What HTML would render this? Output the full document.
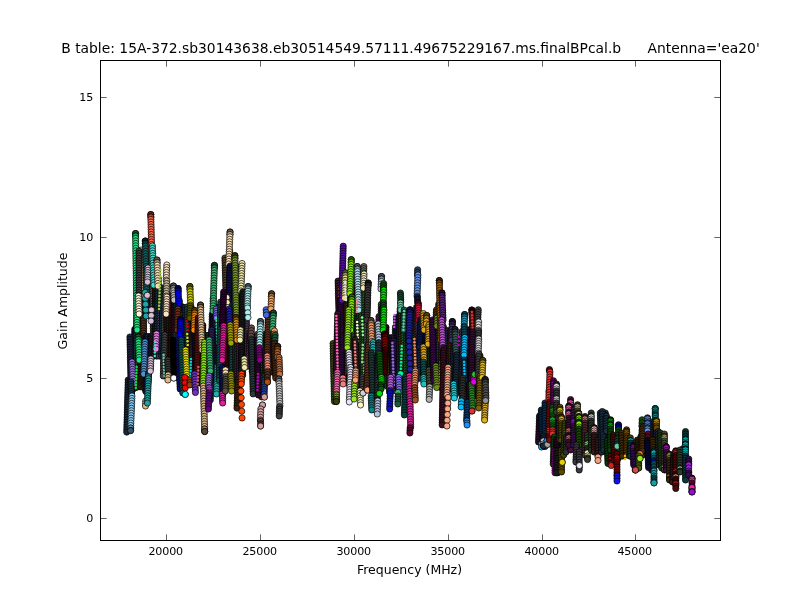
<!DOCTYPE html>
<html><head><meta charset="utf-8"><title>B table</title>
<style>
html,body{margin:0;padding:0;background:#fff;}
body{width:800px;height:600px;overflow:hidden;}
svg{display:block;}
text{font-family:"DejaVu Sans","Liberation Sans",sans-serif;fill:#000;}
.t{font-size:11.11px;letter-spacing:-0.16px;}
.l{font-size:12.5px;}
.h{font-size:13.87px;}
.c path{fill:none;stroke:none}
marker circle{stroke:#000;stroke-width:.7}
marker circle.v{stroke:none}
</style></head><body>
<svg width="800" height="600" viewBox="0 0 800 600">
<rect x="0" y="0" width="800" height="600" fill="#fff"/>
<defs>
<marker id="m0" markerWidth="8" markerHeight="8" refX="4" refY="4" markerUnits="userSpaceOnUse"><circle cx="4" cy="4" r="3.1" fill="#202a50"/></marker>
<marker id="m1" markerWidth="8" markerHeight="8" refX="4" refY="4" markerUnits="userSpaceOnUse"><circle cx="4" cy="4" r="3.1" fill="#4a3a5a"/></marker>
<marker id="m2" markerWidth="8" markerHeight="8" refX="4" refY="4" markerUnits="userSpaceOnUse"><circle cx="4" cy="4" r="3.1" fill="#101040"/></marker>
<marker id="m3" markerWidth="8" markerHeight="8" refX="4" refY="4" markerUnits="userSpaceOnUse"><circle cx="4" cy="4" r="3.1" fill="#1a4a3a"/></marker>
<marker id="m4" markerWidth="8" markerHeight="8" refX="4" refY="4" markerUnits="userSpaceOnUse"><circle cx="4" cy="4" r="3.1" fill="#2a5a2a"/></marker>
<marker id="m5" markerWidth="8" markerHeight="8" refX="4" refY="4" markerUnits="userSpaceOnUse"><circle cx="4" cy="4" r="3.1" fill="#2a1a10"/></marker>
<marker id="m6" markerWidth="8" markerHeight="8" refX="4" refY="4" markerUnits="userSpaceOnUse"><circle cx="4" cy="4" r="3.1" fill="#503020"/></marker>
<marker id="m7" markerWidth="8" markerHeight="8" refX="4" refY="4" markerUnits="userSpaceOnUse"><circle cx="4" cy="4" r="3.1" fill="#0a3a4a"/></marker>
<marker id="m8" markerWidth="8" markerHeight="8" refX="4" refY="4" markerUnits="userSpaceOnUse"><circle cx="4" cy="4" r="3.1" fill="#555555"/></marker>
<marker id="m9" markerWidth="8" markerHeight="8" refX="4" refY="4" markerUnits="userSpaceOnUse"><circle cx="4" cy="4" r="3.1" fill="#401010"/></marker>
<marker id="m10" markerWidth="8" markerHeight="8" refX="4" refY="4" markerUnits="userSpaceOnUse"><circle cx="4" cy="4" r="3.1" fill="#0a3a1a"/></marker>
<marker id="m11" markerWidth="8" markerHeight="8" refX="4" refY="4" markerUnits="userSpaceOnUse"><circle cx="4" cy="4" r="3.1" fill="#300a30"/></marker>
<marker id="m12" markerWidth="8" markerHeight="8" refX="4" refY="4" markerUnits="userSpaceOnUse"><circle cx="4" cy="4" r="3.1" fill="#602060"/></marker>
<marker id="m13" markerWidth="8" markerHeight="8" refX="4" refY="4" markerUnits="userSpaceOnUse"><circle cx="4" cy="4" r="3.1" fill="#205050"/></marker>
<marker id="m14" markerWidth="8" markerHeight="8" refX="4" refY="4" markerUnits="userSpaceOnUse"><circle cx="4" cy="4" r="3.1" fill="#303030"/></marker>
<marker id="m15" markerWidth="8" markerHeight="8" refX="4" refY="4" markerUnits="userSpaceOnUse"><circle cx="4" cy="4" r="3.1" fill="#3a3a10"/></marker>
<marker id="m16" markerWidth="8" markerHeight="8" refX="4" refY="4" markerUnits="userSpaceOnUse"><circle cx="4" cy="4" r="3.1" fill="#402a10"/></marker>
<marker id="m17" markerWidth="8" markerHeight="8" refX="4" refY="4" markerUnits="userSpaceOnUse"><circle cx="4" cy="4" r="3.1" fill="#10302a"/></marker>
<marker id="m18" markerWidth="8" markerHeight="8" refX="4" refY="4" markerUnits="userSpaceOnUse"><circle cx="4" cy="4" r="3.1" fill="#1a2a3a"/></marker>
<marker id="m19" markerWidth="8" markerHeight="8" refX="4" refY="4" markerUnits="userSpaceOnUse"><circle cx="4" cy="4" r="3.1" fill="#202040"/></marker>
<marker id="m20" markerWidth="8" markerHeight="8" refX="4" refY="4" markerUnits="userSpaceOnUse"><circle cx="4" cy="4" r="3.1" fill="#9370db"/></marker>
<marker id="m21" markerWidth="8" markerHeight="8" refX="4" refY="4" markerUnits="userSpaceOnUse"><circle cx="4" cy="4" r="3.1" fill="#1a3a4a"/></marker>
<marker id="m22" markerWidth="8" markerHeight="8" refX="4" refY="4" markerUnits="userSpaceOnUse"><circle cx="4" cy="4" r="3.1" fill="#87cefa"/></marker>
<marker id="m23" markerWidth="8" markerHeight="8" refX="4" refY="4" markerUnits="userSpaceOnUse"><circle cx="4" cy="4" r="3.1" fill="#5e90af"/></marker>
<marker id="m24" markerWidth="8" markerHeight="8" refX="4" refY="4" markerUnits="userSpaceOnUse"><circle cx="4" cy="4" r="3.1" fill="#365264"/></marker>
<marker id="m25" markerWidth="4" markerHeight="4" refX="2" refY="2" markerUnits="userSpaceOnUse"><circle class="v" cx="2" cy="2" r="1.25" fill="#4682b4"/></marker>
<marker id="m26" markerWidth="8" markerHeight="8" refX="4" refY="4" markerUnits="userSpaceOnUse"><circle cx="4" cy="4" r="3.1" fill="#deb887"/></marker>
<marker id="m27" markerWidth="8" markerHeight="8" refX="4" refY="4" markerUnits="userSpaceOnUse"><circle cx="4" cy="4" r="3.1" fill="#0c5c34"/></marker>
<marker id="m28" markerWidth="8" markerHeight="8" refX="4" refY="4" markerUnits="userSpaceOnUse"><circle cx="4" cy="4" r="3.1" fill="#15a15b"/></marker>
<marker id="m29" markerWidth="8" markerHeight="8" refX="4" refY="4" markerUnits="userSpaceOnUse"><circle cx="4" cy="4" r="3.1" fill="#1ee682"/></marker>
<marker id="m30" markerWidth="8" markerHeight="8" refX="4" refY="4" markerUnits="userSpaceOnUse"><circle cx="4" cy="4" r="3.1" fill="#3c3c3c"/></marker>
<marker id="m31" markerWidth="8" markerHeight="8" refX="4" refY="4" markerUnits="userSpaceOnUse"><circle cx="4" cy="4" r="3.1" fill="#fff8dc"/></marker>
<marker id="m32" markerWidth="8" markerHeight="8" refX="4" refY="4" markerUnits="userSpaceOnUse"><circle cx="4" cy="4" r="3.1" fill="#062626"/></marker>
<marker id="m33" markerWidth="8" markerHeight="8" refX="4" refY="4" markerUnits="userSpaceOnUse"><circle cx="4" cy="4" r="3.1" fill="#0a4242"/></marker>
<marker id="m34" markerWidth="8" markerHeight="8" refX="4" refY="4" markerUnits="userSpaceOnUse"><circle cx="4" cy="4" r="3.1" fill="#0f5f5f"/></marker>
<marker id="m35" markerWidth="8" markerHeight="8" refX="4" refY="4" markerUnits="userSpaceOnUse"><circle cx="4" cy="4" r="3.1" fill="#66271c"/></marker>
<marker id="m36" markerWidth="8" markerHeight="8" refX="4" refY="4" markerUnits="userSpaceOnUse"><circle cx="4" cy="4" r="3.1" fill="#b24531"/></marker>
<marker id="m37" markerWidth="8" markerHeight="8" refX="4" refY="4" markerUnits="userSpaceOnUse"><circle cx="4" cy="4" r="3.1" fill="#ff6347"/></marker>
<marker id="m38" markerWidth="8" markerHeight="8" refX="4" refY="4" markerUnits="userSpaceOnUse"><circle cx="4" cy="4" r="3.1" fill="#d8bfd8"/></marker>
<marker id="m39" markerWidth="8" markerHeight="8" refX="4" refY="4" markerUnits="userSpaceOnUse"><circle cx="4" cy="4" r="3.1" fill="#40e0d0"/></marker>
<marker id="m40" markerWidth="8" markerHeight="8" refX="4" refY="4" markerUnits="userSpaceOnUse"><circle cx="4" cy="4" r="3.1" fill="#625847"/></marker>
<marker id="m41" markerWidth="8" markerHeight="8" refX="4" refY="4" markerUnits="userSpaceOnUse"><circle cx="4" cy="4" r="3.1" fill="#ab9b7d"/></marker>
<marker id="m42" markerWidth="8" markerHeight="8" refX="4" refY="4" markerUnits="userSpaceOnUse"><circle cx="4" cy="4" r="3.1" fill="#f5deb3"/></marker>
<marker id="m43" markerWidth="4" markerHeight="4" refX="2" refY="2" markerUnits="userSpaceOnUse"><circle class="v" cx="2" cy="2" r="1.25" fill="#9acd32"/></marker>
<marker id="m44" markerWidth="8" markerHeight="8" refX="4" refY="4" markerUnits="userSpaceOnUse"><circle cx="4" cy="4" r="3.1" fill="#ffe4c4"/></marker>
<marker id="m45" markerWidth="8" markerHeight="8" refX="4" refY="4" markerUnits="userSpaceOnUse"><circle cx="4" cy="4" r="3.1" fill="#c8b89a"/></marker>
<marker id="m46" markerWidth="8" markerHeight="8" refX="4" refY="4" markerUnits="userSpaceOnUse"><circle cx="4" cy="4" r="3.1" fill="#20a5a5"/></marker>
<marker id="m47" markerWidth="4" markerHeight="4" refX="2" refY="2" markerUnits="userSpaceOnUse"><circle class="v" cx="2" cy="2" r="1.25" fill="#00e040"/></marker>
<marker id="m48" markerWidth="8" markerHeight="8" refX="4" refY="4" markerUnits="userSpaceOnUse"><circle cx="4" cy="4" r="3.1" fill="#5090d0"/></marker>
<marker id="m49" markerWidth="8" markerHeight="8" refX="4" refY="4" markerUnits="userSpaceOnUse"><circle cx="4" cy="4" r="3.1" fill="#ee82ee"/></marker>
<marker id="m50" markerWidth="4" markerHeight="4" refX="2" refY="2" markerUnits="userSpaceOnUse"><circle class="v" cx="2" cy="2" r="1.25" fill="#40e0d0"/></marker>
<marker id="m51" markerWidth="8" markerHeight="8" refX="4" refY="4" markerUnits="userSpaceOnUse"><circle cx="4" cy="4" r="3.1" fill="#404040"/></marker>
<marker id="m52" markerWidth="4" markerHeight="4" refX="2" refY="2" markerUnits="userSpaceOnUse"><circle class="v" cx="2" cy="2" r="1.25" fill="#66cdaa"/></marker>
<marker id="m53" markerWidth="8" markerHeight="8" refX="4" refY="4" markerUnits="userSpaceOnUse"><circle cx="4" cy="4" r="3.1" fill="#0c4040"/></marker>
<marker id="m54" markerWidth="8" markerHeight="8" refX="4" refY="4" markerUnits="userSpaceOnUse"><circle cx="4" cy="4" r="3.1" fill="#167070"/></marker>
<marker id="m55" markerWidth="8" markerHeight="8" refX="4" refY="4" markerUnits="userSpaceOnUse"><circle cx="4" cy="4" r="3.1" fill="#20a0a0"/></marker>
<marker id="m56" markerWidth="8" markerHeight="8" refX="4" refY="4" markerUnits="userSpaceOnUse"><circle cx="4" cy="4" r="3.1" fill="#3a3a3a"/></marker>
<marker id="m57" markerWidth="8" markerHeight="8" refX="4" refY="4" markerUnits="userSpaceOnUse"><circle cx="4" cy="4" r="3.1" fill="#4c4c4c"/></marker>
<marker id="m58" markerWidth="8" markerHeight="8" refX="4" refY="4" markerUnits="userSpaceOnUse"><circle cx="4" cy="4" r="3.1" fill="#868686"/></marker>
<marker id="m59" markerWidth="8" markerHeight="8" refX="4" refY="4" markerUnits="userSpaceOnUse"><circle cx="4" cy="4" r="3.1" fill="#c0c0c0"/></marker>
<marker id="m60" markerWidth="8" markerHeight="8" refX="4" refY="4" markerUnits="userSpaceOnUse"><circle cx="4" cy="4" r="3.1" fill="#000000"/></marker>
<marker id="m61" markerWidth="8" markerHeight="8" refX="4" refY="4" markerUnits="userSpaceOnUse"><circle cx="4" cy="4" r="3.1" fill="#ffffff"/></marker>
<marker id="m62" markerWidth="8" markerHeight="8" refX="4" refY="4" markerUnits="userSpaceOnUse"><circle cx="4" cy="4" r="3.1" fill="#000066"/></marker>
<marker id="m63" markerWidth="8" markerHeight="8" refX="4" refY="4" markerUnits="userSpaceOnUse"><circle cx="4" cy="4" r="3.1" fill="#0000b2"/></marker>
<marker id="m64" markerWidth="8" markerHeight="8" refX="4" refY="4" markerUnits="userSpaceOnUse"><circle cx="4" cy="4" r="3.1" fill="#0000ff"/></marker>
<marker id="m65" markerWidth="8" markerHeight="8" refX="4" refY="4" markerUnits="userSpaceOnUse"><circle cx="4" cy="4" r="3.1" fill="#6b3010"/></marker>
<marker id="m66" markerWidth="8" markerHeight="8" refX="4" refY="4" markerUnits="userSpaceOnUse"><circle cx="4" cy="4" r="3.1" fill="#101080"/></marker>
<marker id="m67" markerWidth="8" markerHeight="8" refX="4" refY="4" markerUnits="userSpaceOnUse"><circle cx="4" cy="4" r="3.1" fill="#0f4f4f"/></marker>
<marker id="m68" markerWidth="4" markerHeight="4" refX="2" refY="2" markerUnits="userSpaceOnUse"><circle class="v" cx="2" cy="2" r="1.25" fill="#e00000"/></marker>
<marker id="m69" markerWidth="4" markerHeight="4" refX="2" refY="2" markerUnits="userSpaceOnUse"><circle class="v" cx="2" cy="2" r="1.25" fill="#e0e000"/></marker>
<marker id="m70" markerWidth="8" markerHeight="8" refX="4" refY="4" markerUnits="userSpaceOnUse"><circle cx="4" cy="4" r="3.1" fill="#515100"/></marker>
<marker id="m71" markerWidth="8" markerHeight="8" refX="4" refY="4" markerUnits="userSpaceOnUse"><circle cx="4" cy="4" r="3.1" fill="#8e8e00"/></marker>
<marker id="m72" markerWidth="8" markerHeight="8" refX="4" refY="4" markerUnits="userSpaceOnUse"><circle cx="4" cy="4" r="3.1" fill="#cccc00"/></marker>
<marker id="m73" markerWidth="8" markerHeight="8" refX="4" refY="4" markerUnits="userSpaceOnUse"><circle cx="4" cy="4" r="3.1" fill="#555500"/></marker>
<marker id="m74" markerWidth="8" markerHeight="8" refX="4" refY="4" markerUnits="userSpaceOnUse"><circle cx="4" cy="4" r="3.1" fill="#663800"/></marker>
<marker id="m75" markerWidth="8" markerHeight="8" refX="4" refY="4" markerUnits="userSpaceOnUse"><circle cx="4" cy="4" r="3.1" fill="#b26200"/></marker>
<marker id="m76" markerWidth="8" markerHeight="8" refX="4" refY="4" markerUnits="userSpaceOnUse"><circle cx="4" cy="4" r="3.1" fill="#ff8c00"/></marker>
<marker id="m77" markerWidth="8" markerHeight="8" refX="4" refY="4" markerUnits="userSpaceOnUse"><circle cx="4" cy="4" r="3.1" fill="#5a1010"/></marker>
<marker id="m78" markerWidth="8" markerHeight="8" refX="4" refY="4" markerUnits="userSpaceOnUse"><circle cx="4" cy="4" r="3.1" fill="#5c4c39"/></marker>
<marker id="m79" markerWidth="8" markerHeight="8" refX="4" refY="4" markerUnits="userSpaceOnUse"><circle cx="4" cy="4" r="3.1" fill="#a28664"/></marker>
<marker id="m80" markerWidth="8" markerHeight="8" refX="4" refY="4" markerUnits="userSpaceOnUse"><circle cx="4" cy="4" r="3.1" fill="#e8c090"/></marker>
<marker id="m81" markerWidth="8" markerHeight="8" refX="4" refY="4" markerUnits="userSpaceOnUse"><circle cx="4" cy="4" r="3.1" fill="#e8e000"/></marker>
<marker id="m82" markerWidth="8" markerHeight="8" refX="4" refY="4" markerUnits="userSpaceOnUse"><circle cx="4" cy="4" r="3.1" fill="#ff0000"/></marker>
<marker id="m83" markerWidth="8" markerHeight="8" refX="4" refY="4" markerUnits="userSpaceOnUse"><circle cx="4" cy="4" r="3.1" fill="#00ffff"/></marker>
<marker id="m84" markerWidth="4" markerHeight="4" refX="2" refY="2" markerUnits="userSpaceOnUse"><circle class="v" cx="2" cy="2" r="1.25" fill="#00ced1"/></marker>
<marker id="m85" markerWidth="8" markerHeight="8" refX="4" refY="4" markerUnits="userSpaceOnUse"><circle cx="4" cy="4" r="3.1" fill="#8b4513"/></marker>
<marker id="m86" markerWidth="8" markerHeight="8" refX="4" refY="4" markerUnits="userSpaceOnUse"><circle cx="4" cy="4" r="3.1" fill="#7030c0"/></marker>
<marker id="m87" markerWidth="4" markerHeight="4" refX="2" refY="2" markerUnits="userSpaceOnUse"><circle class="v" cx="2" cy="2" r="1.25" fill="#cd5c5c"/></marker>
<marker id="m88" markerWidth="8" markerHeight="8" refX="4" refY="4" markerUnits="userSpaceOnUse"><circle cx="4" cy="4" r="3.1" fill="#88e810"/></marker>
<marker id="m89" markerWidth="8" markerHeight="8" refX="4" refY="4" markerUnits="userSpaceOnUse"><circle cx="4" cy="4" r="3.1" fill="#9b805e"/></marker>
<marker id="m90" markerWidth="8" markerHeight="8" refX="4" refY="4" markerUnits="userSpaceOnUse"><circle cx="4" cy="4" r="3.1" fill="#584936"/></marker>
<marker id="m91" markerWidth="8" markerHeight="8" refX="4" refY="4" markerUnits="userSpaceOnUse"><circle cx="4" cy="4" r="3.1" fill="#18472d"/></marker>
<marker id="m92" markerWidth="8" markerHeight="8" refX="4" refY="4" markerUnits="userSpaceOnUse"><circle cx="4" cy="4" r="3.1" fill="#2a7d4f"/></marker>
<marker id="m93" markerWidth="8" markerHeight="8" refX="4" refY="4" markerUnits="userSpaceOnUse"><circle cx="4" cy="4" r="3.1" fill="#3cb371"/></marker>
<marker id="m94" markerWidth="8" markerHeight="8" refX="4" refY="4" markerUnits="userSpaceOnUse"><circle cx="4" cy="4" r="3.1" fill="#7b68ee"/></marker>
<marker id="m95" markerWidth="4" markerHeight="4" refX="2" refY="2" markerUnits="userSpaceOnUse"><circle class="v" cx="2" cy="2" r="1.25" fill="#40e0a0"/></marker>
<marker id="m96" markerWidth="8" markerHeight="8" refX="4" refY="4" markerUnits="userSpaceOnUse"><circle cx="4" cy="4" r="3.1" fill="#2a2060"/></marker>
<marker id="m97" markerWidth="8" markerHeight="8" refX="4" refY="4" markerUnits="userSpaceOnUse"><circle cx="4" cy="4" r="3.1" fill="#ba55d3"/></marker>
<marker id="m98" markerWidth="8" markerHeight="8" refX="4" refY="4" markerUnits="userSpaceOnUse"><circle cx="4" cy="4" r="3.1" fill="#600080"/></marker>
<marker id="m99" markerWidth="8" markerHeight="8" refX="4" refY="4" markerUnits="userSpaceOnUse"><circle cx="4" cy="4" r="3.1" fill="#20b2aa"/></marker>
<marker id="m100" markerWidth="8" markerHeight="8" refX="4" refY="4" markerUnits="userSpaceOnUse"><circle cx="4" cy="4" r="3.1" fill="#0f5050"/></marker>
<marker id="m101" markerWidth="8" markerHeight="8" refX="4" refY="4" markerUnits="userSpaceOnUse"><circle cx="4" cy="4" r="3.1" fill="#4a4030"/></marker>
<marker id="m102" markerWidth="8" markerHeight="8" refX="4" refY="4" markerUnits="userSpaceOnUse"><circle cx="4" cy="4" r="3.1" fill="#665b48"/></marker>
<marker id="m103" markerWidth="8" markerHeight="8" refX="4" refY="4" markerUnits="userSpaceOnUse"><circle cx="4" cy="4" r="3.1" fill="#b29f7e"/></marker>
<marker id="m104" markerWidth="8" markerHeight="8" refX="4" refY="4" markerUnits="userSpaceOnUse"><circle cx="4" cy="4" r="3.1" fill="#ffe4b5"/></marker>
<marker id="m105" markerWidth="8" markerHeight="8" refX="4" refY="4" markerUnits="userSpaceOnUse"><circle cx="4" cy="4" r="3.1" fill="#10104a"/></marker>
<marker id="m106" markerWidth="8" markerHeight="8" refX="4" refY="4" markerUnits="userSpaceOnUse"><circle cx="4" cy="4" r="3.1" fill="#2020a0"/></marker>
<marker id="m107" markerWidth="8" markerHeight="8" refX="4" refY="4" markerUnits="userSpaceOnUse"><circle cx="4" cy="4" r="3.1" fill="#300030"/></marker>
<marker id="m108" markerWidth="8" markerHeight="8" refX="4" refY="4" markerUnits="userSpaceOnUse"><circle cx="4" cy="4" r="3.1" fill="#e0209a"/></marker>
<marker id="m109" markerWidth="8" markerHeight="8" refX="4" refY="4" markerUnits="userSpaceOnUse"><circle cx="4" cy="4" r="3.1" fill="#101060"/></marker>
<marker id="m110" markerWidth="8" markerHeight="8" refX="4" refY="4" markerUnits="userSpaceOnUse"><circle cx="4" cy="4" r="3.1" fill="#e020a0"/></marker>
<marker id="m111" markerWidth="8" markerHeight="8" refX="4" refY="4" markerUnits="userSpaceOnUse"><circle cx="4" cy="4" r="3.1" fill="#5a5040"/></marker>
<marker id="m112" markerWidth="8" markerHeight="8" refX="4" refY="4" markerUnits="userSpaceOnUse"><circle cx="4" cy="4" r="3.1" fill="#a0a000"/></marker>
<marker id="m113" markerWidth="8" markerHeight="8" refX="4" refY="4" markerUnits="userSpaceOnUse"><circle cx="4" cy="4" r="3.1" fill="#909010"/></marker>
<marker id="m114" markerWidth="8" markerHeight="8" refX="4" refY="4" markerUnits="userSpaceOnUse"><circle cx="4" cy="4" r="3.1" fill="#303d10"/></marker>
<marker id="m115" markerWidth="8" markerHeight="8" refX="4" refY="4" markerUnits="userSpaceOnUse"><circle cx="4" cy="4" r="3.1" fill="#556b1d"/></marker>
<marker id="m116" markerWidth="8" markerHeight="8" refX="4" refY="4" markerUnits="userSpaceOnUse"><circle cx="4" cy="4" r="3.1" fill="#7a9a2a"/></marker>
<marker id="m117" markerWidth="8" markerHeight="8" refX="4" refY="4" markerUnits="userSpaceOnUse"><circle cx="4" cy="4" r="3.1" fill="#593906"/></marker>
<marker id="m118" markerWidth="8" markerHeight="8" refX="4" refY="4" markerUnits="userSpaceOnUse"><circle cx="4" cy="4" r="3.1" fill="#9c640b"/></marker>
<marker id="m119" markerWidth="8" markerHeight="8" refX="4" refY="4" markerUnits="userSpaceOnUse"><circle cx="4" cy="4" r="3.1" fill="#e09010"/></marker>
<marker id="m120" markerWidth="8" markerHeight="8" refX="4" refY="4" markerUnits="userSpaceOnUse"><circle cx="4" cy="4" r="3.1" fill="#3a2010"/></marker>
<marker id="m121" markerWidth="8" markerHeight="8" refX="4" refY="4" markerUnits="userSpaceOnUse"><circle cx="4" cy="4" r="3.1" fill="#eee8aa"/></marker>
<marker id="m122" markerWidth="8" markerHeight="8" refX="4" refY="4" markerUnits="userSpaceOnUse"><circle cx="4" cy="4" r="3.1" fill="#1a1a1a"/></marker>
<marker id="m123" markerWidth="8" markerHeight="8" refX="4" refY="4" markerUnits="userSpaceOnUse"><circle cx="4" cy="4" r="3.1" fill="#ff4500"/></marker>
<marker id="m124" markerWidth="8" markerHeight="8" refX="4" refY="4" markerUnits="userSpaceOnUse"><circle cx="4" cy="4" r="3.1" fill="#465f5f"/></marker>
<marker id="m125" markerWidth="8" markerHeight="8" refX="4" refY="4" markerUnits="userSpaceOnUse"><circle cx="4" cy="4" r="3.1" fill="#7aa6a6"/></marker>
<marker id="m126" markerWidth="8" markerHeight="8" refX="4" refY="4" markerUnits="userSpaceOnUse"><circle cx="4" cy="4" r="3.1" fill="#afeeee"/></marker>
<marker id="m127" markerWidth="8" markerHeight="8" refX="4" refY="4" markerUnits="userSpaceOnUse"><circle cx="4" cy="4" r="3.1" fill="#6b4a4a"/></marker>
<marker id="m128" markerWidth="8" markerHeight="8" refX="4" refY="4" markerUnits="userSpaceOnUse"><circle cx="4" cy="4" r="3.1" fill="#2a3a3a"/></marker>
<marker id="m129" markerWidth="8" markerHeight="8" refX="4" refY="4" markerUnits="userSpaceOnUse"><circle cx="4" cy="4" r="3.1" fill="#2a0a2a"/></marker>
<marker id="m130" markerWidth="4" markerHeight="4" refX="2" refY="2" markerUnits="userSpaceOnUse"><circle class="v" cx="2" cy="2" r="1.25" fill="#c000c0"/></marker>
<marker id="m131" markerWidth="8" markerHeight="8" refX="4" refY="4" markerUnits="userSpaceOnUse"><circle cx="4" cy="4" r="3.1" fill="#800080"/></marker>
<marker id="m132" markerWidth="8" markerHeight="8" refX="4" refY="4" markerUnits="userSpaceOnUse"><circle cx="4" cy="4" r="3.1" fill="#5a3020"/></marker>
<marker id="m133" markerWidth="8" markerHeight="8" refX="4" refY="4" markerUnits="userSpaceOnUse"><circle cx="4" cy="4" r="3.1" fill="#4169e1"/></marker>
<marker id="m134" markerWidth="8" markerHeight="8" refX="4" refY="4" markerUnits="userSpaceOnUse"><circle cx="4" cy="4" r="3.1" fill="#2040a0"/></marker>
<marker id="m135" markerWidth="8" markerHeight="8" refX="4" refY="4" markerUnits="userSpaceOnUse"><circle cx="4" cy="4" r="3.1" fill="#d0a0a0"/></marker>
<marker id="m136" markerWidth="8" markerHeight="8" refX="4" refY="4" markerUnits="userSpaceOnUse"><circle cx="4" cy="4" r="3.1" fill="#5a3a3a"/></marker>
<marker id="m137" markerWidth="8" markerHeight="8" refX="4" refY="4" markerUnits="userSpaceOnUse"><circle cx="4" cy="4" r="3.1" fill="#f09080"/></marker>
<marker id="m138" markerWidth="8" markerHeight="8" refX="4" refY="4" markerUnits="userSpaceOnUse"><circle cx="4" cy="4" r="3.1" fill="#b05010"/></marker>
<marker id="m139" markerWidth="8" markerHeight="8" refX="4" refY="4" markerUnits="userSpaceOnUse"><circle cx="4" cy="4" r="3.1" fill="#614126"/></marker>
<marker id="m140" markerWidth="8" markerHeight="8" refX="4" refY="4" markerUnits="userSpaceOnUse"><circle cx="4" cy="4" r="3.1" fill="#aa7243"/></marker>
<marker id="m141" markerWidth="8" markerHeight="8" refX="4" refY="4" markerUnits="userSpaceOnUse"><circle cx="4" cy="4" r="3.1" fill="#f4a460"/></marker>
<marker id="m142" markerWidth="8" markerHeight="8" refX="4" refY="4" markerUnits="userSpaceOnUse"><circle cx="4" cy="4" r="3.1" fill="#1a5a3a"/></marker>
<marker id="m143" markerWidth="8" markerHeight="8" refX="4" refY="4" markerUnits="userSpaceOnUse"><circle cx="4" cy="4" r="3.1" fill="#4a2810"/></marker>
<marker id="m144" markerWidth="8" markerHeight="8" refX="4" refY="4" markerUnits="userSpaceOnUse"><circle cx="4" cy="4" r="3.1" fill="#462613"/></marker>
<marker id="m145" markerWidth="8" markerHeight="8" refX="4" refY="4" markerUnits="userSpaceOnUse"><circle cx="4" cy="4" r="3.1" fill="#7b4321"/></marker>
<marker id="m146" markerWidth="8" markerHeight="8" refX="4" refY="4" markerUnits="userSpaceOnUse"><circle cx="4" cy="4" r="3.1" fill="#b06030"/></marker>
<marker id="m147" markerWidth="8" markerHeight="8" refX="4" refY="4" markerUnits="userSpaceOnUse"><circle cx="4" cy="4" r="3.1" fill="#c07040"/></marker>
<marker id="m148" markerWidth="8" markerHeight="8" refX="4" refY="4" markerUnits="userSpaceOnUse"><circle cx="4" cy="4" r="3.1" fill="#505050"/></marker>
<marker id="m149" markerWidth="8" markerHeight="8" refX="4" refY="4" markerUnits="userSpaceOnUse"><circle cx="4" cy="4" r="3.1" fill="#8c8c8c"/></marker>
<marker id="m150" markerWidth="8" markerHeight="8" refX="4" refY="4" markerUnits="userSpaceOnUse"><circle cx="4" cy="4" r="3.1" fill="#c8c8c8"/></marker>
<marker id="m151" markerWidth="8" markerHeight="8" refX="4" refY="4" markerUnits="userSpaceOnUse"><circle cx="4" cy="4" r="3.1" fill="#3a4a1a"/></marker>
<marker id="m152" markerWidth="8" markerHeight="8" refX="4" refY="4" markerUnits="userSpaceOnUse"><circle cx="4" cy="4" r="3.1" fill="#3a1a2a"/></marker>
<marker id="m153" markerWidth="8" markerHeight="8" refX="4" refY="4" markerUnits="userSpaceOnUse"><circle cx="4" cy="4" r="3.1" fill="#300a40"/></marker>
<marker id="m154" markerWidth="8" markerHeight="8" refX="4" refY="4" markerUnits="userSpaceOnUse"><circle cx="4" cy="4" r="3.1" fill="#5a10b0"/></marker>
<marker id="m155" markerWidth="8" markerHeight="8" refX="4" refY="4" markerUnits="userSpaceOnUse"><circle cx="4" cy="4" r="3.1" fill="#5c5839"/></marker>
<marker id="m156" markerWidth="8" markerHeight="8" refX="4" refY="4" markerUnits="userSpaceOnUse"><circle cx="4" cy="4" r="3.1" fill="#a29a64"/></marker>
<marker id="m157" markerWidth="8" markerHeight="8" refX="4" refY="4" markerUnits="userSpaceOnUse"><circle cx="4" cy="4" r="3.1" fill="#e8dc90"/></marker>
<marker id="m158" markerWidth="4" markerHeight="4" refX="2" refY="2" markerUnits="userSpaceOnUse"><circle class="v" cx="2" cy="2" r="1.25" fill="#e6e6fa"/></marker>
<marker id="m159" markerWidth="8" markerHeight="8" refX="4" refY="4" markerUnits="userSpaceOnUse"><circle cx="4" cy="4" r="3.1" fill="#3a1030"/></marker>
<marker id="m160" markerWidth="4" markerHeight="4" refX="2" refY="2" markerUnits="userSpaceOnUse"><circle class="v" cx="2" cy="2" r="1.25" fill="#ff69b4"/></marker>
<marker id="m161" markerWidth="8" markerHeight="8" refX="4" refY="4" markerUnits="userSpaceOnUse"><circle cx="4" cy="4" r="3.1" fill="#ff69b4"/></marker>
<marker id="m162" markerWidth="8" markerHeight="8" refX="4" refY="4" markerUnits="userSpaceOnUse"><circle cx="4" cy="4" r="3.1" fill="#80a020"/></marker>
<marker id="m163" markerWidth="8" markerHeight="8" refX="4" refY="4" markerUnits="userSpaceOnUse"><circle cx="4" cy="4" r="3.1" fill="#597016"/></marker>
<marker id="m164" markerWidth="8" markerHeight="8" refX="4" refY="4" markerUnits="userSpaceOnUse"><circle cx="4" cy="4" r="3.1" fill="#33400c"/></marker>
<marker id="m165" markerWidth="8" markerHeight="8" refX="4" refY="4" markerUnits="userSpaceOnUse"><circle cx="4" cy="4" r="3.1" fill="#f08080"/></marker>
<marker id="m166" markerWidth="8" markerHeight="8" refX="4" refY="4" markerUnits="userSpaceOnUse"><circle cx="4" cy="4" r="3.1" fill="#336000"/></marker>
<marker id="m167" markerWidth="8" markerHeight="8" refX="4" refY="4" markerUnits="userSpaceOnUse"><circle cx="4" cy="4" r="3.1" fill="#59a800"/></marker>
<marker id="m168" markerWidth="8" markerHeight="8" refX="4" refY="4" markerUnits="userSpaceOnUse"><circle cx="4" cy="4" r="3.1" fill="#80f000"/></marker>
<marker id="m169" markerWidth="8" markerHeight="8" refX="4" refY="4" markerUnits="userSpaceOnUse"><circle cx="4" cy="4" r="3.1" fill="#90e020"/></marker>
<marker id="m170" markerWidth="8" markerHeight="8" refX="4" refY="4" markerUnits="userSpaceOnUse"><circle cx="4" cy="4" r="3.1" fill="#e6e6fa"/></marker>
<marker id="m171" markerWidth="8" markerHeight="8" refX="4" refY="4" markerUnits="userSpaceOnUse"><circle cx="4" cy="4" r="3.1" fill="#465960"/></marker>
<marker id="m172" markerWidth="8" markerHeight="8" refX="4" refY="4" markerUnits="userSpaceOnUse"><circle cx="4" cy="4" r="3.1" fill="#7b9ca8"/></marker>
<marker id="m173" markerWidth="8" markerHeight="8" refX="4" refY="4" markerUnits="userSpaceOnUse"><circle cx="4" cy="4" r="3.1" fill="#b0e0f0"/></marker>
<marker id="m174" markerWidth="4" markerHeight="4" refX="2" refY="2" markerUnits="userSpaceOnUse"><circle class="v" cx="2" cy="2" r="1.25" fill="#f08080"/></marker>
<marker id="m175" markerWidth="4" markerHeight="4" refX="2" refY="2" markerUnits="userSpaceOnUse"><circle class="v" cx="2" cy="2" r="1.25" fill="#fafac0"/></marker>
<marker id="m176" markerWidth="8" markerHeight="8" refX="4" refY="4" markerUnits="userSpaceOnUse"><circle cx="4" cy="4" r="3.1" fill="#3a2020"/></marker>
<marker id="m177" markerWidth="8" markerHeight="8" refX="4" refY="4" markerUnits="userSpaceOnUse"><circle cx="4" cy="4" r="3.1" fill="#9ae820"/></marker>
<marker id="m178" markerWidth="8" markerHeight="8" refX="4" refY="4" markerUnits="userSpaceOnUse"><circle cx="4" cy="4" r="3.1" fill="#ffa07a"/></marker>
<marker id="m179" markerWidth="8" markerHeight="8" refX="4" refY="4" markerUnits="userSpaceOnUse"><circle cx="4" cy="4" r="3.1" fill="#6b6b5a"/></marker>
<marker id="m180" markerWidth="8" markerHeight="8" refX="4" refY="4" markerUnits="userSpaceOnUse"><circle cx="4" cy="4" r="3.1" fill="#f0ebc0"/></marker>
<marker id="m181" markerWidth="8" markerHeight="8" refX="4" refY="4" markerUnits="userSpaceOnUse"><circle cx="4" cy="4" r="3.1" fill="#161616"/></marker>
<marker id="m182" markerWidth="8" markerHeight="8" refX="4" refY="4" markerUnits="userSpaceOnUse"><circle cx="4" cy="4" r="3.1" fill="#272727"/></marker>
<marker id="m183" markerWidth="8" markerHeight="8" refX="4" refY="4" markerUnits="userSpaceOnUse"><circle cx="4" cy="4" r="3.1" fill="#383838"/></marker>
<marker id="m184" markerWidth="4" markerHeight="4" refX="2" refY="2" markerUnits="userSpaceOnUse"><circle class="v" cx="2" cy="2" r="1.25" fill="#98fb98"/></marker>
<marker id="m185" markerWidth="4" markerHeight="4" refX="2" refY="2" markerUnits="userSpaceOnUse"><circle class="v" cx="2" cy="2" r="1.25" fill="#80e080"/></marker>
<marker id="m186" markerWidth="4" markerHeight="4" refX="2" refY="2" markerUnits="userSpaceOnUse"><circle class="v" cx="2" cy="2" r="1.25" fill="#ffb6c1"/></marker>
<marker id="m187" markerWidth="8" markerHeight="8" refX="4" refY="4" markerUnits="userSpaceOnUse"><circle cx="4" cy="4" r="3.1" fill="#fafac0"/></marker>
<marker id="m188" markerWidth="8" markerHeight="8" refX="4" refY="4" markerUnits="userSpaceOnUse"><circle cx="4" cy="4" r="3.1" fill="#d0d0d0"/></marker>
<marker id="m189" markerWidth="8" markerHeight="8" refX="4" refY="4" markerUnits="userSpaceOnUse"><circle cx="4" cy="4" r="3.1" fill="#60402c"/></marker>
<marker id="m190" markerWidth="8" markerHeight="8" refX="4" refY="4" markerUnits="userSpaceOnUse"><circle cx="4" cy="4" r="3.1" fill="#a8704e"/></marker>
<marker id="m191" markerWidth="8" markerHeight="8" refX="4" refY="4" markerUnits="userSpaceOnUse"><circle cx="4" cy="4" r="3.1" fill="#f0a070"/></marker>
<marker id="m192" markerWidth="8" markerHeight="8" refX="4" refY="4" markerUnits="userSpaceOnUse"><circle cx="4" cy="4" r="3.1" fill="#20b0b0"/></marker>
<marker id="m193" markerWidth="8" markerHeight="8" refX="4" refY="4" markerUnits="userSpaceOnUse"><circle cx="4" cy="4" r="3.1" fill="#203a3a"/></marker>
<marker id="m194" markerWidth="8" markerHeight="8" refX="4" refY="4" markerUnits="userSpaceOnUse"><circle cx="4" cy="4" r="3.1" fill="#108080"/></marker>
<marker id="m195" markerWidth="8" markerHeight="8" refX="4" refY="4" markerUnits="userSpaceOnUse"><circle cx="4" cy="4" r="3.1" fill="#464e58"/></marker>
<marker id="m196" markerWidth="8" markerHeight="8" refX="4" refY="4" markerUnits="userSpaceOnUse"><circle cx="4" cy="4" r="3.1" fill="#7b899b"/></marker>
<marker id="m197" markerWidth="8" markerHeight="8" refX="4" refY="4" markerUnits="userSpaceOnUse"><circle cx="4" cy="4" r="3.1" fill="#b0c4de"/></marker>
<marker id="m198" markerWidth="8" markerHeight="8" refX="4" refY="4" markerUnits="userSpaceOnUse"><circle cx="4" cy="4" r="3.1" fill="#2a3440"/></marker>
<marker id="m199" markerWidth="8" markerHeight="8" refX="4" refY="4" markerUnits="userSpaceOnUse"><circle cx="4" cy="4" r="3.1" fill="#0a5a0a"/></marker>
<marker id="m200" markerWidth="8" markerHeight="8" refX="4" refY="4" markerUnits="userSpaceOnUse"><circle cx="4" cy="4" r="3.1" fill="#00e000"/></marker>
<marker id="m201" markerWidth="8" markerHeight="8" refX="4" refY="4" markerUnits="userSpaceOnUse"><circle cx="4" cy="4" r="3.1" fill="#330000"/></marker>
<marker id="m202" markerWidth="8" markerHeight="8" refX="4" refY="4" markerUnits="userSpaceOnUse"><circle cx="4" cy="4" r="3.1" fill="#590000"/></marker>
<marker id="m203" markerWidth="8" markerHeight="8" refX="4" refY="4" markerUnits="userSpaceOnUse"><circle cx="4" cy="4" r="3.1" fill="#800000"/></marker>
<marker id="m204" markerWidth="8" markerHeight="8" refX="4" refY="4" markerUnits="userSpaceOnUse"><circle cx="4" cy="4" r="3.1" fill="#400000"/></marker>
<marker id="m205" markerWidth="4" markerHeight="4" refX="2" refY="2" markerUnits="userSpaceOnUse"><circle class="v" cx="2" cy="2" r="1.25" fill="#ba55d3"/></marker>
<marker id="m206" markerWidth="8" markerHeight="8" refX="4" refY="4" markerUnits="userSpaceOnUse"><circle cx="4" cy="4" r="3.1" fill="#2a1a4a"/></marker>
<marker id="m207" markerWidth="4" markerHeight="4" refX="2" refY="2" markerUnits="userSpaceOnUse"><circle class="v" cx="2" cy="2" r="1.25" fill="#9370db"/></marker>
<marker id="m208" markerWidth="8" markerHeight="8" refX="4" refY="4" markerUnits="userSpaceOnUse"><circle cx="4" cy="4" r="3.1" fill="#c060e0"/></marker>
<marker id="m209" markerWidth="8" markerHeight="8" refX="4" refY="4" markerUnits="userSpaceOnUse"><circle cx="4" cy="4" r="3.1" fill="#1010c0"/></marker>
<marker id="m210" markerWidth="8" markerHeight="8" refX="4" refY="4" markerUnits="userSpaceOnUse"><circle cx="4" cy="4" r="3.1" fill="#1a4a30"/></marker>
<marker id="m211" markerWidth="8" markerHeight="8" refX="4" refY="4" markerUnits="userSpaceOnUse"><circle cx="4" cy="4" r="3.1" fill="#66cdaa"/></marker>
<marker id="m212" markerWidth="8" markerHeight="8" refX="4" refY="4" markerUnits="userSpaceOnUse"><circle cx="4" cy="4" r="3.1" fill="#1a5a40"/></marker>
<marker id="m213" markerWidth="4" markerHeight="4" refX="2" refY="2" markerUnits="userSpaceOnUse"><circle class="v" cx="2" cy="2" r="1.25" fill="#00fa9a"/></marker>
<marker id="m214" markerWidth="8" markerHeight="8" refX="4" refY="4" markerUnits="userSpaceOnUse"><circle cx="4" cy="4" r="3.1" fill="#00fa9a"/></marker>
<marker id="m215" markerWidth="8" markerHeight="8" refX="4" refY="4" markerUnits="userSpaceOnUse"><circle cx="4" cy="4" r="3.1" fill="#8470ff"/></marker>
<marker id="m216" markerWidth="8" markerHeight="8" refX="4" refY="4" markerUnits="userSpaceOnUse"><circle cx="4" cy="4" r="3.1" fill="#0a4040"/></marker>
<marker id="m217" markerWidth="8" markerHeight="8" refX="4" refY="4" markerUnits="userSpaceOnUse"><circle cx="4" cy="4" r="3.1" fill="#0c0c3d"/></marker>
<marker id="m218" markerWidth="8" markerHeight="8" refX="4" refY="4" markerUnits="userSpaceOnUse"><circle cx="4" cy="4" r="3.1" fill="#16166b"/></marker>
<marker id="m219" markerWidth="8" markerHeight="8" refX="4" refY="4" markerUnits="userSpaceOnUse"><circle cx="4" cy="4" r="3.1" fill="#20209a"/></marker>
<marker id="m220" markerWidth="8" markerHeight="8" refX="4" refY="4" markerUnits="userSpaceOnUse"><circle cx="4" cy="4" r="3.1" fill="#600030"/></marker>
<marker id="m221" markerWidth="4" markerHeight="4" refX="2" refY="2" markerUnits="userSpaceOnUse"><circle class="v" cx="2" cy="2" r="1.25" fill="#f09060"/></marker>
<marker id="m222" markerWidth="8" markerHeight="8" refX="4" refY="4" markerUnits="userSpaceOnUse"><circle cx="4" cy="4" r="3.1" fill="#f09060"/></marker>
<marker id="m223" markerWidth="8" markerHeight="8" refX="4" refY="4" markerUnits="userSpaceOnUse"><circle cx="4" cy="4" r="3.1" fill="#a05020"/></marker>
<marker id="m224" markerWidth="8" markerHeight="8" refX="4" refY="4" markerUnits="userSpaceOnUse"><circle cx="4" cy="4" r="3.1" fill="#2a4060"/></marker>
<marker id="m225" markerWidth="8" markerHeight="8" refX="4" refY="4" markerUnits="userSpaceOnUse"><circle cx="4" cy="4" r="3.1" fill="#6495ed"/></marker>
<marker id="m226" markerWidth="8" markerHeight="8" refX="4" refY="4" markerUnits="userSpaceOnUse"><circle cx="4" cy="4" r="3.1" fill="#101840"/></marker>
<marker id="m227" markerWidth="8" markerHeight="8" refX="4" refY="4" markerUnits="userSpaceOnUse"><circle cx="4" cy="4" r="3.1" fill="#580818"/></marker>
<marker id="m228" markerWidth="8" markerHeight="8" refX="4" refY="4" markerUnits="userSpaceOnUse"><circle cx="4" cy="4" r="3.1" fill="#9a0e2a"/></marker>
<marker id="m229" markerWidth="8" markerHeight="8" refX="4" refY="4" markerUnits="userSpaceOnUse"><circle cx="4" cy="4" r="3.1" fill="#dc143c"/></marker>
<marker id="m230" markerWidth="8" markerHeight="8" refX="4" refY="4" markerUnits="userSpaceOnUse"><circle cx="4" cy="4" r="3.1" fill="#101848"/></marker>
<marker id="m231" markerWidth="8" markerHeight="8" refX="4" refY="4" markerUnits="userSpaceOnUse"><circle cx="4" cy="4" r="3.1" fill="#daa520"/></marker>
<marker id="m232" markerWidth="8" markerHeight="8" refX="4" refY="4" markerUnits="userSpaceOnUse"><circle cx="4" cy="4" r="3.1" fill="#20c0c0"/></marker>
<marker id="m233" markerWidth="8" markerHeight="8" refX="4" refY="4" markerUnits="userSpaceOnUse"><circle cx="4" cy="4" r="3.1" fill="#57420c"/></marker>
<marker id="m234" markerWidth="8" markerHeight="8" refX="4" refY="4" markerUnits="userSpaceOnUse"><circle cx="4" cy="4" r="3.1" fill="#987316"/></marker>
<marker id="m235" markerWidth="8" markerHeight="8" refX="4" refY="4" markerUnits="userSpaceOnUse"><circle cx="4" cy="4" r="3.1" fill="#4a4a30"/></marker>
<marker id="m236" markerWidth="8" markerHeight="8" refX="4" refY="4" markerUnits="userSpaceOnUse"><circle cx="4" cy="4" r="3.1" fill="#b0b0b0"/></marker>
<marker id="m237" markerWidth="8" markerHeight="8" refX="4" refY="4" markerUnits="userSpaceOnUse"><circle cx="4" cy="4" r="3.1" fill="#3a0a4a"/></marker>
<marker id="m238" markerWidth="8" markerHeight="8" refX="4" refY="4" markerUnits="userSpaceOnUse"><circle cx="4" cy="4" r="3.1" fill="#5a3000"/></marker>
<marker id="m239" markerWidth="8" markerHeight="8" refX="4" refY="4" markerUnits="userSpaceOnUse"><circle cx="4" cy="4" r="3.1" fill="#6b8e23"/></marker>
<marker id="m240" markerWidth="8" markerHeight="8" refX="4" refY="4" markerUnits="userSpaceOnUse"><circle cx="4" cy="4" r="3.1" fill="#402600"/></marker>
<marker id="m241" markerWidth="8" markerHeight="8" refX="4" refY="4" markerUnits="userSpaceOnUse"><circle cx="4" cy="4" r="3.1" fill="#704300"/></marker>
<marker id="m242" markerWidth="8" markerHeight="8" refX="4" refY="4" markerUnits="userSpaceOnUse"><circle cx="4" cy="4" r="3.1" fill="#a06000"/></marker>
<marker id="m243" markerWidth="4" markerHeight="4" refX="2" refY="2" markerUnits="userSpaceOnUse"><circle class="v" cx="2" cy="2" r="1.25" fill="#e08000"/></marker>
<marker id="m244" markerWidth="8" markerHeight="8" refX="4" refY="4" markerUnits="userSpaceOnUse"><circle cx="4" cy="4" r="3.1" fill="#240c33"/></marker>
<marker id="m245" markerWidth="8" markerHeight="8" refX="4" refY="4" markerUnits="userSpaceOnUse"><circle cx="4" cy="4" r="3.1" fill="#3e1659"/></marker>
<marker id="m246" markerWidth="8" markerHeight="8" refX="4" refY="4" markerUnits="userSpaceOnUse"><circle cx="4" cy="4" r="3.1" fill="#5a2080"/></marker>
<marker id="m247" markerWidth="8" markerHeight="8" refX="4" refY="4" markerUnits="userSpaceOnUse"><circle cx="4" cy="4" r="3.1" fill="#3a1020"/></marker>
<marker id="m248" markerWidth="8" markerHeight="8" refX="4" refY="4" markerUnits="userSpaceOnUse"><circle cx="4" cy="4" r="3.1" fill="#f8a888"/></marker>
<marker id="m249" markerWidth="8" markerHeight="8" refX="4" refY="4" markerUnits="userSpaceOnUse"><circle cx="4" cy="4" r="3.1" fill="#171326"/></marker>
<marker id="m250" markerWidth="8" markerHeight="8" refX="4" refY="4" markerUnits="userSpaceOnUse"><circle cx="4" cy="4" r="3.1" fill="#282143"/></marker>
<marker id="m251" markerWidth="8" markerHeight="8" refX="4" refY="4" markerUnits="userSpaceOnUse"><circle cx="4" cy="4" r="3.1" fill="#3a3060"/></marker>
<marker id="m252" markerWidth="8" markerHeight="8" refX="4" refY="4" markerUnits="userSpaceOnUse"><circle cx="4" cy="4" r="3.1" fill="#172424"/></marker>
<marker id="m253" markerWidth="8" markerHeight="8" refX="4" refY="4" markerUnits="userSpaceOnUse"><circle cx="4" cy="4" r="3.1" fill="#283e3e"/></marker>
<marker id="m254" markerWidth="8" markerHeight="8" refX="4" refY="4" markerUnits="userSpaceOnUse"><circle cx="4" cy="4" r="3.1" fill="#3a5a5a"/></marker>
<marker id="m255" markerWidth="8" markerHeight="8" refX="4" refY="4" markerUnits="userSpaceOnUse"><circle cx="4" cy="4" r="3.1" fill="#20d0e0"/></marker>
<marker id="m256" markerWidth="8" markerHeight="8" refX="4" refY="4" markerUnits="userSpaceOnUse"><circle cx="4" cy="4" r="3.1" fill="#064053"/></marker>
<marker id="m257" markerWidth="8" markerHeight="8" refX="4" refY="4" markerUnits="userSpaceOnUse"><circle cx="4" cy="4" r="3.1" fill="#0b7091"/></marker>
<marker id="m258" markerWidth="8" markerHeight="8" refX="4" refY="4" markerUnits="userSpaceOnUse"><circle cx="4" cy="4" r="3.1" fill="#10a0d0"/></marker>
<marker id="m259" markerWidth="8" markerHeight="8" refX="4" refY="4" markerUnits="userSpaceOnUse"><circle cx="4" cy="4" r="3.1" fill="#0a4a5a"/></marker>
<marker id="m260" markerWidth="8" markerHeight="8" refX="4" refY="4" markerUnits="userSpaceOnUse"><circle cx="4" cy="4" r="3.1" fill="#00bfff"/></marker>
<marker id="m261" markerWidth="8" markerHeight="8" refX="4" refY="4" markerUnits="userSpaceOnUse"><circle cx="4" cy="4" r="3.1" fill="#0a3a50"/></marker>
<marker id="m262" markerWidth="4" markerHeight="4" refX="2" refY="2" markerUnits="userSpaceOnUse"><circle class="v" cx="2" cy="2" r="1.25" fill="#00bfff"/></marker>
<marker id="m263" markerWidth="8" markerHeight="8" refX="4" refY="4" markerUnits="userSpaceOnUse"><circle cx="4" cy="4" r="3.1" fill="#0a3a6a"/></marker>
<marker id="m264" markerWidth="8" markerHeight="8" refX="4" refY="4" markerUnits="userSpaceOnUse"><circle cx="4" cy="4" r="3.1" fill="#1e90ff"/></marker>
<marker id="m265" markerWidth="8" markerHeight="8" refX="4" refY="4" markerUnits="userSpaceOnUse"><circle cx="4" cy="4" r="3.1" fill="#1d0606"/></marker>
<marker id="m266" markerWidth="8" markerHeight="8" refX="4" refY="4" markerUnits="userSpaceOnUse"><circle cx="4" cy="4" r="3.1" fill="#330b0b"/></marker>
<marker id="m267" markerWidth="8" markerHeight="8" refX="4" refY="4" markerUnits="userSpaceOnUse"><circle cx="4" cy="4" r="3.1" fill="#4a1010"/></marker>
<marker id="m268" markerWidth="4" markerHeight="4" refX="2" refY="2" markerUnits="userSpaceOnUse"><circle class="v" cx="2" cy="2" r="1.25" fill="#e03030"/></marker>
<marker id="m269" markerWidth="8" markerHeight="8" refX="4" refY="4" markerUnits="userSpaceOnUse"><circle cx="4" cy="4" r="3.1" fill="#301030"/></marker>
<marker id="m270" markerWidth="8" markerHeight="8" refX="4" refY="4" markerUnits="userSpaceOnUse"><circle cx="4" cy="4" r="3.1" fill="#2a8a2a"/></marker>
<marker id="m271" markerWidth="8" markerHeight="8" refX="4" refY="4" markerUnits="userSpaceOnUse"><circle cx="4" cy="4" r="3.1" fill="#e03030"/></marker>
<marker id="m272" markerWidth="8" markerHeight="8" refX="4" refY="4" markerUnits="userSpaceOnUse"><circle cx="4" cy="4" r="3.1" fill="#e000e0"/></marker>
<marker id="m273" markerWidth="8" markerHeight="8" refX="4" refY="4" markerUnits="userSpaceOnUse"><circle cx="4" cy="4" r="3.1" fill="#32cd32"/></marker>
<marker id="m274" markerWidth="8" markerHeight="8" refX="4" refY="4" markerUnits="userSpaceOnUse"><circle cx="4" cy="4" r="3.1" fill="#d8d8d8"/></marker>
<marker id="m275" markerWidth="8" markerHeight="8" refX="4" refY="4" markerUnits="userSpaceOnUse"><circle cx="4" cy="4" r="3.1" fill="#7a6010"/></marker>
<marker id="m276" markerWidth="8" markerHeight="8" refX="4" refY="4" markerUnits="userSpaceOnUse"><circle cx="4" cy="4" r="3.1" fill="#5c4c0c"/></marker>
<marker id="m277" markerWidth="8" markerHeight="8" refX="4" refY="4" markerUnits="userSpaceOnUse"><circle cx="4" cy="4" r="3.1" fill="#a28616"/></marker>
<marker id="m278" markerWidth="8" markerHeight="8" refX="4" refY="4" markerUnits="userSpaceOnUse"><circle cx="4" cy="4" r="3.1" fill="#e8c020"/></marker>
<marker id="m279" markerWidth="8" markerHeight="8" refX="4" refY="4" markerUnits="userSpaceOnUse"><circle cx="4" cy="4" r="3.1" fill="#e0b020"/></marker>
<marker id="m280" markerWidth="8" markerHeight="8" refX="4" refY="4" markerUnits="userSpaceOnUse"><circle cx="4" cy="4" r="3.1" fill="#202020"/></marker>
<marker id="m281" markerWidth="8" markerHeight="8" refX="4" refY="4" markerUnits="userSpaceOnUse"><circle cx="4" cy="4" r="3.1" fill="#909090"/></marker>
<marker id="m282" markerWidth="8" markerHeight="8" refX="4" refY="4" markerUnits="userSpaceOnUse"><circle cx="4" cy="4" r="3.1" fill="#0a2a4a"/></marker>
<marker id="m283" markerWidth="8" markerHeight="8" refX="4" refY="4" markerUnits="userSpaceOnUse"><circle cx="4" cy="4" r="3.1" fill="#0a3050"/></marker>
<marker id="m284" markerWidth="8" markerHeight="8" refX="4" refY="4" markerUnits="userSpaceOnUse"><circle cx="4" cy="4" r="3.1" fill="#a0a0a0"/></marker>
<marker id="m285" markerWidth="8" markerHeight="8" refX="4" refY="4" markerUnits="userSpaceOnUse"><circle cx="4" cy="4" r="3.1" fill="#701010"/></marker>
<marker id="m286" markerWidth="8" markerHeight="8" refX="4" refY="4" markerUnits="userSpaceOnUse"><circle cx="4" cy="4" r="3.1" fill="#600060"/></marker>
<marker id="m287" markerWidth="8" markerHeight="8" refX="4" refY="4" markerUnits="userSpaceOnUse"><circle cx="4" cy="4" r="3.1" fill="#a000a0"/></marker>
<marker id="m288" markerWidth="8" markerHeight="8" refX="4" refY="4" markerUnits="userSpaceOnUse"><circle cx="4" cy="4" r="3.1" fill="#106010"/></marker>
<marker id="m289" markerWidth="8" markerHeight="8" refX="4" refY="4" markerUnits="userSpaceOnUse"><circle cx="4" cy="4" r="3.1" fill="#20a020"/></marker>
<marker id="m290" markerWidth="8" markerHeight="8" refX="4" refY="4" markerUnits="userSpaceOnUse"><circle cx="4" cy="4" r="3.1" fill="#e8e8e8"/></marker>
<marker id="m291" markerWidth="8" markerHeight="8" refX="4" refY="4" markerUnits="userSpaceOnUse"><circle cx="4" cy="4" r="3.1" fill="#0a4a0a"/></marker>
<marker id="m292" markerWidth="8" markerHeight="8" refX="4" refY="4" markerUnits="userSpaceOnUse"><circle cx="4" cy="4" r="3.1" fill="#200a20"/></marker>
<marker id="m293" markerWidth="8" markerHeight="8" refX="4" refY="4" markerUnits="userSpaceOnUse"><circle cx="4" cy="4" r="3.1" fill="#c000c0"/></marker>
<marker id="m294" markerWidth="8" markerHeight="8" refX="4" refY="4" markerUnits="userSpaceOnUse"><circle cx="4" cy="4" r="3.1" fill="#5a4a00"/></marker>
<marker id="m295" markerWidth="8" markerHeight="8" refX="4" refY="4" markerUnits="userSpaceOnUse"><circle cx="4" cy="4" r="3.1" fill="#e0c000"/></marker>
<marker id="m296" markerWidth="8" markerHeight="8" refX="4" refY="4" markerUnits="userSpaceOnUse"><circle cx="4" cy="4" r="3.1" fill="#e0b000"/></marker>
<marker id="m297" markerWidth="8" markerHeight="8" refX="4" refY="4" markerUnits="userSpaceOnUse"><circle cx="4" cy="4" r="3.1" fill="#e8d000"/></marker>
<marker id="m298" markerWidth="8" markerHeight="8" refX="4" refY="4" markerUnits="userSpaceOnUse"><circle cx="4" cy="4" r="3.1" fill="#3a4a10"/></marker>
<marker id="m299" markerWidth="8" markerHeight="8" refX="4" refY="4" markerUnits="userSpaceOnUse"><circle cx="4" cy="4" r="3.1" fill="#4a103a"/></marker>
<marker id="m300" markerWidth="8" markerHeight="8" refX="4" refY="4" markerUnits="userSpaceOnUse"><circle cx="4" cy="4" r="3.1" fill="#e07070"/></marker>
<marker id="m301" markerWidth="8" markerHeight="8" refX="4" refY="4" markerUnits="userSpaceOnUse"><circle cx="4" cy="4" r="3.1" fill="#3a1050"/></marker>
<marker id="m302" markerWidth="8" markerHeight="8" refX="4" refY="4" markerUnits="userSpaceOnUse"><circle cx="4" cy="4" r="3.1" fill="#a020f0"/></marker>
<marker id="m303" markerWidth="8" markerHeight="8" refX="4" refY="4" markerUnits="userSpaceOnUse"><circle cx="4" cy="4" r="3.1" fill="#4a4a2a"/></marker>
<marker id="m304" markerWidth="8" markerHeight="8" refX="4" refY="4" markerUnits="userSpaceOnUse"><circle cx="4" cy="4" r="3.1" fill="#d0c880"/></marker>
<marker id="m305" markerWidth="8" markerHeight="8" refX="4" refY="4" markerUnits="userSpaceOnUse"><circle cx="4" cy="4" r="3.1" fill="#e0d890"/></marker>
<marker id="m306" markerWidth="8" markerHeight="8" refX="4" refY="4" markerUnits="userSpaceOnUse"><circle cx="4" cy="4" r="3.1" fill="#1a4a00"/></marker>
<marker id="m307" markerWidth="8" markerHeight="8" refX="4" refY="4" markerUnits="userSpaceOnUse"><circle cx="4" cy="4" r="3.1" fill="#3a3a40"/></marker>
<marker id="m308" markerWidth="8" markerHeight="8" refX="4" refY="4" markerUnits="userSpaceOnUse"><circle cx="4" cy="4" r="3.1" fill="#4a2a2a"/></marker>
<marker id="m309" markerWidth="8" markerHeight="8" refX="4" refY="4" markerUnits="userSpaceOnUse"><circle cx="4" cy="4" r="3.1" fill="#3a3a2a"/></marker>
<marker id="m310" markerWidth="8" markerHeight="8" refX="4" refY="4" markerUnits="userSpaceOnUse"><circle cx="4" cy="4" r="3.1" fill="#90ee90"/></marker>
<marker id="m311" markerWidth="8" markerHeight="8" refX="4" refY="4" markerUnits="userSpaceOnUse"><circle cx="4" cy="4" r="3.1" fill="#f0f0b0"/></marker>
<marker id="m312" markerWidth="8" markerHeight="8" refX="4" refY="4" markerUnits="userSpaceOnUse"><circle cx="4" cy="4" r="3.1" fill="#2a3a2a"/></marker>
<marker id="m313" markerWidth="8" markerHeight="8" refX="4" refY="4" markerUnits="userSpaceOnUse"><circle cx="4" cy="4" r="3.1" fill="#e0e0e0"/></marker>
<marker id="m314" markerWidth="8" markerHeight="8" refX="4" refY="4" markerUnits="userSpaceOnUse"><circle cx="4" cy="4" r="3.1" fill="#3a1a1a"/></marker>
<marker id="m315" markerWidth="8" markerHeight="8" refX="4" refY="4" markerUnits="userSpaceOnUse"><circle cx="4" cy="4" r="3.1" fill="#ffb6c1"/></marker>
<marker id="m316" markerWidth="8" markerHeight="8" refX="4" refY="4" markerUnits="userSpaceOnUse"><circle cx="4" cy="4" r="3.1" fill="#f0a080"/></marker>
<marker id="m317" markerWidth="8" markerHeight="8" refX="4" refY="4" markerUnits="userSpaceOnUse"><circle cx="4" cy="4" r="3.1" fill="#1a3040"/></marker>
<marker id="m318" markerWidth="8" markerHeight="8" refX="4" refY="4" markerUnits="userSpaceOnUse"><circle cx="4" cy="4" r="3.1" fill="#1a2a38"/></marker>
<marker id="m319" markerWidth="8" markerHeight="8" refX="4" refY="4" markerUnits="userSpaceOnUse"><circle cx="4" cy="4" r="3.1" fill="#4682b4"/></marker>
<marker id="m320" markerWidth="8" markerHeight="8" refX="4" refY="4" markerUnits="userSpaceOnUse"><circle cx="4" cy="4" r="3.1" fill="#0a3a0a"/></marker>
<marker id="m321" markerWidth="8" markerHeight="8" refX="4" refY="4" markerUnits="userSpaceOnUse"><circle cx="4" cy="4" r="3.1" fill="#00d000"/></marker>
<marker id="m322" markerWidth="8" markerHeight="8" refX="4" refY="4" markerUnits="userSpaceOnUse"><circle cx="4" cy="4" r="3.1" fill="#d02020"/></marker>
<marker id="m323" markerWidth="8" markerHeight="8" refX="4" refY="4" markerUnits="userSpaceOnUse"><circle cx="4" cy="4" r="3.1" fill="#4a0a0a"/></marker>
<marker id="m324" markerWidth="8" markerHeight="8" refX="4" refY="4" markerUnits="userSpaceOnUse"><circle cx="4" cy="4" r="3.1" fill="#0000e0"/></marker>
<marker id="m325" markerWidth="8" markerHeight="8" refX="4" refY="4" markerUnits="userSpaceOnUse"><circle cx="4" cy="4" r="3.1" fill="#700000"/></marker>
<marker id="m326" markerWidth="8" markerHeight="8" refX="4" refY="4" markerUnits="userSpaceOnUse"><circle cx="4" cy="4" r="3.1" fill="#d01010"/></marker>
<marker id="m327" markerWidth="8" markerHeight="8" refX="4" refY="4" markerUnits="userSpaceOnUse"><circle cx="4" cy="4" r="3.1" fill="#1010f0"/></marker>
<marker id="m328" markerWidth="8" markerHeight="8" refX="4" refY="4" markerUnits="userSpaceOnUse"><circle cx="4" cy="4" r="3.1" fill="#1a3a3a"/></marker>
<marker id="m329" markerWidth="8" markerHeight="8" refX="4" refY="4" markerUnits="userSpaceOnUse"><circle cx="4" cy="4" r="3.1" fill="#3a2a0a"/></marker>
<marker id="m330" markerWidth="8" markerHeight="8" refX="4" refY="4" markerUnits="userSpaceOnUse"><circle cx="4" cy="4" r="3.1" fill="#5a3a00"/></marker>
<marker id="m331" markerWidth="8" markerHeight="8" refX="4" refY="4" markerUnits="userSpaceOnUse"><circle cx="4" cy="4" r="3.1" fill="#a06a10"/></marker>
<marker id="m332" markerWidth="4" markerHeight="4" refX="2" refY="2" markerUnits="userSpaceOnUse"><circle class="v" cx="2" cy="2" r="1.25" fill="#e0c000"/></marker>
<marker id="m333" markerWidth="8" markerHeight="8" refX="4" refY="4" markerUnits="userSpaceOnUse"><circle cx="4" cy="4" r="3.1" fill="#00ced1"/></marker>
<marker id="m334" markerWidth="8" markerHeight="8" refX="4" refY="4" markerUnits="userSpaceOnUse"><circle cx="4" cy="4" r="3.1" fill="#0a3a3a"/></marker>
<marker id="m335" markerWidth="8" markerHeight="8" refX="4" refY="4" markerUnits="userSpaceOnUse"><circle cx="4" cy="4" r="3.1" fill="#3a0a5a"/></marker>
<marker id="m336" markerWidth="8" markerHeight="8" refX="4" refY="4" markerUnits="userSpaceOnUse"><circle cx="4" cy="4" r="3.1" fill="#9020c0"/></marker>
<marker id="m337" markerWidth="8" markerHeight="8" refX="4" refY="4" markerUnits="userSpaceOnUse"><circle cx="4" cy="4" r="3.1" fill="#2a1a00"/></marker>
<marker id="m338" markerWidth="8" markerHeight="8" refX="4" refY="4" markerUnits="userSpaceOnUse"><circle cx="4" cy="4" r="3.1" fill="#1a4a0a"/></marker>
<marker id="m339" markerWidth="8" markerHeight="8" refX="4" refY="4" markerUnits="userSpaceOnUse"><circle cx="4" cy="4" r="3.1" fill="#4a2a08"/></marker>
<marker id="m340" markerWidth="8" markerHeight="8" refX="4" refY="4" markerUnits="userSpaceOnUse"><circle cx="4" cy="4" r="3.1" fill="#e08020"/></marker>
<marker id="m341" markerWidth="8" markerHeight="8" refX="4" refY="4" markerUnits="userSpaceOnUse"><circle cx="4" cy="4" r="3.1" fill="#f08030"/></marker>
<marker id="m342" markerWidth="8" markerHeight="8" refX="4" refY="4" markerUnits="userSpaceOnUse"><circle cx="4" cy="4" r="3.1" fill="#4a5a10"/></marker>
<marker id="m343" markerWidth="8" markerHeight="8" refX="4" refY="4" markerUnits="userSpaceOnUse"><circle cx="4" cy="4" r="3.1" fill="#d05050"/></marker>
<marker id="m344" markerWidth="8" markerHeight="8" refX="4" refY="4" markerUnits="userSpaceOnUse"><circle cx="4" cy="4" r="3.1" fill="#1a1a30"/></marker>
<marker id="m345" markerWidth="8" markerHeight="8" refX="4" refY="4" markerUnits="userSpaceOnUse"><circle cx="4" cy="4" r="3.1" fill="#3a5a9a"/></marker>
<marker id="m346" markerWidth="8" markerHeight="8" refX="4" refY="4" markerUnits="userSpaceOnUse"><circle cx="4" cy="4" r="3.1" fill="#5a0a20"/></marker>
<marker id="m347" markerWidth="8" markerHeight="8" refX="4" refY="4" markerUnits="userSpaceOnUse"><circle cx="4" cy="4" r="3.1" fill="#080838"/></marker>
<marker id="m348" markerWidth="8" markerHeight="8" refX="4" refY="4" markerUnits="userSpaceOnUse"><circle cx="4" cy="4" r="3.1" fill="#0a5a5a"/></marker>
<marker id="m349" markerWidth="8" markerHeight="8" refX="4" refY="4" markerUnits="userSpaceOnUse"><circle cx="4" cy="4" r="3.1" fill="#109090"/></marker>
<marker id="m350" markerWidth="8" markerHeight="8" refX="4" refY="4" markerUnits="userSpaceOnUse"><circle cx="4" cy="4" r="3.1" fill="#6a4a00"/></marker>
<marker id="m351" markerWidth="8" markerHeight="8" refX="4" refY="4" markerUnits="userSpaceOnUse"><circle cx="4" cy="4" r="3.1" fill="#3a2a00"/></marker>
<marker id="m352" markerWidth="8" markerHeight="8" refX="4" refY="4" markerUnits="userSpaceOnUse"><circle cx="4" cy="4" r="3.1" fill="#0a5058"/></marker>
<marker id="m353" markerWidth="8" markerHeight="8" refX="4" refY="4" markerUnits="userSpaceOnUse"><circle cx="4" cy="4" r="3.1" fill="#10b0c0"/></marker>
<marker id="m354" markerWidth="8" markerHeight="8" refX="4" refY="4" markerUnits="userSpaceOnUse"><circle cx="4" cy="4" r="3.1" fill="#1010d0"/></marker>
<marker id="m355" markerWidth="8" markerHeight="8" refX="4" refY="4" markerUnits="userSpaceOnUse"><circle cx="4" cy="4" r="3.1" fill="#10a0b0"/></marker>
<marker id="m356" markerWidth="8" markerHeight="8" refX="4" refY="4" markerUnits="userSpaceOnUse"><circle cx="4" cy="4" r="3.1" fill="#10a0a8"/></marker>
<marker id="m357" markerWidth="8" markerHeight="8" refX="4" refY="4" markerUnits="userSpaceOnUse"><circle cx="4" cy="4" r="3.1" fill="#2a2a2a"/></marker>
<marker id="m358" markerWidth="8" markerHeight="8" refX="4" refY="4" markerUnits="userSpaceOnUse"><circle cx="4" cy="4" r="3.1" fill="#1a3a1a"/></marker>
<marker id="m359" markerWidth="8" markerHeight="8" refX="4" refY="4" markerUnits="userSpaceOnUse"><circle cx="4" cy="4" r="3.1" fill="#e0e0a0"/></marker>
<marker id="m360" markerWidth="8" markerHeight="8" refX="4" refY="4" markerUnits="userSpaceOnUse"><circle cx="4" cy="4" r="3.1" fill="#a010b0"/></marker>
<marker id="m361" markerWidth="8" markerHeight="8" refX="4" refY="4" markerUnits="userSpaceOnUse"><circle cx="4" cy="4" r="3.1" fill="#3a2a10"/></marker>
<marker id="m362" markerWidth="8" markerHeight="8" refX="4" refY="4" markerUnits="userSpaceOnUse"><circle cx="4" cy="4" r="3.1" fill="#7a8040"/></marker>
<marker id="m363" markerWidth="8" markerHeight="8" refX="4" refY="4" markerUnits="userSpaceOnUse"><circle cx="4" cy="4" r="3.1" fill="#e08000"/></marker>
<marker id="m364" markerWidth="8" markerHeight="8" refX="4" refY="4" markerUnits="userSpaceOnUse"><circle cx="4" cy="4" r="3.1" fill="#2a1a1a"/></marker>
<marker id="m365" markerWidth="8" markerHeight="8" refX="4" refY="4" markerUnits="userSpaceOnUse"><circle cx="4" cy="4" r="3.1" fill="#e02020"/></marker>
<marker id="m366" markerWidth="8" markerHeight="8" refX="4" refY="4" markerUnits="userSpaceOnUse"><circle cx="4" cy="4" r="3.1" fill="#a0d0a0"/></marker>
<marker id="m367" markerWidth="8" markerHeight="8" refX="4" refY="4" markerUnits="userSpaceOnUse"><circle cx="4" cy="4" r="3.1" fill="#a020e0"/></marker>
<marker id="m368" markerWidth="8" markerHeight="8" refX="4" refY="4" markerUnits="userSpaceOnUse"><circle cx="4" cy="4" r="3.1" fill="#700040"/></marker>
<marker id="m369" markerWidth="8" markerHeight="8" refX="4" refY="4" markerUnits="userSpaceOnUse"><circle cx="4" cy="4" r="3.1" fill="#f060b0"/></marker>
<marker id="m370" markerWidth="8" markerHeight="8" refX="4" refY="4" markerUnits="userSpaceOnUse"><circle cx="4" cy="4" r="3.1" fill="#9010d0"/></marker>
<marker id="m371" markerWidth="8" markerHeight="8" refX="4" refY="4" markerUnits="userSpaceOnUse"><circle cx="4" cy="4" r="3.1" fill="#f020a0"/></marker>
</defs>
<style>.m0{marker:url(#m0)}.m1{marker:url(#m1)}.m2{marker:url(#m2)}.m3{marker:url(#m3)}.m4{marker:url(#m4)}.m5{marker:url(#m5)}.m6{marker:url(#m6)}.m7{marker:url(#m7)}.m8{marker:url(#m8)}.m9{marker:url(#m9)}.m10{marker:url(#m10)}.m11{marker:url(#m11)}.m12{marker:url(#m12)}.m13{marker:url(#m13)}.m14{marker:url(#m14)}.m15{marker:url(#m15)}.m16{marker:url(#m16)}.m17{marker:url(#m17)}.m18{marker:url(#m18)}.m19{marker:url(#m19)}.m20{marker:url(#m20)}.m21{marker:url(#m21)}.m22{marker:url(#m22)}.m23{marker:url(#m23)}.m24{marker:url(#m24)}.m25{marker:url(#m25)}.m26{marker:url(#m26)}.m27{marker:url(#m27)}.m28{marker:url(#m28)}.m29{marker:url(#m29)}.m30{marker:url(#m30)}.m31{marker:url(#m31)}.m32{marker:url(#m32)}.m33{marker:url(#m33)}.m34{marker:url(#m34)}.m35{marker:url(#m35)}.m36{marker:url(#m36)}.m37{marker:url(#m37)}.m38{marker:url(#m38)}.m39{marker:url(#m39)}.m40{marker:url(#m40)}.m41{marker:url(#m41)}.m42{marker:url(#m42)}.m43{marker:url(#m43)}.m44{marker:url(#m44)}.m45{marker:url(#m45)}.m46{marker:url(#m46)}.m47{marker:url(#m47)}.m48{marker:url(#m48)}.m49{marker:url(#m49)}.m50{marker:url(#m50)}.m51{marker:url(#m51)}.m52{marker:url(#m52)}.m53{marker:url(#m53)}.m54{marker:url(#m54)}.m55{marker:url(#m55)}.m56{marker:url(#m56)}.m57{marker:url(#m57)}.m58{marker:url(#m58)}.m59{marker:url(#m59)}.m60{marker:url(#m60)}.m61{marker:url(#m61)}.m62{marker:url(#m62)}.m63{marker:url(#m63)}.m64{marker:url(#m64)}.m65{marker:url(#m65)}.m66{marker:url(#m66)}.m67{marker:url(#m67)}.m68{marker:url(#m68)}.m69{marker:url(#m69)}.m70{marker:url(#m70)}.m71{marker:url(#m71)}.m72{marker:url(#m72)}.m73{marker:url(#m73)}.m74{marker:url(#m74)}.m75{marker:url(#m75)}.m76{marker:url(#m76)}.m77{marker:url(#m77)}.m78{marker:url(#m78)}.m79{marker:url(#m79)}.m80{marker:url(#m80)}.m81{marker:url(#m81)}.m82{marker:url(#m82)}.m83{marker:url(#m83)}.m84{marker:url(#m84)}.m85{marker:url(#m85)}.m86{marker:url(#m86)}.m87{marker:url(#m87)}.m88{marker:url(#m88)}.m89{marker:url(#m89)}.m90{marker:url(#m90)}.m91{marker:url(#m91)}.m92{marker:url(#m92)}.m93{marker:url(#m93)}.m94{marker:url(#m94)}.m95{marker:url(#m95)}.m96{marker:url(#m96)}.m97{marker:url(#m97)}.m98{marker:url(#m98)}.m99{marker:url(#m99)}.m100{marker:url(#m100)}.m101{marker:url(#m101)}.m102{marker:url(#m102)}.m103{marker:url(#m103)}.m104{marker:url(#m104)}.m105{marker:url(#m105)}.m106{marker:url(#m106)}.m107{marker:url(#m107)}.m108{marker:url(#m108)}.m109{marker:url(#m109)}.m110{marker:url(#m110)}.m111{marker:url(#m111)}.m112{marker:url(#m112)}.m113{marker:url(#m113)}.m114{marker:url(#m114)}.m115{marker:url(#m115)}.m116{marker:url(#m116)}.m117{marker:url(#m117)}.m118{marker:url(#m118)}.m119{marker:url(#m119)}.m120{marker:url(#m120)}.m121{marker:url(#m121)}.m122{marker:url(#m122)}.m123{marker:url(#m123)}.m124{marker:url(#m124)}.m125{marker:url(#m125)}.m126{marker:url(#m126)}.m127{marker:url(#m127)}.m128{marker:url(#m128)}.m129{marker:url(#m129)}.m130{marker:url(#m130)}.m131{marker:url(#m131)}.m132{marker:url(#m132)}.m133{marker:url(#m133)}.m134{marker:url(#m134)}.m135{marker:url(#m135)}.m136{marker:url(#m136)}.m137{marker:url(#m137)}.m138{marker:url(#m138)}.m139{marker:url(#m139)}.m140{marker:url(#m140)}.m141{marker:url(#m141)}.m142{marker:url(#m142)}.m143{marker:url(#m143)}.m144{marker:url(#m144)}.m145{marker:url(#m145)}.m146{marker:url(#m146)}.m147{marker:url(#m147)}.m148{marker:url(#m148)}.m149{marker:url(#m149)}.m150{marker:url(#m150)}.m151{marker:url(#m151)}.m152{marker:url(#m152)}.m153{marker:url(#m153)}.m154{marker:url(#m154)}.m155{marker:url(#m155)}.m156{marker:url(#m156)}.m157{marker:url(#m157)}.m158{marker:url(#m158)}.m159{marker:url(#m159)}.m160{marker:url(#m160)}.m161{marker:url(#m161)}.m162{marker:url(#m162)}.m163{marker:url(#m163)}.m164{marker:url(#m164)}.m165{marker:url(#m165)}.m166{marker:url(#m166)}.m167{marker:url(#m167)}.m168{marker:url(#m168)}.m169{marker:url(#m169)}.m170{marker:url(#m170)}.m171{marker:url(#m171)}.m172{marker:url(#m172)}.m173{marker:url(#m173)}.m174{marker:url(#m174)}.m175{marker:url(#m175)}.m176{marker:url(#m176)}.m177{marker:url(#m177)}.m178{marker:url(#m178)}.m179{marker:url(#m179)}.m180{marker:url(#m180)}.m181{marker:url(#m181)}.m182{marker:url(#m182)}.m183{marker:url(#m183)}.m184{marker:url(#m184)}.m185{marker:url(#m185)}.m186{marker:url(#m186)}.m187{marker:url(#m187)}.m188{marker:url(#m188)}.m189{marker:url(#m189)}.m190{marker:url(#m190)}.m191{marker:url(#m191)}.m192{marker:url(#m192)}.m193{marker:url(#m193)}.m194{marker:url(#m194)}.m195{marker:url(#m195)}.m196{marker:url(#m196)}.m197{marker:url(#m197)}.m198{marker:url(#m198)}.m199{marker:url(#m199)}.m200{marker:url(#m200)}.m201{marker:url(#m201)}.m202{marker:url(#m202)}.m203{marker:url(#m203)}.m204{marker:url(#m204)}.m205{marker:url(#m205)}.m206{marker:url(#m206)}.m207{marker:url(#m207)}.m208{marker:url(#m208)}.m209{marker:url(#m209)}.m210{marker:url(#m210)}.m211{marker:url(#m211)}.m212{marker:url(#m212)}.m213{marker:url(#m213)}.m214{marker:url(#m214)}.m215{marker:url(#m215)}.m216{marker:url(#m216)}.m217{marker:url(#m217)}.m218{marker:url(#m218)}.m219{marker:url(#m219)}.m220{marker:url(#m220)}.m221{marker:url(#m221)}.m222{marker:url(#m222)}.m223{marker:url(#m223)}.m224{marker:url(#m224)}.m225{marker:url(#m225)}.m226{marker:url(#m226)}.m227{marker:url(#m227)}.m228{marker:url(#m228)}.m229{marker:url(#m229)}.m230{marker:url(#m230)}.m231{marker:url(#m231)}.m232{marker:url(#m232)}.m233{marker:url(#m233)}.m234{marker:url(#m234)}.m235{marker:url(#m235)}.m236{marker:url(#m236)}.m237{marker:url(#m237)}.m238{marker:url(#m238)}.m239{marker:url(#m239)}.m240{marker:url(#m240)}.m241{marker:url(#m241)}.m242{marker:url(#m242)}.m243{marker:url(#m243)}.m244{marker:url(#m244)}.m245{marker:url(#m245)}.m246{marker:url(#m246)}.m247{marker:url(#m247)}.m248{marker:url(#m248)}.m249{marker:url(#m249)}.m250{marker:url(#m250)}.m251{marker:url(#m251)}.m252{marker:url(#m252)}.m253{marker:url(#m253)}.m254{marker:url(#m254)}.m255{marker:url(#m255)}.m256{marker:url(#m256)}.m257{marker:url(#m257)}.m258{marker:url(#m258)}.m259{marker:url(#m259)}.m260{marker:url(#m260)}.m261{marker:url(#m261)}.m262{marker:url(#m262)}.m263{marker:url(#m263)}.m264{marker:url(#m264)}.m265{marker:url(#m265)}.m266{marker:url(#m266)}.m267{marker:url(#m267)}.m268{marker:url(#m268)}.m269{marker:url(#m269)}.m270{marker:url(#m270)}.m271{marker:url(#m271)}.m272{marker:url(#m272)}.m273{marker:url(#m273)}.m274{marker:url(#m274)}.m275{marker:url(#m275)}.m276{marker:url(#m276)}.m277{marker:url(#m277)}.m278{marker:url(#m278)}.m279{marker:url(#m279)}.m280{marker:url(#m280)}.m281{marker:url(#m281)}.m282{marker:url(#m282)}.m283{marker:url(#m283)}.m284{marker:url(#m284)}.m285{marker:url(#m285)}.m286{marker:url(#m286)}.m287{marker:url(#m287)}.m288{marker:url(#m288)}.m289{marker:url(#m289)}.m290{marker:url(#m290)}.m291{marker:url(#m291)}.m292{marker:url(#m292)}.m293{marker:url(#m293)}.m294{marker:url(#m294)}.m295{marker:url(#m295)}.m296{marker:url(#m296)}.m297{marker:url(#m297)}.m298{marker:url(#m298)}.m299{marker:url(#m299)}.m300{marker:url(#m300)}.m301{marker:url(#m301)}.m302{marker:url(#m302)}.m303{marker:url(#m303)}.m304{marker:url(#m304)}.m305{marker:url(#m305)}.m306{marker:url(#m306)}.m307{marker:url(#m307)}.m308{marker:url(#m308)}.m309{marker:url(#m309)}.m310{marker:url(#m310)}.m311{marker:url(#m311)}.m312{marker:url(#m312)}.m313{marker:url(#m313)}.m314{marker:url(#m314)}.m315{marker:url(#m315)}.m316{marker:url(#m316)}.m317{marker:url(#m317)}.m318{marker:url(#m318)}.m319{marker:url(#m319)}.m320{marker:url(#m320)}.m321{marker:url(#m321)}.m322{marker:url(#m322)}.m323{marker:url(#m323)}.m324{marker:url(#m324)}.m325{marker:url(#m325)}.m326{marker:url(#m326)}.m327{marker:url(#m327)}.m328{marker:url(#m328)}.m329{marker:url(#m329)}.m330{marker:url(#m330)}.m331{marker:url(#m331)}.m332{marker:url(#m332)}.m333{marker:url(#m333)}.m334{marker:url(#m334)}.m335{marker:url(#m335)}.m336{marker:url(#m336)}.m337{marker:url(#m337)}.m338{marker:url(#m338)}.m339{marker:url(#m339)}.m340{marker:url(#m340)}.m341{marker:url(#m341)}.m342{marker:url(#m342)}.m343{marker:url(#m343)}.m344{marker:url(#m344)}.m345{marker:url(#m345)}.m346{marker:url(#m346)}.m347{marker:url(#m347)}.m348{marker:url(#m348)}.m349{marker:url(#m349)}.m350{marker:url(#m350)}.m351{marker:url(#m351)}.m352{marker:url(#m352)}.m353{marker:url(#m353)}.m354{marker:url(#m354)}.m355{marker:url(#m355)}.m356{marker:url(#m356)}.m357{marker:url(#m357)}.m358{marker:url(#m358)}.m359{marker:url(#m359)}.m360{marker:url(#m360)}.m361{marker:url(#m361)}.m362{marker:url(#m362)}.m363{marker:url(#m363)}.m364{marker:url(#m364)}.m365{marker:url(#m365)}.m366{marker:url(#m366)}.m367{marker:url(#m367)}.m368{marker:url(#m368)}.m369{marker:url(#m369)}.m370{marker:url(#m370)}.m371{marker:url(#m371)}</style>
<g class="c">
<path class="m0" d="M129.96 389.34l-.1 2.45-.1 2.45-.1 2.45-.1 2.45-.1 2.45-.1 2.45-.1 2.45-.1 2.45-.1 2.45-.1 2.45-.1 2.45-.1 2.45"/>
<path class="m1" d="M132.24 367.94l-.1 2.58-.1 2.58-.1 2.58-.1 2.58-.1 2.58-.1 2.58-.1 2.58-.1 2.58-.1 2.58-.1 2.58"/>
<path class="m2" d="M134.77 329.33l-.06 2.48-.06 2.48-.06 2.48-.06 2.48-.06 2.48-.06 2.48-.06 2.48-.06 2.48-.06 2.48-.06 2.48-.06 2.48-.06 2.48-.06 2.48-.06 2.48-.06 2.48-.06 2.48-.06 2.48-.06 2.48-.06 2.48-.06 2.48-.06 2.48-.06 2.48-.06 2.48-.06 2.48"/>
<path class="m3" d="M137.12 293.44l-.04 2.48-.04 2.48-.04 2.48-.04 2.48-.04 2.48-.04 2.48-.04 2.48-.04 2.48-.04 2.48-.04 2.48-.04 2.48-.04 2.48-.04 2.48-.04 2.48-.04 2.48-.04 2.48-.04 2.48-.04 2.48-.04 2.48-.04 2.48-.04 2.48-.04 2.48-.04 2.48-.04 2.48-.04 2.48-.04 2.48-.04 2.48-.04 2.48-.04 2.48-.04 2.48-.04 2.48-.04 2.48-.04 2.48-.04 2.48-.04 2.48-.04 2.48-.04 2.48-.04 2.48"/>
<path class="m4" d="M139.47 256.8l-.03 2.5-.03 2.5-.03 2.5-.03 2.5-.03 2.5-.03 2.5-.03 2.5-.03 2.5-.03 2.5-.03 2.5-.03 2.5-.03 2.5-.03 2.5-.03 2.5-.03 2.5-.03 2.5-.03 2.5-.03 2.5-.03 2.5-.03 2.5-.03 2.5-.03 2.5-.03 2.5-.03 2.5-.03 2.5-.03 2.5-.03 2.5-.03 2.5-.03 2.5-.03 2.5-.03 2.5-.03 2.5-.03 2.5-.03 2.5-.03 2.5-.03 2.5-.03 2.5-.03 2.5-.03 2.5-.03 2.5-.03 2.5-.03 2.5-.03 2.5-.03 2.5-.03 2.5-.03 2.5-.03 2.5-.03 2.5-.03 2.5-.03 2.5-.03 2.5-.03 2.5"/>
<path class="m5" d="M141.82 256.82l-.03 2.5-.03 2.5-.03 2.5-.03 2.5-.03 2.5-.03 2.5-.03 2.5-.03 2.5-.03 2.5-.03 2.5-.03 2.5-.03 2.5-.03 2.5-.03 2.5-.03 2.5-.03 2.5-.03 2.5-.03 2.5-.03 2.5-.03 2.5-.03 2.5-.03 2.5-.03 2.5-.03 2.5-.03 2.5-.03 2.5-.03 2.5-.03 2.5-.03 2.5-.03 2.5-.03 2.5-.03 2.5-.03 2.5-.03 2.5-.03 2.5-.03 2.5-.03 2.5-.03 2.5-.03 2.5-.03 2.5-.03 2.5-.03 2.5-.03 2.5-.03 2.5-.03 2.5-.03 2.5-.03 2.5-.03 2.5-.03 2.5-.03 2.5-.03 2.5-.03 2.5"/>
<path class="m6" d="M142.76 256.21l.03 2.49 .03 2.49 .03 2.49 .03 2.49 .03 2.49 .03 2.49 .03 2.49 .03 2.49 .03 2.49 .03 2.49 .03 2.49 .03 2.49 .03 2.49 .03 2.49 .03 2.49 .03 2.49 .03 2.49 .03 2.49 .03 2.49 .03 2.49 .03 2.49 .03 2.49 .03 2.49 .03 2.49 .03 2.49 .03 2.49 .03 2.49 .03 2.49 .03 2.49 .03 2.49 .03 2.49 .03 2.49 .03 2.49 .03 2.49 .03 2.49 .03 2.49 .03 2.49 .03 2.49 .03 2.49 .03 2.49 .03 2.49 .03 2.49 .03 2.49 .03 2.49 .03 2.49 .03 2.49 .03 2.49 .03 2.49 .03 2.49 .03 2.49 .03 2.49 .03 2.49 .03 2.49"/>
<path class="m2" d="M145.81 252.68l0 2.51 0 2.51 0 2.51 0 2.51 0 2.51 0 2.51 0 2.51 0 2.51 0 2.51 0 2.51 0 2.51 0 2.51 0 2.51 0 2.51 0 2.51 0 2.51 0 2.51 0 2.51 0 2.51 0 2.51 0 2.51 0 2.51 0 2.51 0 2.51 0 2.51"/>
<path class="m2" d="M145.81 336.5l0 2.5 0 2.5 0 2.5 0 2.5 0 2.5 0 2.5 0 2.5 0 2.5 0 2.5 0 2.5 0 2.5 0 2.5 0 2.5 0 2.5 0 2.5 0 2.5 0 2.5 0 2.5 0 2.5 0 2.5 0 2.5 0 2.5"/>
<path class="m7" d="M148.16 247.52l0 2.52 0 2.52 0 2.52 0 2.52 0 2.52 0 2.52 0 2.52 0 2.52 0 2.52 0 2.52 0 2.52 0 2.52 0 2.52 0 2.52 0 2.52 0 2.52 0 2.52 0 2.52 0 2.52 0 2.52 0 2.52 0 2.52 0 2.52 0 2.52 0 2.52 0 2.52 0 2.52"/>
<path class="m7" d="M148.16 336.5l0 2.51 0 2.51 0 2.51 0 2.51 0 2.51 0 2.51 0 2.51 0 2.51 0 2.51 0 2.51 0 2.51 0 2.51 0 2.51 0 2.51 0 2.51 0 2.51 0 2.51 0 2.51"/>
<path class="m2" d="M150.51 248.26l0 2.49 0 2.49 0 2.49 0 2.49 0 2.49 0 2.49 0 2.49 0 2.49 0 2.49 0 2.49 0 2.49 0 2.49 0 2.49 0 2.49 0 2.49 0 2.49 0 2.49 0 2.49 0 2.49 0 2.49 0 2.49 0 2.49 0 2.49 0 2.49 0 2.49 0 2.49 0 2.49"/>
<path class="m2" d="M150.51 336.5l0 2.42 0 2.42 0 2.42 0 2.42 0 2.42 0 2.42 0 2.42 0 2.42 0 2.42 0 2.42 0 2.42 0 2.42 0 2.42"/>
<path class="m8" d="M152.16 258.87l.04 2.49 .04 2.49 .04 2.49 .04 2.49 .04 2.49 .04 2.49 .04 2.49 .04 2.49 .04 2.49 .04 2.49 .04 2.49 .04 2.49 .04 2.49 .04 2.49 .04 2.49 .04 2.49 .04 2.49 .04 2.49 .04 2.49 .04 2.49 .04 2.49 .04 2.49 .04 2.49 .04 2.49 .04 2.49 .04 2.49 .04 2.49 .04 2.49 .04 2.49 .04 2.49 .04 2.49 .04 2.49 .04 2.49 .04 2.49 .04 2.49 .04 2.49 .04 2.49 .04 2.49 .04 2.49"/>
<path class="m5" d="M155.91 266.55l-.04 2.48-.04 2.48-.04 2.48-.04 2.48-.04 2.48-.04 2.48-.04 2.48-.04 2.48-.04 2.48-.04 2.48-.04 2.48-.04 2.48-.04 2.48-.04 2.48-.04 2.48-.04 2.48-.04 2.48-.04 2.48-.04 2.48-.04 2.48-.04 2.48-.04 2.48-.04 2.48-.04 2.48-.04 2.48-.04 2.48-.04 2.48-.04 2.48-.04 2.48-.04 2.48-.04 2.48-.04 2.48-.04 2.48-.04 2.48-.04 2.48-.04 2.48"/>
<path class="m7" d="M158.26 278.55l-.05 2.5-.05 2.5-.05 2.5-.05 2.5-.05 2.5-.05 2.5-.05 2.5-.05 2.5-.05 2.5-.05 2.5-.05 2.5-.05 2.5-.05 2.5-.05 2.5-.05 2.5-.05 2.5-.05 2.5-.05 2.5-.05 2.5-.05 2.5-.05 2.5-.05 2.5-.05 2.5-.05 2.5-.05 2.5-.05 2.5-.05 2.5-.05 2.5-.05 2.5-.05 2.5-.05 2.5"/>
<path class="m1" d="M160.6 287.78l-.05 2.53-.05 2.53-.05 2.53-.05 2.53-.05 2.53-.05 2.53-.05 2.53-.05 2.53-.05 2.53-.05 2.53-.05 2.53-.05 2.53-.05 2.53-.05 2.53-.05 2.53-.05 2.53-.05 2.53-.05 2.53-.05 2.53-.05 2.53-.05 2.53-.05 2.53-.05 2.53-.05 2.53-.05 2.53-.05 2.53-.05 2.53"/>
<path class="m7" d="M162.95 287.99l-.05 2.52-.05 2.52-.05 2.52-.05 2.52-.05 2.52-.05 2.52-.05 2.52-.05 2.52-.05 2.52-.05 2.52-.05 2.52-.05 2.52-.05 2.52-.05 2.52-.05 2.52-.05 2.52-.05 2.52-.05 2.52-.05 2.52-.05 2.52-.05 2.52-.05 2.52-.05 2.52-.05 2.52-.05 2.52-.05 2.52-.05 2.52"/>
<path class="m8" d="M165.3 288.2l-.05 2.47-.05 2.47-.05 2.47-.05 2.47-.05 2.47-.05 2.47-.05 2.47-.05 2.47-.05 2.47-.05 2.47-.05 2.47-.05 2.47-.05 2.47-.05 2.47-.05 2.47-.05 2.47-.05 2.47-.05 2.47-.05 2.47-.05 2.47-.05 2.47-.05 2.47-.05 2.47-.05 2.47-.05 2.47-.05 2.47-.05 2.47-.05 2.47-.05 2.47-.05 2.47-.05 2.47"/>
<path class="m9" d="M166.25 291.35l.04 2.53 .04 2.53 .04 2.53 .04 2.53 .04 2.53 .04 2.53 .04 2.53 .04 2.53 .04 2.53 .04 2.53 .04 2.53 .04 2.53 .04 2.53 .04 2.53 .04 2.53 .04 2.53 .04 2.53 .04 2.53 .04 2.53 .04 2.53 .04 2.53 .04 2.53 .04 2.53 .04 2.53 .04 2.53 .04 2.53 .04 2.53 .04 2.53 .04 2.53 .04 2.53 .04 2.53 .04 2.53"/>
<path class="m10" d="M170 295.47l-.05 2.49-.05 2.49-.05 2.49-.05 2.49-.05 2.49-.05 2.49-.05 2.49-.05 2.49-.05 2.49-.05 2.49-.05 2.49-.05 2.49-.05 2.49-.05 2.49-.05 2.49-.05 2.49-.05 2.49-.05 2.49-.05 2.49-.05 2.49-.05 2.49-.05 2.49-.05 2.49-.05 2.49-.05 2.49-.05 2.49-.05 2.49-.05 2.49-.05 2.49-.05 2.49-.05 2.49"/>
<path class="m9" d="M172.35 295.52l-.05 2.48-.05 2.48-.05 2.48-.05 2.48-.05 2.48-.05 2.48-.05 2.48-.05 2.48-.05 2.48-.05 2.48-.05 2.48-.05 2.48-.05 2.48-.05 2.48-.05 2.48-.05 2.48-.05 2.48-.05 2.48-.05 2.48-.05 2.48-.05 2.48-.05 2.48-.05 2.48-.05 2.48-.05 2.48-.05 2.48-.05 2.48-.05 2.48-.05 2.48-.05 2.48-.05 2.48"/>
<path class="m11" d="M174.69 294.3l-.05 2.52-.05 2.52-.05 2.52-.05 2.52-.05 2.52-.05 2.52-.05 2.52-.05 2.52-.05 2.52-.05 2.52-.05 2.52-.05 2.52-.05 2.52-.05 2.52-.05 2.52-.05 2.52-.05 2.52-.05 2.52-.05 2.52-.05 2.52-.05 2.52-.05 2.52-.05 2.52-.05 2.52-.05 2.52-.05 2.52-.05 2.52-.05 2.52-.05 2.52-.05 2.52-.05 2.52"/>
<path class="m3" d="M177.04 295.1l-.05 2.49-.05 2.49-.05 2.49-.05 2.49-.05 2.49-.05 2.49-.05 2.49-.05 2.49-.05 2.49-.05 2.49-.05 2.49-.05 2.49-.05 2.49-.05 2.49-.05 2.49-.05 2.49-.05 2.49-.05 2.49-.05 2.49-.05 2.49-.05 2.49-.05 2.49-.05 2.49-.05 2.49-.05 2.49-.05 2.49-.05 2.49-.05 2.49-.05 2.49-.05 2.49-.05 2.49"/>
<path class="m8" d="M179.39 300.86l-.05 2.48-.05 2.48-.05 2.48-.05 2.48-.05 2.48-.05 2.48-.05 2.48-.05 2.48-.05 2.48-.05 2.48-.05 2.48-.05 2.48-.05 2.48-.05 2.48-.05 2.48-.05 2.48-.05 2.48-.05 2.48-.05 2.48-.05 2.48-.05 2.48-.05 2.48-.05 2.48-.05 2.48-.05 2.48-.05 2.48-.05 2.48-.05 2.48-.05 2.48-.05 2.48-.05 2.48"/>
<path class="m5" d="M181.74 306.63l-.05 2.47-.05 2.47-.05 2.47-.05 2.47-.05 2.47-.05 2.47-.05 2.47-.05 2.47-.05 2.47-.05 2.47-.05 2.47-.05 2.47-.05 2.47-.05 2.47-.05 2.47-.05 2.47-.05 2.47-.05 2.47-.05 2.47-.05 2.47-.05 2.47-.05 2.47-.05 2.47-.05 2.47-.05 2.47-.05 2.47-.05 2.47-.05 2.47-.05 2.47-.05 2.47-.05 2.47"/>
<path class="m12" d="M182.69 307.61l.04 2.49 .04 2.49 .04 2.49 .04 2.49 .04 2.49 .04 2.49 .04 2.49 .04 2.49 .04 2.49 .04 2.49 .04 2.49 .04 2.49 .04 2.49 .04 2.49 .04 2.49 .04 2.49 .04 2.49 .04 2.49 .04 2.49 .04 2.49 .04 2.49 .04 2.49 .04 2.49 .04 2.49 .04 2.49 .04 2.49 .04 2.49 .04 2.49 .04 2.49 .04 2.49 .04 2.49 .04 2.49"/>
<path class="m0" d="M185.04 307.64l.05 2.5 .05 2.5 .05 2.5 .05 2.5 .05 2.5 .05 2.5 .05 2.5 .05 2.5 .05 2.5 .05 2.5 .05 2.5 .05 2.5 .05 2.5 .05 2.5 .05 2.5 .05 2.5 .05 2.5 .05 2.5 .05 2.5 .05 2.5 .05 2.5 .05 2.5 .05 2.5 .05 2.5 .05 2.5 .05 2.5 .05 2.5 .05 2.5 .05 2.5 .05 2.5"/>
<path class="m13" d="M187.39 306.88l.05 2.51 .05 2.51 .05 2.51 .05 2.51 .05 2.51 .05 2.51 .05 2.51 .05 2.51 .05 2.51 .05 2.51 .05 2.51 .05 2.51 .05 2.51 .05 2.51 .05 2.51 .05 2.51 .05 2.51 .05 2.51 .05 2.51 .05 2.51 .05 2.51 .05 2.51 .05 2.51 .05 2.51 .05 2.51 .05 2.51 .05 2.51 .05 2.51 .05 2.51"/>
<path class="m9" d="M191.13 307.13l-.05 2.5-.05 2.5-.05 2.5-.05 2.5-.05 2.5-.05 2.5-.05 2.5-.05 2.5-.05 2.5-.05 2.5-.05 2.5-.05 2.5-.05 2.5-.05 2.5-.05 2.5-.05 2.5-.05 2.5-.05 2.5-.05 2.5-.05 2.5-.05 2.5-.05 2.5-.05 2.5-.05 2.5-.05 2.5-.05 2.5-.05 2.5-.05 2.5-.05 2.5"/>
<path class="m14" d="M193.48 317.26l-.06 2.49-.06 2.49-.06 2.49-.06 2.49-.06 2.49-.06 2.49-.06 2.49-.06 2.49-.06 2.49-.06 2.49-.06 2.49-.06 2.49-.06 2.49-.06 2.49-.06 2.49-.06 2.49-.06 2.49-.06 2.49-.06 2.49-.06 2.49-.06 2.49-.06 2.49-.06 2.49-.06 2.49-.06 2.49"/>
<path class="m2" d="M194.43 320.92l.06 2.47 .06 2.47 .06 2.47 .06 2.47 .06 2.47 .06 2.47 .06 2.47 .06 2.47 .06 2.47 .06 2.47 .06 2.47 .06 2.47 .06 2.47 .06 2.47 .06 2.47 .06 2.47 .06 2.47 .06 2.47 .06 2.47 .06 2.47 .06 2.47 .06 2.47 .06 2.47 .06 2.47 .06 2.47"/>
<path class="m4" d="M196.78 320.97l.06 2.46 .06 2.46 .06 2.46 .06 2.46 .06 2.46 .06 2.46 .06 2.46 .06 2.46 .06 2.46 .06 2.46 .06 2.46 .06 2.46 .06 2.46 .06 2.46 .06 2.46 .06 2.46 .06 2.46 .06 2.46 .06 2.46 .06 2.46 .06 2.46 .06 2.46 .06 2.46 .06 2.46 .06 2.46"/>
<path class="m0" d="M199.13 320.88l.06 2.46 .06 2.46 .06 2.46 .06 2.46 .06 2.46 .06 2.46 .06 2.46 .06 2.46 .06 2.46 .06 2.46 .06 2.46 .06 2.46 .06 2.46 .06 2.46 .06 2.46 .06 2.46 .06 2.46 .06 2.46 .06 2.46 .06 2.46 .06 2.46 .06 2.46 .06 2.46 .06 2.46 .06 2.46"/>
<path class="m9" d="M202.88 325.46l-.06 2.51-.06 2.51-.06 2.51-.06 2.51-.06 2.51-.06 2.51-.06 2.51-.06 2.51-.06 2.51-.06 2.51-.06 2.51-.06 2.51-.06 2.51-.06 2.51-.06 2.51-.06 2.51-.06 2.51-.06 2.51-.06 2.51-.06 2.51-.06 2.51-.06 2.51-.06 2.51"/>
<path class="m11" d="M203.82 335.67l.06 2.46 .06 2.46 .06 2.46 .06 2.46 .06 2.46 .06 2.46 .06 2.46 .06 2.46 .06 2.46 .06 2.46 .06 2.46 .06 2.46 .06 2.46 .06 2.46 .06 2.46 .06 2.46 .06 2.46 .06 2.46 .06 2.46 .06 2.46 .06 2.46 .06 2.46 .06 2.46 .06 2.46"/>
<path class="m14" d="M206.17 335.45l.06 2.5 .06 2.5 .06 2.5 .06 2.5 .06 2.5 .06 2.5 .06 2.5 .06 2.5 .06 2.5 .06 2.5 .06 2.5 .06 2.5 .06 2.5 .06 2.5 .06 2.5 .06 2.5 .06 2.5 .06 2.5 .06 2.5 .06 2.5 .06 2.5 .06 2.5 .06 2.5 .06 2.5"/>
<path class="m10" d="M208.52 335.22l.06 2.53 .06 2.53 .06 2.53 .06 2.53 .06 2.53 .06 2.53 .06 2.53 .06 2.53 .06 2.53 .06 2.53 .06 2.53 .06 2.53 .06 2.53 .06 2.53 .06 2.53 .06 2.53 .06 2.53 .06 2.53 .06 2.53 .06 2.53 .06 2.53 .06 2.53 .06 2.53 .06 2.53"/>
<path class="m6" d="M212.27 314.3l-.05 2.52-.05 2.52-.05 2.52-.05 2.52-.05 2.52-.05 2.52-.05 2.52-.05 2.52-.05 2.52-.05 2.52-.05 2.52-.05 2.52-.05 2.52-.05 2.52-.05 2.52-.05 2.52-.05 2.52-.05 2.52-.05 2.52-.05 2.52-.05 2.52-.05 2.52-.05 2.52-.05 2.52-.05 2.52-.05 2.52-.05 2.52-.05 2.52-.05 2.52-.05 2.52-.05 2.52"/>
<path class="m2" d="M213.22 298.74l.04 2.51 .04 2.51 .04 2.51 .04 2.51 .04 2.51 .04 2.51 .04 2.51 .04 2.51 .04 2.51 .04 2.51 .04 2.51 .04 2.51 .04 2.51 .04 2.51 .04 2.51 .04 2.51 .04 2.51 .04 2.51 .04 2.51 .04 2.51 .04 2.51 .04 2.51 .04 2.51 .04 2.51 .04 2.51 .04 2.51 .04 2.51 .04 2.51 .04 2.51 .04 2.51 .04 2.51 .04 2.51 .04 2.51 .04 2.51 .04 2.51 .04 2.51"/>
<path class="m0" d="M215.57 307.11l.04 2.53 .04 2.53 .04 2.53 .04 2.53 .04 2.53 .04 2.53 .04 2.53 .04 2.53 .04 2.53 .04 2.53 .04 2.53 .04 2.53 .04 2.53 .04 2.53 .04 2.53 .04 2.53 .04 2.53 .04 2.53 .04 2.53 .04 2.53 .04 2.53 .04 2.53 .04 2.53 .04 2.53 .04 2.53 .04 2.53 .04 2.53 .04 2.53 .04 2.53 .04 2.53 .04 2.53 .04 2.53"/>
<path class="m12" d="M217.91 307.88l.04 2.51 .04 2.51 .04 2.51 .04 2.51 .04 2.51 .04 2.51 .04 2.51 .04 2.51 .04 2.51 .04 2.51 .04 2.51 .04 2.51 .04 2.51 .04 2.51 .04 2.51 .04 2.51 .04 2.51 .04 2.51 .04 2.51 .04 2.51 .04 2.51 .04 2.51 .04 2.51 .04 2.51 .04 2.51 .04 2.51 .04 2.51 .04 2.51 .04 2.51 .04 2.51 .04 2.51 .04 2.51"/>
<path class="m2" d="M221.66 307.84l-.04 2.52-.04 2.52-.04 2.52-.04 2.52-.04 2.52-.04 2.52-.04 2.52-.04 2.52-.04 2.52-.04 2.52-.04 2.52-.04 2.52-.04 2.52-.04 2.52-.04 2.52-.04 2.52-.04 2.52-.04 2.52-.04 2.52-.04 2.52-.04 2.52-.04 2.52-.04 2.52-.04 2.52-.04 2.52-.04 2.52-.04 2.52-.04 2.52-.04 2.52-.04 2.52-.04 2.52-.04 2.52"/>
<path class="m15" d="M222.61 304.96l.04 2.5 .04 2.5 .04 2.5 .04 2.5 .04 2.5 .04 2.5 .04 2.5 .04 2.5 .04 2.5 .04 2.5 .04 2.5 .04 2.5 .04 2.5 .04 2.5 .04 2.5 .04 2.5 .04 2.5 .04 2.5 .04 2.5 .04 2.5 .04 2.5 .04 2.5 .04 2.5 .04 2.5 .04 2.5 .04 2.5 .04 2.5 .04 2.5 .04 2.5 .04 2.5 .04 2.5 .04 2.5"/>
<path class="m2" d="M226.36 294.6l-.04 2.51-.04 2.51-.04 2.51-.04 2.51-.04 2.51-.04 2.51-.04 2.51-.04 2.51-.04 2.51-.04 2.51-.04 2.51-.04 2.51-.04 2.51-.04 2.51-.04 2.51-.04 2.51-.04 2.51-.04 2.51-.04 2.51-.04 2.51-.04 2.51-.04 2.51-.04 2.51-.04 2.51-.04 2.51-.04 2.51-.04 2.51-.04 2.51-.04 2.51-.04 2.51-.04 2.51-.04 2.51-.04 2.51-.04 2.51-.04 2.51-.04 2.51"/>
<path class="m9" d="M227.31 263.94l.03 2.52 .03 2.52 .03 2.52 .03 2.52 .03 2.52 .03 2.52 .03 2.52 .03 2.52 .03 2.52 .03 2.52 .03 2.52 .03 2.52 .03 2.52 .03 2.52 .03 2.52 .03 2.52 .03 2.52 .03 2.52 .03 2.52 .03 2.52 .03 2.52 .03 2.52 .03 2.52 .03 2.52 .03 2.52 .03 2.52 .03 2.52 .03 2.52 .03 2.52 .03 2.52 .03 2.52 .03 2.52 .03 2.52 .03 2.52 .03 2.52 .03 2.52 .03 2.52 .03 2.52 .03 2.52 .03 2.52 .03 2.52 .03 2.52 .03 2.52 .03 2.52 .03 2.52 .03 2.52 .03 2.52 .03 2.52"/>
<path class="m9" d="M229.66 250.83l.03 2.49 .03 2.49 .03 2.49 .03 2.49 .03 2.49 .03 2.49 .03 2.49 .03 2.49 .03 2.49 .03 2.49 .03 2.49 .03 2.49 .03 2.49 .03 2.49 .03 2.49 .03 2.49 .03 2.49 .03 2.49 .03 2.49 .03 2.49 .03 2.49 .03 2.49 .03 2.49 .03 2.49 .03 2.49 .03 2.49 .03 2.49 .03 2.49 .03 2.49 .03 2.49 .03 2.49 .03 2.49 .03 2.49 .03 2.49 .03 2.49 .03 2.49 .03 2.49 .03 2.49 .03 2.49 .03 2.49 .03 2.49 .03 2.49 .03 2.49 .03 2.49 .03 2.49 .03 2.49 .03 2.49 .03 2.49 .03 2.49 .03 2.49 .03 2.49 .03 2.49 .03 2.49"/>
<path class="m3" d="M233.41 259.81l-.03 2.5-.03 2.5-.03 2.5-.03 2.5-.03 2.5-.03 2.5-.03 2.5-.03 2.5-.03 2.5-.03 2.5-.03 2.5-.03 2.5-.03 2.5-.03 2.5-.03 2.5-.03 2.5-.03 2.5-.03 2.5-.03 2.5-.03 2.5-.03 2.5-.03 2.5-.03 2.5-.03 2.5-.03 2.5-.03 2.5-.03 2.5-.03 2.5-.03 2.5-.03 2.5-.03 2.5-.03 2.5-.03 2.5-.03 2.5-.03 2.5-.03 2.5-.03 2.5-.03 2.5-.03 2.5-.03 2.5-.03 2.5-.03 2.5-.03 2.5-.03 2.5-.03 2.5-.03 2.5-.03 2.5-.03 2.5"/>
<path class="m13" d="M234.35 264.15l.03 2.51 .03 2.51 .03 2.51 .03 2.51 .03 2.51 .03 2.51 .03 2.51 .03 2.51 .03 2.51 .03 2.51 .03 2.51 .03 2.51 .03 2.51 .03 2.51 .03 2.51 .03 2.51 .03 2.51 .03 2.51 .03 2.51 .03 2.51 .03 2.51 .03 2.51 .03 2.51 .03 2.51 .03 2.51 .03 2.51 .03 2.51 .03 2.51 .03 2.51 .03 2.51 .03 2.51 .03 2.51 .03 2.51 .03 2.51 .03 2.51 .03 2.51 .03 2.51 .03 2.51 .03 2.51 .03 2.51 .03 2.51 .03 2.51 .03 2.51 .03 2.51 .03 2.51 .03 2.51"/>
<path class="m14" d="M238.1 267.26l-.03 2.48-.03 2.48-.03 2.48-.03 2.48-.03 2.48-.03 2.48-.03 2.48-.03 2.48-.03 2.48-.03 2.48-.03 2.48-.03 2.48-.03 2.48-.03 2.48-.03 2.48-.03 2.48-.03 2.48-.03 2.48-.03 2.48-.03 2.48-.03 2.48-.03 2.48-.03 2.48-.03 2.48-.03 2.48-.03 2.48-.03 2.48-.03 2.48-.03 2.48-.03 2.48-.03 2.48-.03 2.48-.03 2.48-.03 2.48-.03 2.48-.03 2.48-.03 2.48-.03 2.48-.03 2.48-.03 2.48-.03 2.48-.03 2.48-.03 2.48-.03 2.48-.03 2.48"/>
<path class="m12" d="M240.45 276.4l-.03 2.48-.03 2.48-.03 2.48-.03 2.48-.03 2.48-.03 2.48-.03 2.48-.03 2.48-.03 2.48-.03 2.48-.03 2.48-.03 2.48-.03 2.48-.03 2.48-.03 2.48-.03 2.48-.03 2.48-.03 2.48-.03 2.48-.03 2.48-.03 2.48-.03 2.48-.03 2.48-.03 2.48-.03 2.48-.03 2.48-.03 2.48-.03 2.48-.03 2.48-.03 2.48-.03 2.48-.03 2.48-.03 2.48-.03 2.48-.03 2.48-.03 2.48-.03 2.48-.03 2.48-.03 2.48-.03 2.48-.03 2.48-.03 2.48-.03 2.48-.03 2.48-.03 2.48-.03 2.48-.03 2.48-.03 2.48-.03 2.48-.03 2.48"/>
<path class="m16" d="M241.4 295.53l.04 2.49 .04 2.49 .04 2.49 .04 2.49 .04 2.49 .04 2.49 .04 2.49 .04 2.49 .04 2.49 .04 2.49 .04 2.49 .04 2.49 .04 2.49 .04 2.49 .04 2.49 .04 2.49 .04 2.49 .04 2.49 .04 2.49 .04 2.49 .04 2.49 .04 2.49 .04 2.49 .04 2.49 .04 2.49 .04 2.49 .04 2.49 .04 2.49 .04 2.49 .04 2.49 .04 2.49 .04 2.49"/>
<path class="m10" d="M245.15 295.58l-.05 2.47-.05 2.47-.05 2.47-.05 2.47-.05 2.47-.05 2.47-.05 2.47-.05 2.47-.05 2.47-.05 2.47-.05 2.47-.05 2.47-.05 2.47-.05 2.47-.05 2.47-.05 2.47-.05 2.47-.05 2.47-.05 2.47-.05 2.47-.05 2.47-.05 2.47-.05 2.47-.05 2.47-.05 2.47-.05 2.47-.05 2.47-.05 2.47-.05 2.47"/>
<path class="m1" d="M246.1 309.23l.06 2.47 .06 2.47 .06 2.47 .06 2.47 .06 2.47 .06 2.47 .06 2.47 .06 2.47 .06 2.47 .06 2.47 .06 2.47 .06 2.47 .06 2.47 .06 2.47 .06 2.47 .06 2.47 .06 2.47 .06 2.47 .06 2.47 .06 2.47 .06 2.47 .06 2.47 .06 2.47"/>
<path class="m12" d="M249.8 333.24l-.1 2.52-.1 2.52-.1 2.52-.1 2.52-.1 2.52-.1 2.52-.1 2.52-.1 2.52-.1 2.52-.1 2.52-.1 2.52-.1 2.52-.1 2.52"/>
<path class="m14" d="M250.79 335.11l.1 2.59 .1 2.59 .1 2.59 .1 2.59 .1 2.59 .1 2.59 .1 2.59 .1 2.59 .1 2.59 .1 2.59 .1 2.59 .1 2.59 .1 2.59 .1 2.59"/>
<path class="m1" d="M253.14 335.93l.07 2.47 .07 2.47 .07 2.47 .07 2.47 .07 2.47 .07 2.47 .07 2.47 .07 2.47 .07 2.47 .07 2.47 .07 2.47 .07 2.47 .07 2.47 .07 2.47 .07 2.47 .07 2.47 .07 2.47 .07 2.47 .07 2.47"/>
<path class="m10" d="M255.49 335.99l.07 2.49 .07 2.49 .07 2.49 .07 2.49 .07 2.49 .07 2.49 .07 2.49 .07 2.49 .07 2.49 .07 2.49 .07 2.49 .07 2.49 .07 2.49 .07 2.49 .07 2.49 .07 2.49 .07 2.49 .07 2.49 .07 2.49 .07 2.49 .07 2.49"/>
<path class="m8" d="M257.84 334.06l.06 2.48 .06 2.48 .06 2.48 .06 2.48 .06 2.48 .06 2.48 .06 2.48 .06 2.48 .06 2.48 .06 2.48 .06 2.48 .06 2.48 .06 2.48 .06 2.48 .06 2.48 .06 2.48 .06 2.48 .06 2.48 .06 2.48 .06 2.48 .06 2.48 .06 2.48"/>
<path class="m6" d="M260.19 334.21l.06 2.51 .06 2.51 .06 2.51 .06 2.51 .06 2.51 .06 2.51 .06 2.51 .06 2.51 .06 2.51 .06 2.51 .06 2.51 .06 2.51 .06 2.51 .06 2.51 .06 2.51 .06 2.51 .06 2.51 .06 2.51 .06 2.51 .06 2.51 .06 2.51 .06 2.51 .06 2.51 .06 2.51 .06 2.51"/>
<path class="m1" d="M263.94 334.53l-.07 2.55-.07 2.55-.07 2.55-.07 2.55-.07 2.55-.07 2.55-.07 2.55-.07 2.55-.07 2.55-.07 2.55-.07 2.55-.07 2.55-.07 2.55-.07 2.55-.07 2.55-.07 2.55-.07 2.55-.07 2.55-.07 2.55-.07 2.55"/>
<path class="m10" d="M266.28 334.86l-.09 2.54-.09 2.54-.09 2.54-.09 2.54-.09 2.54-.09 2.54-.09 2.54-.09 2.54-.09 2.54-.09 2.54-.09 2.54-.09 2.54-.09 2.54-.09 2.54-.09 2.54-.09 2.54"/>
<path class="m14" d="M268.63 320.22l-.07 2.5-.07 2.5-.07 2.5-.07 2.5-.07 2.5-.07 2.5-.07 2.5-.07 2.5-.07 2.5-.07 2.5-.07 2.5-.07 2.5-.07 2.5-.07 2.5-.07 2.5-.07 2.5-.07 2.5-.07 2.5-.07 2.5-.07 2.5-.07 2.5"/>
<path class="m7" d="M270.98 315.49l-.06 2.47-.06 2.47-.06 2.47-.06 2.47-.06 2.47-.06 2.47-.06 2.47-.06 2.47-.06 2.47-.06 2.47-.06 2.47-.06 2.47-.06 2.47-.06 2.47-.06 2.47-.06 2.47-.06 2.47-.06 2.47-.06 2.47-.06 2.47-.06 2.47-.06 2.47-.06 2.47"/>
<path class="m17" d="M271.93 336.19l.1 2.57 .1 2.57 .1 2.57 .1 2.57 .1 2.57 .1 2.57 .1 2.57 .1 2.57 .1 2.57 .1 2.57 .1 2.57 .1 2.57 .1 2.57 .1 2.57"/>
<path class="m14" d="M274.56 351.69l.11 2.64 .11 2.64 .11 2.64 .11 2.64 .11 2.64 .11 2.64 .11 2.64 .11 2.64"/>
<path class="m9" d="M277.47 366.57l-.1 2.46-.1 2.46-.1 2.46"/>
<path class="m18" d="M128.2 380l-.07 2.48-.07 2.48-.07 2.48-.07 2.48-.07 2.48-.07 2.48-.07 2.48-.07 2.48-.07 2.48-.07 2.48-.07 2.48-.07 2.48-.07 2.48-.07 2.48-.07 2.48-.07 2.48-.07 2.48-.07 2.48-.07 2.48-.07 2.48-.07 2.48"/>
<path class="m19" d="M129.9 337l.06 2.52 .06 2.52 .06 2.52 .06 2.52 .06 2.52 .06 2.52 .06 2.52 .06 2.52 .06 2.52 .06 2.52 .06 2.52 .06 2.52 .06 2.52 .06 2.52 .06 2.52 .06 2.52 .06 2.52 .06 2.52 .06 2.52 .06 2.52 .06 2.52 .06 2.52 .06 2.52 .06 2.52 .06 2.52"/>
<path class="m20" d="M132.06 362l.1 2.44 .1 2.44 .1 2.44 .1 2.44 .1 2.44 .1 2.44 .1 2.44 .1 2.44 .1 2.44"/>
<path class="m21" d="M130.97 382l.09 2.33 .09 2.33 .09 2.33 .09 2.33 .09 2.33 .09 2.33"/>
<path class="m22" d="M131.94 396l-.1 2.46-.1 2.46-.1 2.46-.1 2.46-.1 2.46-.1 2.46-.1 2.46-.1 2.46-.1 2.46-.1 2.46-.1 2.46-.1 2.46"/>
<path class="m23" d="M130.66 428.04l0 .01"/>
<path class="m24" d="M130.56 430.5l0 .01"/>
<path class="m25" d="M141.1 255l-.08 3.17-.08 3.17-.08 3.17-.08 3.17-.08 3.17-.08 3.17-.08 3.17-.08 3.17-.08 3.17-.08 3.17-.08 3.17-.08 3.17-.08 3.17-.08 3.17-.08 3.17-.08 3.17-.08 3.17-.08 3.17"/>
<path class="m26" d="M141.2 250l.08 2.56 .08 2.56 .08 2.56 .08 2.56 .08 2.56 .08 2.56 .08 2.56 .08 2.56 .08 2.56 .08 2.56 .08 2.56 .08 2.56 .08 2.56 .08 2.56 .08 2.56 .08 2.56 .08 2.56 .08 2.56"/>
<path class="m27" d="M135.55 233.5l0 .01"/>
<path class="m28" d="M135.59 235.97l0 .01"/>
<path class="m29" d="M135.62 238.45l.04 2.47 .04 2.47 .04 2.47 .04 2.47 .04 2.47 .04 2.47 .04 2.47 .04 2.47 .04 2.47 .04 2.47 .04 2.47 .04 2.47 .04 2.47 .04 2.47 .04 2.47 .04 2.47 .04 2.47 .04 2.47 .04 2.47 .04 2.47 .04 2.47 .04 2.47 .04 2.47 .04 2.47 .04 2.47 .04 2.47 .04 2.47 .04 2.47 .04 2.47 .04 2.47 .04 2.47 .04 2.47 .04 2.47 .04 2.47 .04 2.47 .04 2.47 .04 2.47"/>
<path class="m30" d="M139 251l0 2.45 0 2.45 0 2.45 0 2.45 0 2.45 0 2.45 0 2.45 0 2.45 0 2.45 0 2.45 0 2.45 0 2.45 0 2.45 0 2.45 0 2.45 0 2.45 0 2.45 0 2.45 0 2.45 0 2.45"/>
<path class="m31" d="M138.39 296l.1 2.57 .1 2.57 .1 2.57 .1 2.57 .1 2.57 .1 2.57 .1 2.57"/>
<path class="m32" d="M145.3 241l0 .01"/>
<path class="m33" d="M145.37 243.55l0 .01"/>
<path class="m34" d="M145.44 246.1l.07 2.55 .07 2.55 .07 2.55 .07 2.55 .07 2.55 .07 2.55 .07 2.55 .07 2.55 .07 2.55 .07 2.55 .07 2.55 .07 2.55 .07 2.55 .07 2.55 .07 2.55 .07 2.55 .07 2.55 .07 2.55"/>
<path class="m35" d="M150.8 214.5l0 .01"/>
<path class="m36" d="M150.86 217l0 .01"/>
<path class="m37" d="M150.92 219.5l.06 2.5 .06 2.5 .06 2.5 .06 2.5 .06 2.5 .06 2.5 .06 2.5 .06 2.5 .06 2.5 .06 2.5 .06 2.5 .06 2.5 .06 2.5 .06 2.5 .06 2.5 .06 2.5 .06 2.5 .06 2.5 .06 2.5 .06 2.5 .06 2.5"/>
<path class="m38" d="M148.03 268l-.09 2.33-.09 2.33-.09 2.33-.09 2.33-.09 2.33-.09 2.33"/>
<path class="m39" d="M152.4 246l.09 2.44 .09 2.44 .09 2.44 .09 2.44 .09 2.44 .09 2.44 .09 2.44 .09 2.44 .09 2.44 .09 2.44 .09 2.44 .09 2.44 .09 2.44 .09 2.44 .09 2.44 .09 2.44"/>
<path class="m40" d="M156.98 260l0 .01"/>
<path class="m41" d="M157.08 262.6l0 .01"/>
<path class="m42" d="M157.19 265.2l.1 2.6 .1 2.6 .1 2.6 .1 2.6 .1 2.6 .1 2.6 .1 2.6 .1 2.6"/>
<path class="m43" d="M160.45 270l-.12 3.25-.12 3.25-.12 3.25-.12 3.25-.12 3.25-.12 3.25-.12 3.25-.12 3.25-.12 3.25-.12 3.25-.12 3.25-.12 3.25"/>
<path class="m44" d="M166.8 265l-.1 2.5-.1 2.5-.1 2.5-.1 2.5-.1 2.5-.1 2.5"/>
<path class="m45" d="M166.8 281l-.1 2.5-.1 2.5-.1 2.5-.1 2.5-.1 2.5-.1 2.5"/>
<path class="m44" d="M166.84 297l-.1 2.43-.1 2.43-.1 2.43-.1 2.43-.1 2.43-.1 2.43-.1 2.43"/>
<path class="m46" d="M145.13 292.5l.24 5.88 .24 5.88 .24 5.88 .24 5.88"/>
<path class="m38" d="M147.25 295.25l0 .01"/>
<path class="m38" d="M151.47 310l-.22 5.5-.22 5.5"/>
<path class="m27" d="M138.29 337l0 .01"/>
<path class="m28" d="M138.39 339.56l0 .01"/>
<path class="m29" d="M138.49 342.11l.1 2.56 .1 2.56 .1 2.56 .1 2.56 .1 2.56 .1 2.56 .1 2.56"/>
<path class="m47" d="M136.67 367l-.12 3-.12 3-.12 3-.12 3-.12 3-.12 3-.12 3"/>
<path class="m48" d="M145.04 342l-.1 2.46-.1 2.46-.1 2.46-.1 2.46-.1 2.46-.1 2.46-.1 2.46-.1 2.46-.1 2.46-.1 2.46-.1 2.46-.1 2.46-.1 2.46"/>
<path class="m49" d="M156.55 334l-.1 2.5-.1 2.5-.1 2.5-.1 2.5-.1 2.5-.1 2.5"/>
<path class="m50" d="M155.28 342l-.14 3.5-.14 3.5-.14 3.5-.14 3.5"/>
<path class="m51" d="M164.7 335l-.09 2.56-.09 2.56-.09 2.56-.09 2.56-.09 2.56-.09 2.56-.09 2.56-.09 2.56-.09 2.56-.09 2.56-.09 2.56-.09 2.56-.09 2.56-.09 2.56-.09 2.56-.09 2.56"/>
<path class="m52" d="M163.58 355l.12 3 .12 3 .12 3 .12 3 .12 3 .12 3 .12 3"/>
<path class="m26" d="M145.7 401l-.1 2.5-.1 2.5"/>
<path class="m53" d="M148.58 374l0 .01"/>
<path class="m54" d="M148.48 376.42l0 .01"/>
<path class="m55" d="M148.39 378.83l-.1 2.42-.1 2.42-.1 2.42-.1 2.42-.1 2.42-.1 2.42-.1 2.42-.1 2.42-.1 2.42-.1 2.42"/>
<path class="m38" d="M150.84 359l-.1 2.4-.1 2.4-.1 2.4-.1 2.4-.1 2.4"/>
<path class="m56" d="M167.72 360l.09 2.33 .09 2.33 .09 2.33 .09 2.33 .09 2.33 .09 2.33"/>
<path class="m26" d="M168.1 375l-.1 2.5-.1 2.5"/>
<path class="m57" d="M173.47 286l0 .01"/>
<path class="m58" d="M173.56 288.33l0 .01"/>
<path class="m59" d="M173.66 290.67l.09 2.33 .09 2.33 .09 2.33 .09 2.33"/>
<path class="m60" d="M173.11 340l.1 2.46 .1 2.46 .1 2.46 .1 2.46 .1 2.46 .1 2.46 .1 2.46 .1 2.46 .1 2.46 .1 2.46 .1 2.46 .1 2.46 .1 2.46"/>
<path class="m61" d="M173.75 378l0 .01"/>
<path class="m62" d="M178.09 288.5l0 .01"/>
<path class="m63" d="M178.19 291.06l0 .01"/>
<path class="m64" d="M178.3 293.62l.1 2.56 .1 2.56 .1 2.56 .1 2.56 .1 2.56 .1 2.56"/>
<path class="m65" d="M177.92 309l-.1 2.62-.1 2.62-.1 2.62-.1 2.62-.1 2.62-.1 2.62-.1 2.62-.1 2.62"/>
<path class="m62" d="M180.58 319.7l0 .01"/>
<path class="m63" d="M180.48 322.03l0 .01"/>
<path class="m64" d="M180.39 324.36l-.09 2.33-.09 2.33-.09 2.33-.09 2.33-.09 2.33"/>
<path class="m66" d="M178.7 340l.07 2.45 .07 2.45 .07 2.45 .07 2.45 .07 2.45 .07 2.45 .07 2.45 .07 2.45 .07 2.45 .07 2.45 .07 2.45 .07 2.45 .07 2.45 .07 2.45 .07 2.45 .07 2.45 .07 2.45 .07 2.45 .07 2.45 .07 2.45"/>
<path class="m67" d="M181.3 340l.07 2.52 .07 2.52 .07 2.52 .07 2.52 .07 2.52 .07 2.52 .07 2.52 .07 2.52 .07 2.52 .07 2.52 .07 2.52 .07 2.52 .07 2.52 .07 2.52 .07 2.52 .07 2.52 .07 2.52 .07 2.52 .07 2.52 .07 2.52 .07 2.52"/>
<path class="m68" d="M187.25 317.5l.12 3.12 .12 3.12 .12 3.12 .12 3.12"/>
<path class="m69" d="M187.28 334l.15 3.67 .15 3.67 .15 3.67"/>
<path class="m70" d="M189.88 286.5l0 .01"/>
<path class="m71" d="M189.99 289.14l0 .01"/>
<path class="m72" d="M190.09 291.79l.11 2.64 .11 2.64 .11 2.64 .11 2.64 .11 2.64"/>
<path class="m73" d="M190.24 306l-.1 2.4-.1 2.4-.1 2.4-.1 2.4-.1 2.4"/>
<path class="m74" d="M194.79 310.5l0 .01"/>
<path class="m75" d="M194.69 312.94l0 .01"/>
<path class="m76" d="M194.59 315.38l-.1 2.44-.1 2.44-.1 2.44-.1 2.44-.1 2.44-.1 2.44"/>
<path class="m77" d="M198.2 318l-.06 2.48-.06 2.48-.06 2.48-.06 2.48-.06 2.48-.06 2.48-.06 2.48-.06 2.48-.06 2.48-.06 2.48-.06 2.48-.06 2.48-.06 2.48-.06 2.48-.06 2.48-.06 2.48-.06 2.48-.06 2.48-.06 2.48-.06 2.48-.06 2.48-.06 2.48-.06 2.48-.06 2.48-.06 2.48"/>
<path class="m78" d="M200.55 305l0 .01"/>
<path class="m79" d="M200.63 307.5l0 .01"/>
<path class="m80" d="M200.71 310l.08 2.5 .08 2.5 .08 2.5 .08 2.5 .08 2.5 .08 2.5 .08 2.5 .08 2.5 .08 2.5 .08 2.5 .08 2.5 .08 2.5 .08 2.5 .08 2.5 .08 2.5 .08 2.5"/>
<path class="m81" d="M185.67 350l.1 2.42 .1 2.42 .1 2.42 .1 2.42 .1 2.42 .1 2.42 .1 2.42 .1 2.42 .1 2.42 .1 2.42 .1 2.42 .1 2.42"/>
<path class="m82" d="M184.79 377.5l.21 5.25 .21 5.25"/>
<path class="m83" d="M185.25 394.4l0 .01"/>
<path class="m84" d="M191.02 359l-.12 3-.12 3-.12 3-.12 3-.12 3-.12 3-.12 3"/>
<path class="m85" d="M190.1 380l-.1 2.5-.1 2.5"/>
<path class="m86" d="M194.63 374l.11 2.64 .11 2.64 .11 2.64 .11 2.64 .11 2.64 .11 2.64 .11 2.64"/>
<path class="m87" d="M198.34 367l-.14 3.4-.14 3.4-.14 3.4-.14 3.4-.14 3.4"/>
<path class="m88" d="M204.45 342.5l-.08 2.56-.08 2.56-.08 2.56-.08 2.56-.08 2.56-.08 2.56-.08 2.56-.08 2.56-.08 2.56-.08 2.56-.08 2.56-.08 2.56-.08 2.56-.08 2.56-.08 2.56-.08 2.56-.08 2.56"/>
<path class="m26" d="M203.3 386l.08 2.53 .08 2.53 .08 2.53 .08 2.53 .08 2.53 .08 2.53 .08 2.53 .08 2.53 .08 2.53 .08 2.53 .08 2.53 .08 2.53 .08 2.53 .08 2.53 .08 2.53 .08 2.53"/>
<path class="m89" d="M204.62 428.97l0 .01"/>
<path class="m90" d="M204.7 431.5l0 .01"/>
<path class="m91" d="M214.45 265.4l0 .01"/>
<path class="m92" d="M214.37 267.93l0 .01"/>
<path class="m93" d="M214.29 270.47l-.08 2.53-.08 2.53-.08 2.53-.08 2.53-.08 2.53-.08 2.53-.08 2.53-.08 2.53-.08 2.53-.08 2.53-.08 2.53-.08 2.53-.08 2.53-.08 2.53-.08 2.53-.08 2.53"/>
<path class="m94" d="M216.07 309l.09 2.25 .09 2.25 .09 2.25 .09 2.25"/>
<path class="m95" d="M216.5 318l.12 3.12 .12 3.12 .12 3.12 .12 3.12 .12 3.12 .12 3.12 .12 3.12 .12 3.12"/>
<path class="m96" d="M211.7 330l-.05 2.5-.05 2.5-.05 2.5-.05 2.5-.05 2.5-.05 2.5-.05 2.5-.05 2.5-.05 2.5-.05 2.5-.05 2.5-.05 2.5-.05 2.5-.05 2.5-.05 2.5-.05 2.5-.05 2.5-.05 2.5-.05 2.5-.05 2.5-.05 2.5-.05 2.5-.05 2.5-.05 2.5-.05 2.5-.05 2.5-.05 2.5-.05 2.5"/>
<path class="m93" d="M209.13 340l.1 2.58 .1 2.58 .1 2.58 .1 2.58 .1 2.58 .1 2.58 .1 2.58 .1 2.58 .1 2.58 .1 2.58 .1 2.58 .1 2.58"/>
<path class="m20" d="M208.98 376l-.09 2.3-.09 2.3-.09 2.3-.09 2.3-.09 2.3"/>
<path class="m97" d="M209.32 388l.08 2 .08 2"/>
<path class="m98" d="M209.07 393l-.11 2.67-.11 2.67-.11 2.67-.11 2.67-.11 2.67-.11 2.67"/>
<path class="m99" d="M217.54 367l-.1 2.45-.1 2.45-.1 2.45-.1 2.45-.1 2.45-.1 2.45-.1 2.45-.1 2.45-.1 2.45-.1 2.45-.1 2.45"/>
<path class="m100" d="M220.7 302l-.05 2.52-.05 2.52-.05 2.52-.05 2.52-.05 2.52-.05 2.52-.05 2.52-.05 2.52-.05 2.52-.05 2.52-.05 2.52-.05 2.52-.05 2.52-.05 2.52-.05 2.52-.05 2.52-.05 2.52-.05 2.52-.05 2.52-.05 2.52-.05 2.52-.05 2.52-.05 2.52-.05 2.52-.05 2.52-.05 2.52-.05 2.52-.05 2.52-.05 2.52-.05 2.52-.05 2.52"/>
<path class="m101" d="M224.9 258l.08 2.47 .08 2.47 .08 2.47 .08 2.47 .08 2.47 .08 2.47 .08 2.47 .08 2.47 .08 2.47 .08 2.47 .08 2.47 .08 2.47 .08 2.47 .08 2.47 .08 2.47 .08 2.47 .08 2.47"/>
<path class="m102" d="M230.04 232l0 .01"/>
<path class="m103" d="M229.94 234.46l0 .01"/>
<path class="m104" d="M229.84 236.92l-.1 2.46-.1 2.46-.1 2.46-.1 2.46-.1 2.46-.1 2.46-.1 2.46-.1 2.46-.1 2.46-.1 2.46-.1 2.46"/>
<path class="m105" d="M230.08 266l-.1 2.43-.1 2.43-.1 2.43-.1 2.43-.1 2.43-.1 2.43-.1 2.43-.1 2.43-.1 2.43-.1 2.43-.1 2.43-.1 2.43-.1 2.43-.1 2.43"/>
<path class="m104" d="M226.8 297.5l.2 5 .2 5"/>
<path class="m106" d="M229.13 309l.11 2.64 .11 2.64 .11 2.64 .11 2.64 .11 2.64 .11 2.64 .11 2.64"/>
<path class="m107" d="M223.66 292l-.1 2.54-.1 2.54-.1 2.54-.1 2.54-.1 2.54-.1 2.54-.1 2.54-.1 2.54-.1 2.54-.1 2.54-.1 2.54-.1 2.54-.1 2.54"/>
<path class="m108" d="M223.68 326l-.1 2.43-.1 2.43-.1 2.43-.1 2.43-.1 2.43-.1 2.43-.1 2.43-.1 2.43-.1 2.43-.1 2.43-.1 2.43-.1 2.43-.1 2.43-.1 2.43"/>
<path class="m109" d="M221.98 368l.1 2.6 .1 2.6 .1 2.6 .1 2.6 .1 2.6 .1 2.6 .1 2.6 .1 2.6 .1 2.6 .1 2.6"/>
<path class="m110" d="M222.32 394l.09 2.25 .09 2.25 .09 2.25 .09 2.25"/>
<path class="m104" d="M225.48 370l.12 3 .12 3"/>
<path class="m111" d="M225.88 377l-.09 2.33-.09 2.33-.09 2.33-.09 2.33-.09 2.33-.09 2.33"/>
<path class="m112" d="M230.24 325l.1 2.57 .1 2.57 .1 2.57 .1 2.57 .1 2.57 .1 2.57 .1 2.57"/>
<path class="m113" d="M230.91 374l.1 2.43 .1 2.43 .1 2.43 .1 2.43 .1 2.43 .1 2.43 .1 2.43"/>
<path class="m114" d="M234.9 255.7l0 .01"/>
<path class="m115" d="M234.96 258.17l0 .01"/>
<path class="m116" d="M235.01 260.64l.06 2.47 .06 2.47 .06 2.47 .06 2.47 .06 2.47 .06 2.47 .06 2.47 .06 2.47 .06 2.47 .06 2.47 .06 2.47 .06 2.47 .06 2.47 .06 2.47 .06 2.47 .06 2.47 .06 2.47 .06 2.47 .06 2.47 .06 2.47 .06 2.47 .06 2.47 .06 2.47"/>
<path class="m117" d="M236.05 317.5l0 .01"/>
<path class="m118" d="M236.15 320l0 .01"/>
<path class="m119" d="M236.25 322.5l.1 2.5 .1 2.5 .1 2.5 .1 2.5 .1 2.5 .1 2.5 .1 2.5"/>
<path class="m120" d="M238.06 380l-.1 2.55-.1 2.55-.1 2.55-.1 2.55-.1 2.55-.1 2.55-.1 2.55-.1 2.55-.1 2.55-.1 2.55-.1 2.55"/>
<path class="m121" d="M242.05 263.5l-.1 2.5-.1 2.5-.1 2.5-.1 2.5-.1 2.5-.1 2.5-.1 2.5-.1 2.5-.1 2.5-.1 2.5-.1 2.5"/>
<path class="m122" d="M242.7 292l-.05 2.52-.05 2.52-.05 2.52-.05 2.52-.05 2.52-.05 2.52-.05 2.52-.05 2.52-.05 2.52-.05 2.52-.05 2.52-.05 2.52-.05 2.52-.05 2.52-.05 2.52-.05 2.52-.05 2.52-.05 2.52-.05 2.52-.05 2.52-.05 2.52-.05 2.52-.05 2.52-.05 2.52-.05 2.52-.05 2.52-.05 2.52-.05 2.52-.05 2.52-.05 2.52-.05 2.52"/>
<path class="m121" d="M240.45 330l-.1 2.5-.1 2.5-.1 2.5-.1 2.5"/>
<path class="m121" d="M244.23 359l.11 2.83 .11 2.83 .11 2.83"/>
<path class="m123" d="M241.7 374l-.1 2.5-.1 2.5-.1 2.5-.1 2.5"/>
<path class="m123" d="M240.96 391l.27 6.75 .27 6.75 .27 6.75 .27 6.75"/>
<path class="m124" d="M248.14 286.5l0 .01"/>
<path class="m125" d="M248.04 288.94l0 .01"/>
<path class="m126" d="M247.94 291.38l-.1 2.44-.1 2.44-.1 2.44-.1 2.44-.1 2.44-.1 2.44"/>
<path class="m126" d="M247.56 308l.19 4.75 .19 4.75"/>
<path class="m127" d="M251.47 327.9l-.11 2.77-.11 2.77-.11 2.77-.11 2.77"/>
<path class="m128" d="M251.8 340l.06 2.45 .06 2.45 .06 2.45 .06 2.45 .06 2.45 .06 2.45 .06 2.45 .06 2.45 .06 2.45 .06 2.45 .06 2.45 .06 2.45 .06 2.45 .06 2.45 .06 2.45 .06 2.45 .06 2.45 .06 2.45 .06 2.45 .06 2.45 .06 2.45 .06 2.45"/>
<path class="m129" d="M257.05 340l.06 2.5 .06 2.5 .06 2.5 .06 2.5 .06 2.5 .06 2.5 .06 2.5 .06 2.5 .06 2.5 .06 2.5 .06 2.5 .06 2.5 .06 2.5 .06 2.5 .06 2.5 .06 2.5 .06 2.5 .06 2.5 .06 2.5 .06 2.5 .06 2.5 .06 2.5"/>
<path class="m130" d="M258.07 374l-.13 3.2-.13 3.2-.13 3.2-.13 3.2-.13 3.2"/>
<path class="m124" d="M260.52 321.5l0 .01"/>
<path class="m125" d="M260.42 324.1l0 .01"/>
<path class="m126" d="M260.31 326.7l-.1 2.6-.1 2.6-.1 2.6-.1 2.6-.1 2.6-.1 2.6-.1 2.6-.1 2.6"/>
<path class="m131" d="M259.16 348l.1 2.4 .1 2.4 .1 2.4 .1 2.4 .1 2.4"/>
<path class="m132" d="M268.2 315l-.06 2.48-.06 2.48-.06 2.48-.06 2.48-.06 2.48-.06 2.48-.06 2.48-.06 2.48-.06 2.48-.06 2.48-.06 2.48-.06 2.48-.06 2.48-.06 2.48-.06 2.48-.06 2.48-.06 2.48-.06 2.48-.06 2.48-.06 2.48-.06 2.48-.06 2.48-.06 2.48"/>
<path class="m133" d="M266.14 309.75l.11 2.62 .11 2.62"/>
<path class="m134" d="M264.68 380l-.09 2.33-.09 2.33-.09 2.33-.09 2.33-.09 2.33-.09 2.33"/>
<path class="m135" d="M264.4 397l0 .01"/>
<path class="m135" d="M262.5 405l0 .01"/>
<path class="m135" d="M260.82 409l-.11 2.75-.11 2.75-.11 2.75-.11 2.75"/>
<path class="m136" d="M260.54 421l.12 3"/>
<path class="m135" d="M260.6 426l0 .01"/>
<path class="m137" d="M267.2 356l.1 2.5 .1 2.5 .1 2.5 .1 2.5 .1 2.5 .1 2.5"/>
<path class="m132" d="M267.66 372l-.11 2.67-.11 2.67-.11 2.67"/>
<path class="m138" d="M267.5 382l0 .01"/>
<path class="m139" d="M271.56 293.75l0 .01"/>
<path class="m140" d="M271.45 296.29l0 .01"/>
<path class="m141" d="M271.35 298.83l-.1 2.54-.1 2.54-.1 2.54-.1 2.54"/>
<path class="m91" d="M273.32 313l0 .01"/>
<path class="m92" d="M273.21 315.67l0 .01"/>
<path class="m93" d="M273.11 318.33l-.11 2.67-.11 2.67-.11 2.67-.11 2.67"/>
<path class="m141" d="M274.46 331l-.12 3"/>
<path class="m142" d="M275.16 335l-.11 2.67-.11 2.67-.11 2.67"/>
<path class="m143" d="M274.32 344l.1 2.43 .1 2.43 .1 2.43 .1 2.43 .1 2.43 .1 2.43 .1 2.43 .1 2.43 .1 2.43 .1 2.43 .1 2.43 .1 2.43 .1 2.43 .1 2.43"/>
<path class="m144" d="M277.71 346.5l0 .01"/>
<path class="m145" d="M277.6 349.12l0 .01"/>
<path class="m146" d="M277.5 351.75l-.11 2.62-.11 2.62"/>
<path class="m147" d="M279.07 357.5l.09 2.36 .09 2.36 .09 2.36 .09 2.36 .09 2.36 .09 2.36 .09 2.36"/>
<path class="m148" d="M278.86 379l0 .01"/>
<path class="m149" d="M278.96 381.45l0 .01"/>
<path class="m150" d="M279.06 383.91l.1 2.45 .1 2.45 .1 2.45 .1 2.45 .1 2.45 .1 2.45 .1 2.45 .1 2.45 .1 2.45"/>
<path class="m51" d="M279.58 407l-.09 2.25-.09 2.25-.09 2.25-.09 2.25"/>
<path class="m8" d="M336.68 349.6l-.09 2.47-.09 2.47-.09 2.47-.09 2.47-.09 2.47-.09 2.47-.09 2.47-.09 2.47-.09 2.47-.09 2.47-.09 2.47-.09 2.47-.09 2.47-.09 2.47-.09 2.47"/>
<path class="m17" d="M339.02 331.77l-.07 2.45-.07 2.45-.07 2.45-.07 2.45-.07 2.45-.07 2.45-.07 2.45-.07 2.45-.07 2.45-.07 2.45-.07 2.45-.07 2.45-.07 2.45-.07 2.45-.07 2.45-.07 2.45-.07 2.45-.07 2.45-.07 2.45"/>
<path class="m11" d="M341.38 296.77l-.04 2.48-.04 2.48-.04 2.48-.04 2.48-.04 2.48-.04 2.48-.04 2.48-.04 2.48-.04 2.48-.04 2.48-.04 2.48-.04 2.48-.04 2.48-.04 2.48-.04 2.48-.04 2.48-.04 2.48-.04 2.48-.04 2.48-.04 2.48-.04 2.48-.04 2.48-.04 2.48-.04 2.48-.04 2.48-.04 2.48-.04 2.48-.04 2.48-.04 2.48-.04 2.48-.04 2.48-.04 2.48"/>
<path class="m6" d="M343.73 277.9l-.04 2.52-.04 2.52-.04 2.52-.04 2.52-.04 2.52-.04 2.52-.04 2.52-.04 2.52-.04 2.52-.04 2.52-.04 2.52-.04 2.52-.04 2.52-.04 2.52-.04 2.52-.04 2.52-.04 2.52-.04 2.52-.04 2.52-.04 2.52-.04 2.52-.04 2.52-.04 2.52-.04 2.52-.04 2.52-.04 2.52-.04 2.52-.04 2.52-.04 2.52-.04 2.52-.04 2.52-.04 2.52-.04 2.52-.04 2.52-.04 2.52-.04 2.52-.04 2.52-.04 2.52-.04 2.52"/>
<path class="m16" d="M346.07 278.02l-.04 2.51-.04 2.51-.04 2.51-.04 2.51-.04 2.51-.04 2.51-.04 2.51-.04 2.51-.04 2.51-.04 2.51-.04 2.51-.04 2.51-.04 2.51-.04 2.51-.04 2.51-.04 2.51-.04 2.51-.04 2.51-.04 2.51-.04 2.51-.04 2.51-.04 2.51-.04 2.51-.04 2.51-.04 2.51-.04 2.51-.04 2.51-.04 2.51-.04 2.51-.04 2.51-.04 2.51-.04 2.51-.04 2.51-.04 2.51-.04 2.51-.04 2.51-.04 2.51-.04 2.51-.04 2.51"/>
<path class="m15" d="M348.43 278.13l-.04 2.5-.04 2.5-.04 2.5-.04 2.5-.04 2.5-.04 2.5-.04 2.5-.04 2.5-.04 2.5-.04 2.5-.04 2.5-.04 2.5-.04 2.5-.04 2.5-.04 2.5-.04 2.5-.04 2.5-.04 2.5-.04 2.5-.04 2.5-.04 2.5-.04 2.5-.04 2.5-.04 2.5-.04 2.5-.04 2.5-.04 2.5-.04 2.5-.04 2.5-.04 2.5-.04 2.5-.04 2.5-.04 2.5-.04 2.5-.04 2.5-.04 2.5-.04 2.5-.04 2.5-.04 2.5-.04 2.5"/>
<path class="m9" d="M350.77 272.59l-.03 2.49-.03 2.49-.03 2.49-.03 2.49-.03 2.49-.03 2.49-.03 2.49-.03 2.49-.03 2.49-.03 2.49-.03 2.49-.03 2.49-.03 2.49-.03 2.49-.03 2.49-.03 2.49-.03 2.49-.03 2.49-.03 2.49-.03 2.49-.03 2.49-.03 2.49-.03 2.49-.03 2.49-.03 2.49-.03 2.49-.03 2.49-.03 2.49-.03 2.49-.03 2.49-.03 2.49-.03 2.49-.03 2.49-.03 2.49-.03 2.49-.03 2.49-.03 2.49-.03 2.49-.03 2.49-.03 2.49-.03 2.49-.03 2.49-.03 2.49-.03 2.49-.03 2.49"/>
<path class="m0" d="M351.73 273.67l.03 2.51 .03 2.51 .03 2.51 .03 2.51 .03 2.51 .03 2.51 .03 2.51 .03 2.51 .03 2.51 .03 2.51 .03 2.51 .03 2.51 .03 2.51 .03 2.51 .03 2.51 .03 2.51 .03 2.51 .03 2.51 .03 2.51 .03 2.51 .03 2.51 .03 2.51 .03 2.51 .03 2.51 .03 2.51 .03 2.51 .03 2.51 .03 2.51 .03 2.51 .03 2.51 .03 2.51 .03 2.51 .03 2.51 .03 2.51 .03 2.51 .03 2.51 .03 2.51 .03 2.51 .03 2.51 .03 2.51 .03 2.51 .03 2.51 .03 2.51 .03 2.51 .03 2.51 .03 2.51 .03 2.51"/>
<path class="m8" d="M354.08 273.58l.03 2.51 .03 2.51 .03 2.51 .03 2.51 .03 2.51 .03 2.51 .03 2.51 .03 2.51 .03 2.51 .03 2.51 .03 2.51 .03 2.51 .03 2.51 .03 2.51 .03 2.51 .03 2.51 .03 2.51 .03 2.51 .03 2.51 .03 2.51 .03 2.51 .03 2.51 .03 2.51 .03 2.51 .03 2.51 .03 2.51 .03 2.51 .03 2.51 .03 2.51 .03 2.51 .03 2.51 .03 2.51 .03 2.51 .03 2.51 .03 2.51 .03 2.51 .03 2.51 .03 2.51 .03 2.51 .03 2.51 .03 2.51 .03 2.51 .03 2.51 .03 2.51 .03 2.51"/>
<path class="m10" d="M357.82 273.54l-.03 2.51-.03 2.51-.03 2.51-.03 2.51-.03 2.51-.03 2.51-.03 2.51-.03 2.51-.03 2.51-.03 2.51-.03 2.51-.03 2.51-.03 2.51-.03 2.51-.03 2.51-.03 2.51-.03 2.51-.03 2.51-.03 2.51-.03 2.51-.03 2.51-.03 2.51-.03 2.51-.03 2.51-.03 2.51-.03 2.51-.03 2.51-.03 2.51-.03 2.51-.03 2.51-.03 2.51-.03 2.51-.03 2.51-.03 2.51-.03 2.51-.03 2.51-.03 2.51-.03 2.51-.03 2.51-.03 2.51-.03 2.51-.03 2.51-.03 2.51-.03 2.51-.03 2.51"/>
<path class="m3" d="M358.78 272.96l.03 2.52 .03 2.52 .03 2.52 .03 2.52 .03 2.52 .03 2.52 .03 2.52 .03 2.52 .03 2.52 .03 2.52 .03 2.52 .03 2.52 .03 2.52 .03 2.52 .03 2.52 .03 2.52 .03 2.52 .03 2.52 .03 2.52 .03 2.52 .03 2.52 .03 2.52 .03 2.52 .03 2.52 .03 2.52 .03 2.52 .03 2.52 .03 2.52 .03 2.52 .03 2.52 .03 2.52 .03 2.52 .03 2.52 .03 2.52 .03 2.52 .03 2.52 .03 2.52 .03 2.52 .03 2.52 .03 2.52 .03 2.52 .03 2.52 .03 2.52 .03 2.52 .03 2.52"/>
<path class="m4" d="M361.12 274.59l.03 2.48 .03 2.48 .03 2.48 .03 2.48 .03 2.48 .03 2.48 .03 2.48 .03 2.48 .03 2.48 .03 2.48 .03 2.48 .03 2.48 .03 2.48 .03 2.48 .03 2.48 .03 2.48 .03 2.48 .03 2.48 .03 2.48 .03 2.48 .03 2.48 .03 2.48 .03 2.48 .03 2.48 .03 2.48 .03 2.48 .03 2.48 .03 2.48 .03 2.48 .03 2.48 .03 2.48 .03 2.48 .03 2.48 .03 2.48 .03 2.48 .03 2.48 .03 2.48 .03 2.48 .03 2.48 .03 2.48 .03 2.48 .03 2.48 .03 2.48 .03 2.48 .03 2.48"/>
<path class="m4" d="M364.88 284.93l-.04 2.49-.04 2.49-.04 2.49-.04 2.49-.04 2.49-.04 2.49-.04 2.49-.04 2.49-.04 2.49-.04 2.49-.04 2.49-.04 2.49-.04 2.49-.04 2.49-.04 2.49-.04 2.49-.04 2.49-.04 2.49-.04 2.49-.04 2.49-.04 2.49-.04 2.49-.04 2.49-.04 2.49-.04 2.49-.04 2.49-.04 2.49-.04 2.49-.04 2.49-.04 2.49-.04 2.49-.04 2.49-.04 2.49-.04 2.49-.04 2.49-.04 2.49-.04 2.49-.04 2.49-.04 2.49-.04 2.49"/>
<path class="m8" d="M367.22 302.44l-.04 2.49-.04 2.49-.04 2.49-.04 2.49-.04 2.49-.04 2.49-.04 2.49-.04 2.49-.04 2.49-.04 2.49-.04 2.49-.04 2.49-.04 2.49-.04 2.49-.04 2.49-.04 2.49-.04 2.49-.04 2.49-.04 2.49-.04 2.49-.04 2.49-.04 2.49-.04 2.49-.04 2.49-.04 2.49-.04 2.49-.04 2.49-.04 2.49-.04 2.49-.04 2.49-.04 2.49-.04 2.49-.04 2.49"/>
<path class="m4" d="M369.57 322.37l-.06 2.49-.06 2.49-.06 2.49-.06 2.49-.06 2.49-.06 2.49-.06 2.49-.06 2.49-.06 2.49-.06 2.49-.06 2.49-.06 2.49-.06 2.49-.06 2.49-.06 2.49-.06 2.49-.06 2.49-.06 2.49-.06 2.49-.06 2.49-.06 2.49-.06 2.49-.06 2.49-.06 2.49-.06 2.49"/>
<path class="m13" d="M371.93 325.5l-.05 2.5-.05 2.5-.05 2.5-.05 2.5-.05 2.5-.05 2.5-.05 2.5-.05 2.5-.05 2.5-.05 2.5-.05 2.5-.05 2.5-.05 2.5-.05 2.5-.05 2.5-.05 2.5-.05 2.5-.05 2.5-.05 2.5-.05 2.5-.05 2.5-.05 2.5-.05 2.5-.05 2.5-.05 2.5-.05 2.5"/>
<path class="m17" d="M374.27 325.43l-.05 2.48-.05 2.48-.05 2.48-.05 2.48-.05 2.48-.05 2.48-.05 2.48-.05 2.48-.05 2.48-.05 2.48-.05 2.48-.05 2.48-.05 2.48-.05 2.48-.05 2.48-.05 2.48-.05 2.48-.05 2.48-.05 2.48-.05 2.48-.05 2.48-.05 2.48-.05 2.48-.05 2.48-.05 2.48-.05 2.48-.05 2.48-.05 2.48-.05 2.48-.05 2.48-.05 2.48"/>
<path class="m14" d="M376.62 325.37l-.05 2.52-.05 2.52-.05 2.52-.05 2.52-.05 2.52-.05 2.52-.05 2.52-.05 2.52-.05 2.52-.05 2.52-.05 2.52-.05 2.52-.05 2.52-.05 2.52-.05 2.52-.05 2.52-.05 2.52-.05 2.52-.05 2.52-.05 2.52-.05 2.52-.05 2.52-.05 2.52-.05 2.52-.05 2.52-.05 2.52-.05 2.52-.05 2.52-.05 2.52-.05 2.52-.05 2.52"/>
<path class="m12" d="M378.97 316.62l-.05 2.47-.05 2.47-.05 2.47-.05 2.47-.05 2.47-.05 2.47-.05 2.47-.05 2.47-.05 2.47-.05 2.47-.05 2.47-.05 2.47-.05 2.47-.05 2.47-.05 2.47-.05 2.47-.05 2.47-.05 2.47-.05 2.47-.05 2.47-.05 2.47-.05 2.47-.05 2.47-.05 2.47-.05 2.47-.05 2.47-.05 2.47-.05 2.47-.05 2.47-.05 2.47"/>
<path class="m8" d="M381.32 304.37l-.04 2.46-.04 2.46-.04 2.46-.04 2.46-.04 2.46-.04 2.46-.04 2.46-.04 2.46-.04 2.46-.04 2.46-.04 2.46-.04 2.46-.04 2.46-.04 2.46-.04 2.46-.04 2.46-.04 2.46-.04 2.46-.04 2.46-.04 2.46-.04 2.46-.04 2.46-.04 2.46-.04 2.46-.04 2.46-.04 2.46-.04 2.46-.04 2.46-.04 2.46-.04 2.46-.04 2.46-.04 2.46-.04 2.46"/>
<path class="m0" d="M382.28 307.98l.05 2.46 .05 2.46 .05 2.46 .05 2.46 .05 2.46 .05 2.46 .05 2.46 .05 2.46 .05 2.46 .05 2.46 .05 2.46 .05 2.46 .05 2.46 .05 2.46 .05 2.46 .05 2.46 .05 2.46 .05 2.46 .05 2.46 .05 2.46 .05 2.46 .05 2.46 .05 2.46 .05 2.46 .05 2.46 .05 2.46 .05 2.46 .05 2.46 .05 2.46 .05 2.46 .05 2.46"/>
<path class="m11" d="M386.02 327.38l-.06 2.47-.06 2.47-.06 2.47-.06 2.47-.06 2.47-.06 2.47-.06 2.47-.06 2.47-.06 2.47-.06 2.47-.06 2.47-.06 2.47-.06 2.47-.06 2.47-.06 2.47-.06 2.47-.06 2.47-.06 2.47-.06 2.47-.06 2.47-.06 2.47-.06 2.47-.06 2.47"/>
<path class="m7" d="M388.38 337.65l-.07 2.55-.07 2.55-.07 2.55-.07 2.55-.07 2.55-.07 2.55-.07 2.55-.07 2.55-.07 2.55-.07 2.55-.07 2.55-.07 2.55-.07 2.55-.07 2.55-.07 2.55-.07 2.55-.07 2.55-.07 2.55-.07 2.55"/>
<path class="m15" d="M390.72 337.88l-.06 2.46-.06 2.46-.06 2.46-.06 2.46-.06 2.46-.06 2.46-.06 2.46-.06 2.46-.06 2.46-.06 2.46-.06 2.46-.06 2.46-.06 2.46-.06 2.46-.06 2.46-.06 2.46-.06 2.46-.06 2.46-.06 2.46-.06 2.46-.06 2.46-.06 2.46"/>
<path class="m11" d="M391.68 337.88l.07 2.5 .07 2.5 .07 2.5 .07 2.5 .07 2.5 .07 2.5 .07 2.5 .07 2.5 .07 2.5 .07 2.5 .07 2.5 .07 2.5 .07 2.5 .07 2.5 .07 2.5 .07 2.5 .07 2.5 .07 2.5 .07 2.5 .07 2.5 .07 2.5"/>
<path class="m8" d="M395.43 327.15l-.06 2.54-.06 2.54-.06 2.54-.06 2.54-.06 2.54-.06 2.54-.06 2.54-.06 2.54-.06 2.54-.06 2.54-.06 2.54-.06 2.54-.06 2.54-.06 2.54-.06 2.54-.06 2.54-.06 2.54-.06 2.54-.06 2.54-.06 2.54-.06 2.54-.06 2.54-.06 2.54-.06 2.54-.06 2.54"/>
<path class="m2" d="M396.38 317.72l.05 2.51 .05 2.51 .05 2.51 .05 2.51 .05 2.51 .05 2.51 .05 2.51 .05 2.51 .05 2.51 .05 2.51 .05 2.51 .05 2.51 .05 2.51 .05 2.51 .05 2.51 .05 2.51 .05 2.51 .05 2.51 .05 2.51 .05 2.51 .05 2.51 .05 2.51 .05 2.51 .05 2.51 .05 2.51 .05 2.51 .05 2.51 .05 2.51 .05 2.51"/>
<path class="m0" d="M400.12 308.93l-.04 2.51-.04 2.51-.04 2.51-.04 2.51-.04 2.51-.04 2.51-.04 2.51-.04 2.51-.04 2.51-.04 2.51-.04 2.51-.04 2.51-.04 2.51-.04 2.51-.04 2.51-.04 2.51-.04 2.51-.04 2.51-.04 2.51-.04 2.51-.04 2.51-.04 2.51-.04 2.51-.04 2.51-.04 2.51-.04 2.51-.04 2.51-.04 2.51-.04 2.51-.04 2.51-.04 2.51-.04 2.51"/>
<path class="m15" d="M401.07 308.35l.04 2.54 .04 2.54 .04 2.54 .04 2.54 .04 2.54 .04 2.54 .04 2.54 .04 2.54 .04 2.54 .04 2.54 .04 2.54 .04 2.54 .04 2.54 .04 2.54 .04 2.54 .04 2.54 .04 2.54 .04 2.54 .04 2.54 .04 2.54 .04 2.54 .04 2.54 .04 2.54 .04 2.54 .04 2.54 .04 2.54 .04 2.54 .04 2.54 .04 2.54 .04 2.54 .04 2.54 .04 2.54"/>
<path class="m4" d="M403.43 313.05l.05 2.47 .05 2.47 .05 2.47 .05 2.47 .05 2.47 .05 2.47 .05 2.47 .05 2.47 .05 2.47 .05 2.47 .05 2.47 .05 2.47 .05 2.47 .05 2.47 .05 2.47 .05 2.47 .05 2.47 .05 2.47 .05 2.47 .05 2.47 .05 2.47 .05 2.47 .05 2.47 .05 2.47 .05 2.47 .05 2.47 .05 2.47 .05 2.47 .05 2.47 .05 2.47 .05 2.47"/>
<path class="m4" d="M407.18 315.37l-.04 2.5-.04 2.5-.04 2.5-.04 2.5-.04 2.5-.04 2.5-.04 2.5-.04 2.5-.04 2.5-.04 2.5-.04 2.5-.04 2.5-.04 2.5-.04 2.5-.04 2.5-.04 2.5-.04 2.5-.04 2.5-.04 2.5-.04 2.5-.04 2.5-.04 2.5-.04 2.5-.04 2.5-.04 2.5-.04 2.5-.04 2.5-.04 2.5-.04 2.5-.04 2.5-.04 2.5-.04 2.5-.04 2.5-.04 2.5-.04 2.5"/>
<path class="m4" d="M408.12 315.33l.04 2.47 .04 2.47 .04 2.47 .04 2.47 .04 2.47 .04 2.47 .04 2.47 .04 2.47 .04 2.47 .04 2.47 .04 2.47 .04 2.47 .04 2.47 .04 2.47 .04 2.47 .04 2.47 .04 2.47 .04 2.47 .04 2.47 .04 2.47 .04 2.47 .04 2.47 .04 2.47 .04 2.47 .04 2.47 .04 2.47 .04 2.47 .04 2.47 .04 2.47 .04 2.47 .04 2.47 .04 2.47 .04 2.47 .04 2.47 .04 2.47 .04 2.47 .04 2.47 .04 2.47 .04 2.47 .04 2.47"/>
<path class="m8" d="M411.88 315.29l-.04 2.49-.04 2.49-.04 2.49-.04 2.49-.04 2.49-.04 2.49-.04 2.49-.04 2.49-.04 2.49-.04 2.49-.04 2.49-.04 2.49-.04 2.49-.04 2.49-.04 2.49-.04 2.49-.04 2.49-.04 2.49-.04 2.49-.04 2.49-.04 2.49-.04 2.49-.04 2.49-.04 2.49-.04 2.49-.04 2.49-.04 2.49-.04 2.49-.04 2.49-.04 2.49-.04 2.49-.04 2.49-.04 2.49"/>
<path class="m13" d="M414.22 313.47l-.05 2.49-.05 2.49-.05 2.49-.05 2.49-.05 2.49-.05 2.49-.05 2.49-.05 2.49-.05 2.49-.05 2.49-.05 2.49-.05 2.49-.05 2.49-.05 2.49-.05 2.49-.05 2.49-.05 2.49-.05 2.49-.05 2.49-.05 2.49-.05 2.49-.05 2.49-.05 2.49-.05 2.49-.05 2.49-.05 2.49-.05 2.49-.05 2.49-.05 2.49-.05 2.49-.05 2.49"/>
<path class="m6" d="M416.57 307.28l-.05 2.48-.05 2.48-.05 2.48-.05 2.48-.05 2.48-.05 2.48-.05 2.48-.05 2.48-.05 2.48-.05 2.48-.05 2.48-.05 2.48-.05 2.48-.05 2.48-.05 2.48-.05 2.48-.05 2.48-.05 2.48-.05 2.48-.05 2.48-.05 2.48-.05 2.48-.05 2.48-.05 2.48-.05 2.48-.05 2.48-.05 2.48-.05 2.48-.05 2.48-.05 2.48"/>
<path class="m1" d="M417.53 308.08l.05 2.51 .05 2.51 .05 2.51 .05 2.51 .05 2.51 .05 2.51 .05 2.51 .05 2.51 .05 2.51 .05 2.51 .05 2.51 .05 2.51 .05 2.51 .05 2.51 .05 2.51 .05 2.51 .05 2.51 .05 2.51 .05 2.51 .05 2.51 .05 2.51 .05 2.51 .05 2.51 .05 2.51 .05 2.51 .05 2.51 .05 2.51 .05 2.51"/>
<path class="m0" d="M421.27 315.92l-.06 2.46-.06 2.46-.06 2.46-.06 2.46-.06 2.46-.06 2.46-.06 2.46-.06 2.46-.06 2.46-.06 2.46-.06 2.46-.06 2.46-.06 2.46-.06 2.46-.06 2.46-.06 2.46-.06 2.46-.06 2.46-.06 2.46-.06 2.46-.06 2.46-.06 2.46-.06 2.46-.06 2.46-.06 2.46"/>
<path class="m7" d="M422.23 319.65l.06 2.51 .06 2.51 .06 2.51 .06 2.51 .06 2.51 .06 2.51 .06 2.51 .06 2.51 .06 2.51 .06 2.51 .06 2.51 .06 2.51 .06 2.51 .06 2.51 .06 2.51 .06 2.51 .06 2.51 .06 2.51 .06 2.51 .06 2.51 .06 2.51 .06 2.51"/>
<path class="m2" d="M425.97 323.68l-.07 2.44-.07 2.44-.07 2.44-.07 2.44-.07 2.44-.07 2.44-.07 2.44-.07 2.44-.07 2.44-.07 2.44-.07 2.44-.07 2.44-.07 2.44-.07 2.44-.07 2.44-.07 2.44-.07 2.44-.07 2.44-.07 2.44-.07 2.44-.07 2.44"/>
<path class="m9" d="M428.32 327.97l-.07 2.48-.07 2.48-.07 2.48-.07 2.48-.07 2.48-.07 2.48-.07 2.48-.07 2.48-.07 2.48-.07 2.48-.07 2.48-.07 2.48-.07 2.48-.07 2.48-.07 2.48-.07 2.48-.07 2.48-.07 2.48-.07 2.48"/>
<path class="m10" d="M429.28 327.95l.07 2.55 .07 2.55 .07 2.55 .07 2.55 .07 2.55 .07 2.55 .07 2.55 .07 2.55 .07 2.55 .07 2.55 .07 2.55 .07 2.55 .07 2.55 .07 2.55 .07 2.55 .07 2.55 .07 2.55 .07 2.55 .07 2.55 .07 2.55 .07 2.55"/>
<path class="m10" d="M431.62 327.86l.07 2.44 .07 2.44 .07 2.44 .07 2.44 .07 2.44 .07 2.44 .07 2.44 .07 2.44 .07 2.44 .07 2.44 .07 2.44 .07 2.44 .07 2.44 .07 2.44 .07 2.44 .07 2.44 .07 2.44 .07 2.44 .07 2.44 .07 2.44 .07 2.44"/>
<path class="m10" d="M433.98 324.97l.06 2.46 .06 2.46 .06 2.46 .06 2.46 .06 2.46 .06 2.46 .06 2.46 .06 2.46 .06 2.46 .06 2.46 .06 2.46 .06 2.46 .06 2.46 .06 2.46 .06 2.46 .06 2.46 .06 2.46 .06 2.46 .06 2.46 .06 2.46 .06 2.46 .06 2.46"/>
<path class="m7" d="M437.72 317.5l-.06 2.48-.06 2.48-.06 2.48-.06 2.48-.06 2.48-.06 2.48-.06 2.48-.06 2.48-.06 2.48-.06 2.48-.06 2.48-.06 2.48-.06 2.48-.06 2.48-.06 2.48-.06 2.48-.06 2.48-.06 2.48-.06 2.48-.06 2.48-.06 2.48-.06 2.48-.06 2.48-.06 2.48-.06 2.48"/>
<path class="m1" d="M438.68 304.35l.05 2.5 .05 2.5 .05 2.5 .05 2.5 .05 2.5 .05 2.5 .05 2.5 .05 2.5 .05 2.5 .05 2.5 .05 2.5 .05 2.5 .05 2.5 .05 2.5 .05 2.5 .05 2.5 .05 2.5 .05 2.5 .05 2.5 .05 2.5 .05 2.5 .05 2.5 .05 2.5 .05 2.5 .05 2.5 .05 2.5 .05 2.5 .05 2.5 .05 2.5 .05 2.5 .05 2.5"/>
<path class="m14" d="M442.43 311.54l-.05 2.53-.05 2.53-.05 2.53-.05 2.53-.05 2.53-.05 2.53-.05 2.53-.05 2.53-.05 2.53-.05 2.53-.05 2.53-.05 2.53-.05 2.53-.05 2.53-.05 2.53-.05 2.53-.05 2.53-.05 2.53-.05 2.53-.05 2.53-.05 2.53-.05 2.53-.05 2.53-.05 2.53-.05 2.53-.05 2.53-.05 2.53-.05 2.53-.05 2.53-.05 2.53"/>
<path class="m14" d="M443.38 326.79l.04 2.47 .04 2.47 .04 2.47 .04 2.47 .04 2.47 .04 2.47 .04 2.47 .04 2.47 .04 2.47 .04 2.47 .04 2.47 .04 2.47 .04 2.47 .04 2.47 .04 2.47 .04 2.47 .04 2.47 .04 2.47 .04 2.47 .04 2.47 .04 2.47 .04 2.47 .04 2.47 .04 2.47 .04 2.47 .04 2.47 .04 2.47 .04 2.47 .04 2.47 .04 2.47 .04 2.47 .04 2.47"/>
<path class="m4" d="M445.73 330.71l.05 2.5 .05 2.5 .05 2.5 .05 2.5 .05 2.5 .05 2.5 .05 2.5 .05 2.5 .05 2.5 .05 2.5 .05 2.5 .05 2.5 .05 2.5 .05 2.5 .05 2.5 .05 2.5 .05 2.5 .05 2.5 .05 2.5 .05 2.5 .05 2.5 .05 2.5 .05 2.5 .05 2.5 .05 2.5 .05 2.5 .05 2.5 .05 2.5 .05 2.5 .05 2.5 .05 2.5"/>
<path class="m0" d="M448.07 330.62l.06 2.54 .06 2.54 .06 2.54 .06 2.54 .06 2.54 .06 2.54 .06 2.54 .06 2.54 .06 2.54 .06 2.54 .06 2.54 .06 2.54 .06 2.54 .06 2.54 .06 2.54 .06 2.54 .06 2.54 .06 2.54 .06 2.54 .06 2.54 .06 2.54 .06 2.54 .06 2.54"/>
<path class="m16" d="M450.43 330.89l.06 2.53 .06 2.53 .06 2.53 .06 2.53 .06 2.53 .06 2.53 .06 2.53 .06 2.53 .06 2.53 .06 2.53 .06 2.53 .06 2.53 .06 2.53 .06 2.53 .06 2.53 .06 2.53 .06 2.53 .06 2.53 .06 2.53 .06 2.53 .06 2.53 .06 2.53 .06 2.53"/>
<path class="m0" d="M454.18 335.94l-.07 2.53-.07 2.53-.07 2.53-.07 2.53-.07 2.53-.07 2.53-.07 2.53-.07 2.53-.07 2.53-.07 2.53-.07 2.53-.07 2.53-.07 2.53-.07 2.53-.07 2.53-.07 2.53-.07 2.53-.07 2.53-.07 2.53-.07 2.53-.07 2.53"/>
<path class="m3" d="M456.52 339.75l-.07 2.44-.07 2.44-.07 2.44-.07 2.44-.07 2.44-.07 2.44-.07 2.44-.07 2.44-.07 2.44-.07 2.44-.07 2.44-.07 2.44-.07 2.44-.07 2.44-.07 2.44-.07 2.44-.07 2.44-.07 2.44-.07 2.44-.07 2.44-.07 2.44"/>
<path class="m0" d="M457.48 339.67l.07 2.48 .07 2.48 .07 2.48 .07 2.48 .07 2.48 .07 2.48 .07 2.48 .07 2.48 .07 2.48 .07 2.48 .07 2.48 .07 2.48 .07 2.48 .07 2.48 .07 2.48 .07 2.48 .07 2.48 .07 2.48 .07 2.48 .07 2.48 .07 2.48"/>
<path class="m13" d="M461.22 339.58l-.07 2.51-.07 2.51-.07 2.51-.07 2.51-.07 2.51-.07 2.51-.07 2.51-.07 2.51-.07 2.51-.07 2.51-.07 2.51-.07 2.51-.07 2.51-.07 2.51-.07 2.51-.07 2.51-.07 2.51-.07 2.51-.07 2.51-.07 2.51-.07 2.51"/>
<path class="m1" d="M462.18 331.41l.05 2.47 .05 2.47 .05 2.47 .05 2.47 .05 2.47 .05 2.47 .05 2.47 .05 2.47 .05 2.47 .05 2.47 .05 2.47 .05 2.47 .05 2.47 .05 2.47 .05 2.47 .05 2.47 .05 2.47 .05 2.47 .05 2.47 .05 2.47 .05 2.47 .05 2.47 .05 2.47 .05 2.47 .05 2.47 .05 2.47 .05 2.47"/>
<path class="m4" d="M464.53 329.91l.05 2.5 .05 2.5 .05 2.5 .05 2.5 .05 2.5 .05 2.5 .05 2.5 .05 2.5 .05 2.5 .05 2.5 .05 2.5 .05 2.5 .05 2.5 .05 2.5 .05 2.5 .05 2.5 .05 2.5 .05 2.5 .05 2.5 .05 2.5 .05 2.5 .05 2.5 .05 2.5 .05 2.5 .05 2.5 .05 2.5 .05 2.5 .05 2.5 .05 2.5"/>
<path class="m4" d="M468.27 329.76l-.05 2.48-.05 2.48-.05 2.48-.05 2.48-.05 2.48-.05 2.48-.05 2.48-.05 2.48-.05 2.48-.05 2.48-.05 2.48-.05 2.48-.05 2.48-.05 2.48-.05 2.48-.05 2.48-.05 2.48-.05 2.48-.05 2.48-.05 2.48-.05 2.48-.05 2.48-.05 2.48-.05 2.48-.05 2.48-.05 2.48-.05 2.48-.05 2.48-.05 2.48-.05 2.48"/>
<path class="m11" d="M470.62 329.61l-.05 2.47-.05 2.47-.05 2.47-.05 2.47-.05 2.47-.05 2.47-.05 2.47-.05 2.47-.05 2.47-.05 2.47-.05 2.47-.05 2.47-.05 2.47-.05 2.47-.05 2.47-.05 2.47-.05 2.47-.05 2.47-.05 2.47-.05 2.47-.05 2.47-.05 2.47-.05 2.47-.05 2.47-.05 2.47-.05 2.47-.05 2.47-.05 2.47-.05 2.47"/>
<path class="m11" d="M472.97 324.38l-.05 2.52-.05 2.52-.05 2.52-.05 2.52-.05 2.52-.05 2.52-.05 2.52-.05 2.52-.05 2.52-.05 2.52-.05 2.52-.05 2.52-.05 2.52-.05 2.52-.05 2.52-.05 2.52-.05 2.52-.05 2.52-.05 2.52-.05 2.52-.05 2.52-.05 2.52-.05 2.52-.05 2.52-.05 2.52-.05 2.52-.05 2.52-.05 2.52"/>
<path class="m15" d="M473.93 316.09l.04 2.47 .04 2.47 .04 2.47 .04 2.47 .04 2.47 .04 2.47 .04 2.47 .04 2.47 .04 2.47 .04 2.47 .04 2.47 .04 2.47 .04 2.47 .04 2.47 .04 2.47 .04 2.47 .04 2.47 .04 2.47 .04 2.47 .04 2.47 .04 2.47 .04 2.47 .04 2.47 .04 2.47 .04 2.47 .04 2.47 .04 2.47 .04 2.47 .04 2.47 .04 2.47 .04 2.47 .04 2.47"/>
<path class="m5" d="M477.68 329.61l-.05 2.52-.05 2.52-.05 2.52-.05 2.52-.05 2.52-.05 2.52-.05 2.52-.05 2.52-.05 2.52-.05 2.52-.05 2.52-.05 2.52-.05 2.52-.05 2.52-.05 2.52-.05 2.52-.05 2.52-.05 2.52-.05 2.52-.05 2.52-.05 2.52-.05 2.52-.05 2.52-.05 2.52-.05 2.52-.05 2.52"/>
<path class="m15" d="M480.02 355.91l-.08 2.45-.08 2.45-.08 2.45-.08 2.45-.08 2.45-.08 2.45-.08 2.45-.08 2.45-.08 2.45-.08 2.45-.08 2.45-.08 2.45-.08 2.45-.08 2.45-.08 2.45-.08 2.45-.08 2.45"/>
<path class="m6" d="M481.16 376.15l.1 2.56 .1 2.56 .1 2.56 .1 2.56 .1 2.56 .1 2.56 .1 2.56 .1 2.56 .1 2.56 .1 2.56"/>
<path class="m1" d="M484.2 390.83l-.09 2.23-.09 2.23-.09 2.23-.09 2.23"/>
<path class="m151" d="M333.05 343.5l.06 2.52 .06 2.52 .06 2.52 .06 2.52 .06 2.52 .06 2.52 .06 2.52 .06 2.52 .06 2.52 .06 2.52 .06 2.52 .06 2.52 .06 2.52 .06 2.52 .06 2.52 .06 2.52 .06 2.52 .06 2.52 .06 2.52 .06 2.52 .06 2.52 .06 2.52 .06 2.52"/>
<path class="m152" d="M338.05 281l.07 2.45 .07 2.45 .07 2.45 .07 2.45 .07 2.45 .07 2.45 .07 2.45 .07 2.45 .07 2.45 .07 2.45 .07 2.45 .07 2.45 .07 2.45 .07 2.45 .07 2.45 .07 2.45 .07 2.45 .07 2.45 .07 2.45 .07 2.45"/>
<path class="m87" d="M339.62 289l-.15 3.67-.15 3.67-.15 3.67"/>
<path class="m153" d="M340.3 300l.04 2.5 .04 2.5 .04 2.5 .04 2.5 .04 2.5 .04 2.5 .04 2.5 .04 2.5 .04 2.5 .04 2.5 .04 2.5 .04 2.5 .04 2.5 .04 2.5 .04 2.5 .04 2.5 .04 2.5 .04 2.5 .04 2.5 .04 2.5 .04 2.5 .04 2.5 .04 2.5 .04 2.5 .04 2.5 .04 2.5 .04 2.5 .04 2.5 .04 2.5 .04 2.5 .04 2.5 .04 2.5"/>
<path class="m154" d="M343.2 246.2l-.06 2.45-.06 2.45-.06 2.45-.06 2.45-.06 2.45-.06 2.45-.06 2.45-.06 2.45-.06 2.45-.06 2.45-.06 2.45-.06 2.45-.06 2.45-.06 2.45-.06 2.45-.06 2.45-.06 2.45-.06 2.45-.06 2.45-.06 2.45-.06 2.45-.06 2.45"/>
<path class="m155" d="M345.5 272.9l0 .01"/>
<path class="m156" d="M345.4 275.41l0 .01"/>
<path class="m157" d="M345.3 277.92l-.1 2.51-.1 2.51-.1 2.51-.1 2.51-.1 2.51-.1 2.51-.1 2.51-.1 2.51"/>
<path class="m158" d="M345.26 283l.14 3.4 .14 3.4 .14 3.4 .14 3.4 .14 3.4"/>
<path class="m159" d="M337.7 314l-.06 2.52-.06 2.52-.06 2.52-.06 2.52-.06 2.52-.06 2.52-.06 2.52-.06 2.52-.06 2.52-.06 2.52-.06 2.52-.06 2.52-.06 2.52-.06 2.52-.06 2.52-.06 2.52-.06 2.52-.06 2.52-.06 2.52-.06 2.52-.06 2.52-.06 2.52-.06 2.52"/>
<path class="m160" d="M336.3 316l.08 3.11 .08 3.11 .08 3.11 .08 3.11 .08 3.11 .08 3.11 .08 3.11 .08 3.11 .08 3.11 .08 3.11 .08 3.11 .08 3.11 .08 3.11 .08 3.11 .08 3.11 .08 3.11 .08 3.11 .08 3.11"/>
<path class="m161" d="M337.43 372.5l-.1 2.39-.1 2.39-.1 2.39-.1 2.39-.1 2.39-.1 2.39-.1 2.39-.1 2.39-.1 2.39"/>
<path class="m162" d="M336.63 395l-.09 2.17"/>
<path class="m163" d="M336.46 399.33l0 .01"/>
<path class="m164" d="M336.37 401.5l0 .01"/>
<path class="m165" d="M342.88 378l.12 3 .12 3"/>
<path class="m166" d="M351.28 259.7l0 .01"/>
<path class="m167" d="M351.18 262.13l0 .01"/>
<path class="m168" d="M351.09 264.56l-.1 2.43-.1 2.43-.1 2.43-.1 2.43-.1 2.43-.1 2.43-.1 2.43-.1 2.43-.1 2.43-.1 2.43-.1 2.43-.1 2.43"/>
<path class="m166" d="M351.91 297l0 .01"/>
<path class="m167" d="M351.81 299.54l0 .01"/>
<path class="m168" d="M351.71 302.08l-.1 2.54-.1 2.54-.1 2.54-.1 2.54-.1 2.54-.1 2.54-.1 2.54-.1 2.54-.1 2.54-.1 2.54-.1 2.54"/>
<path class="m169" d="M348.7 310l-.09 2.5-.09 2.5-.09 2.5-.09 2.5-.09 2.5-.09 2.5-.09 2.5-.09 2.5-.09 2.5-.09 2.5-.09 2.5-.09 2.5-.09 2.5-.09 2.5-.09 2.5"/>
<path class="m170" d="M349 352.5l.1 2.5 .1 2.5 .1 2.5 .1 2.5 .1 2.5 .1 2.5 .1 2.5 .1 2.5"/>
<path class="m170" d="M350.69 367.5l-.1 2.46-.1 2.46-.1 2.46-.1 2.46-.1 2.46-.1 2.46-.1 2.46-.1 2.46-.1 2.46-.1 2.46-.1 2.46-.1 2.46-.1 2.46-.1 2.46"/>
<path class="m171" d="M357.3 266.5l0 .01"/>
<path class="m172" d="M357.38 269.06l0 .01"/>
<path class="m173" d="M357.46 271.62l.08 2.56 .08 2.56 .08 2.56 .08 2.56 .08 2.56 .08 2.56 .08 2.56 .08 2.56 .08 2.56 .08 2.56 .08 2.56 .08 2.56 .08 2.56 .08 2.56 .08 2.56"/>
<path class="m174" d="M357.24 300l-.12 3-.12 3-.12 3-.12 3"/>
<path class="m175" d="M357.12 322l.13 3.17 .13 3.17 .13 3.17 .13 3.17 .13 3.17 .13 3.17"/>
<path class="m176" d="M355.3 340l.08 2.5 .08 2.5 .08 2.5 .08 2.5 .08 2.5 .08 2.5 .08 2.5 .08 2.5 .08 2.5 .08 2.5 .08 2.5 .08 2.5 .08 2.5 .08 2.5 .08 2.5 .08 2.5 .08 2.5 .08 2.5"/>
<path class="m174" d="M354.8 342l.11 3.31 .11 3.31 .11 3.31 .11 3.31 .11 3.31 .11 3.31 .11 3.31 .11 3.31 .11 3.31 .11 3.31 .11 3.31 .11 3.31 .11 3.31"/>
<path class="m177" d="M354.76 381l-.1 2.57-.1 2.57-.1 2.57-.1 2.57-.1 2.57-.1 2.57-.1 2.57"/>
<path class="m178" d="M355.78 371l-.09 2.25-.09 2.25-.09 2.25-.09 2.25"/>
<path class="m179" d="M363.88 266.5l-.09 2.17-.09 2.17-.09 2.17"/>
<path class="m180" d="M364.03 274l-.09 2.33-.09 2.33-.09 2.33-.09 2.33-.09 2.33-.09 2.33"/>
<path class="m181" d="M368.2 283l0 .01"/>
<path class="m182" d="M368.11 285.47l0 .01"/>
<path class="m183" d="M368.01 287.93l-.09 2.47-.09 2.47-.09 2.47-.09 2.47-.09 2.47-.09 2.47-.09 2.47-.09 2.47-.09 2.47-.09 2.47-.09 2.47-.09 2.47-.09 2.47"/>
<path class="m184" d="M362.15 317.5l.14 3.5 .14 3.5 .14 3.5 .14 3.5 .14 3.5"/>
<path class="m185" d="M362.84 345l-.14 3.4-.14 3.4-.14 3.4-.14 3.4-.14 3.4"/>
<path class="m186" d="M364.76 362l-.12 3-.12 3-.12 3-.12 3-.12 3-.12 3"/>
<path class="m51" d="M362.8 377l-.1 2.5-.1 2.5-.1 2.5-.1 2.5-.1 2.5-.1 2.5"/>
<path class="m187" d="M359.97 391l.09 2.33 .09 2.33 .09 2.33 .09 2.33 .09 2.33 .09 2.33"/>
<path class="m188" d="M363 393l0 .01"/>
<path class="m132" d="M368.2 345l-.08 2.53-.08 2.53-.08 2.53-.08 2.53-.08 2.53-.08 2.53-.08 2.53-.08 2.53-.08 2.53-.08 2.53-.08 2.53-.08 2.53-.08 2.53-.08 2.53-.08 2.53-.08 2.53-.08 2.53"/>
<path class="m178" d="M367.5 390l0 .01"/>
<path class="m189" d="M371.03 320.5l0 .01"/>
<path class="m190" d="M371.13 323.11l0 .01"/>
<path class="m191" d="M371.24 325.72l.1 2.61 .1 2.61 .1 2.61 .1 2.61 .1 2.61 .1 2.61 .1 2.61"/>
<path class="m192" d="M373.2 342.5l-.1 2.5-.1 2.5-.1 2.5-.1 2.5"/>
<path class="m193" d="M371.3 353l.08 2.47 .08 2.47 .08 2.47 .08 2.47 .08 2.47 .08 2.47 .08 2.47 .08 2.47 .08 2.47 .08 2.47 .08 2.47 .08 2.47 .08 2.47 .08 2.47 .08 2.47 .08 2.47 .08 2.47"/>
<path class="m194" d="M371.22 396l.09 2.33 .09 2.33 .09 2.33 .09 2.33 .09 2.33 .09 2.33"/>
<path class="m195" d="M381.5 276.5l0 .01"/>
<path class="m196" d="M381.4 279l0 .01"/>
<path class="m197" d="M381.3 281.5l-.1 2.5-.1 2.5-.1 2.5"/>
<path class="m197" d="M378.13 324l.11 2.64 .11 2.64 .11 2.64 .11 2.64 .11 2.64 .11 2.64 .11 2.64"/>
<path class="m198" d="M378.7 343l-.06 2.48-.06 2.48-.06 2.48-.06 2.48-.06 2.48-.06 2.48-.06 2.48-.06 2.48-.06 2.48-.06 2.48-.06 2.48-.06 2.48-.06 2.48-.06 2.48-.06 2.48-.06 2.48-.06 2.48-.06 2.48-.06 2.48-.06 2.48-.06 2.48-.06 2.48-.06 2.48"/>
<path class="m197" d="M377.76 401l-.1 2.6-.1 2.6-.1 2.6-.1 2.6-.1 2.6"/>
<path class="m199" d="M383.63 283.5l-.09 2.17-.09 2.17-.09 2.17"/>
<path class="m200" d="M383.75 290l-.1 2.5-.1 2.5-.1 2.5-.1 2.5-.1 2.5"/>
<path class="m199" d="M383.36 303l.09 2.33 .09 2.33 .09 2.33"/>
<path class="m200" d="M383.9 310l-.1 2.5-.1 2.5-.1 2.5-.1 2.5-.1 2.5-.1 2.5-.1 2.5-.1 2.5"/>
<path class="m201" d="M384.68 334l0 .01"/>
<path class="m202" d="M384.79 336.67l0 .01"/>
<path class="m203" d="M384.89 339.33l.11 2.67 .11 2.67 .11 2.67 .11 2.67"/>
<path class="m204" d="M385.44 350l-.1 2.44-.1 2.44-.1 2.44-.1 2.44-.1 2.44-.1 2.44-.1 2.44-.1 2.44-.1 2.44"/>
<path class="m199" d="M379.54 354l.1 2.56 .1 2.56 .1 2.56 .1 2.56 .1 2.56 .1 2.56 .1 2.56 .1 2.56 .1 2.56"/>
<path class="m200" d="M381.37 377.5l.09 2.17 .09 2.17 .09 2.17"/>
<path class="m199" d="M380.92 385l.08 2 .08 2"/>
<path class="m200" d="M379.4 393.5l0 .01"/>
<path class="m205" d="M394.64 315l-.12 3-.12 3-.12 3-.12 3"/>
<path class="m206" d="M393.7 341l-.08 2.44-.08 2.44-.08 2.44-.08 2.44-.08 2.44-.08 2.44-.08 2.44-.08 2.44-.08 2.44-.08 2.44-.08 2.44-.08 2.44-.08 2.44-.08 2.44-.08 2.44-.08 2.44-.08 2.44-.08 2.44"/>
<path class="m207" d="M392.3 343l.11 3.23 .11 3.23 .11 3.23 .11 3.23 .11 3.23 .11 3.23 .11 3.23 .11 3.23 .11 3.23 .11 3.23 .11 3.23 .11 3.23 .11 3.23"/>
<path class="m208" d="M390.85 377.5l-.1 2.5-.1 2.5-.1 2.5-.1 2.5-.1 2.5"/>
<path class="m209" d="M390.36 391l-.1 2.57-.1 2.57-.1 2.57-.1 2.57-.1 2.57-.1 2.57-.1 2.57"/>
<path class="m210" d="M400.42 293l.09 2.25 .09 2.25 .09 2.25 .09 2.25"/>
<path class="m211" d="M400.46 303l.09 2.33 .09 2.33 .09 2.33"/>
<path class="m212" d="M404.15 310l-.1 2.5-.1 2.5-.1 2.5-.1 2.5-.1 2.5-.1 2.5-.1 2.5-.1 2.5"/>
<path class="m52" d="M404.13 311l-.13 3.17-.13 3.17-.13 3.17-.13 3.17-.13 3.17-.13 3.17"/>
<path class="m213" d="M401.77 346l-.13 3.25-.13 3.25-.13 3.25-.13 3.25-.13 3.25-.13 3.25-.13 3.25-.13 3.25"/>
<path class="m214" d="M400.6 373.75l0 .01"/>
<path class="m215" d="M398.71 377.5l.1 2.42 .1 2.42 .1 2.42 .1 2.42 .1 2.42 .1 2.42"/>
<path class="m93" d="M397.93 392.5l.14 3.5"/>
<path class="m142" d="M398.14 397l-.09 2.33-.09 2.33-.09 2.33"/>
<path class="m216" d="M405.7 377l-.09 2.53-.09 2.53-.09 2.53-.09 2.53-.09 2.53-.09 2.53-.09 2.53-.09 2.53-.09 2.53-.09 2.53-.09 2.53-.09 2.53-.09 2.53-.09 2.53-.09 2.53"/>
<path class="m217" d="M410.02 309.75l0 .01"/>
<path class="m218" d="M409.92 312.35l0 .01"/>
<path class="m219" d="M409.82 314.96l-.1 2.6-.1 2.6-.1 2.6-.1 2.6-.1 2.6-.1 2.6-.1 2.6-.1 2.6-.1 2.6-.1 2.6"/>
<path class="m219" d="M409.07 341l.23 5.67 .23 5.67 .23 5.67 .23 5.67 .23 5.67 .23 5.67"/>
<path class="m108" d="M409.3 376l.07 2.55 .07 2.55 .07 2.55 .07 2.55 .07 2.55 .07 2.55 .07 2.55 .07 2.55 .07 2.55 .07 2.55 .07 2.55 .07 2.55 .07 2.55 .07 2.55 .07 2.55 .07 2.55 .07 2.55 .07 2.55 .07 2.55 .07 2.55"/>
<path class="m220" d="M410.1 428l-.1 2.5-.1 2.5"/>
<path class="m221" d="M414.36 339l.13 3.2 .13 3.2 .13 3.2 .13 3.2 .13 3.2 .13 3.2 .13 3.2 .13 3.2 .13 3.2 .13 3.2"/>
<path class="m222" d="M415.33 371l-.09 2.36-.09 2.36-.09 2.36-.09 2.36-.09 2.36-.09 2.36-.09 2.36"/>
<path class="m223" d="M414.76 388l.1 2.4 .1 2.4 .1 2.4 .1 2.4 .1 2.4"/>
<path class="m224" d="M417.61 269.75l-.11 2.62-.11 2.62"/>
<path class="m225" d="M417.92 275l-.11 2.62-.11 2.62-.11 2.62-.11 2.62-.11 2.62-.11 2.62-.11 2.62-.11 2.62"/>
<path class="m226" d="M417.4 297l.1 2.5 .1 2.5"/>
<path class="m227" d="M418.17 303.5l0 .01"/>
<path class="m228" d="M418.26 305.86l0 .01"/>
<path class="m229" d="M418.36 308.21l.09 2.36 .09 2.36 .09 2.36 .09 2.36 .09 2.36"/>
<path class="m230" d="M420.54 320l-.1 2.45-.1 2.45-.1 2.45-.1 2.45-.1 2.45-.1 2.45-.1 2.45-.1 2.45-.1 2.45-.1 2.45-.1 2.45"/>
<path class="m231" d="M423.42 313.5l.09 2.36 .09 2.36 .09 2.36 .09 2.36 .09 2.36 .09 2.36 .09 2.36"/>
<path class="m231" d="M423.49 347l.1 2.6 .1 2.6 .1 2.6 .1 2.6 .1 2.6"/>
<path class="m100" d="M423.45 362l.1 2.5 .1 2.5 .1 2.5 .1 2.5 .1 2.5 .1 2.5"/>
<path class="m232" d="M423.62 377.5l.09 2.17 .09 2.17 .09 2.17"/>
<path class="m233" d="M426.67 315.5l0 .01"/>
<path class="m234" d="M426.56 318.33l0 .01"/>
<path class="m231" d="M426.44 321.17l-.11 2.83"/>
<path class="m231" d="M428.88 325l-.1 2.38-.1 2.38-.1 2.38-.1 2.38-.1 2.38-.1 2.38-.1 2.38-.1 2.38"/>
<path class="m235" d="M429.08 370l.11 2.67 .11 2.67 .11 2.67 .11 2.67 .11 2.67 .11 2.67"/>
<path class="m236" d="M429.65 387l-.1 2.48-.1 2.48-.1 2.48-.1 2.48-.1 2.48"/>
<path class="m237" d="M432.3 320l.06 2.5 .06 2.5 .06 2.5 .06 2.5 .06 2.5 .06 2.5 .06 2.5 .06 2.5 .06 2.5 .06 2.5 .06 2.5 .06 2.5 .06 2.5 .06 2.5 .06 2.5 .06 2.5 .06 2.5 .06 2.5 .06 2.5 .06 2.5 .06 2.5 .06 2.5 .06 2.5 .06 2.5"/>
<path class="m238" d="M436.39 310l-.09 2.33-.09 2.33-.09 2.33"/>
<path class="m239" d="M437.16 318l-.11 2.67-.11 2.67-.11 2.67"/>
<path class="m239" d="M435.82 366l.1 2.39 .1 2.39 .1 2.39 .1 2.39 .1 2.39 .1 2.39 .1 2.39 .1 2.39 .1 2.39"/>
<path class="m240" d="M439.3 280.5l0 .01"/>
<path class="m241" d="M439.36 282.98l0 .01"/>
<path class="m242" d="M439.42 285.46l.06 2.48 .06 2.48 .06 2.48 .06 2.48 .06 2.48 .06 2.48 .06 2.48 .06 2.48 .06 2.48 .06 2.48 .06 2.48 .06 2.48 .06 2.48 .06 2.48 .06 2.48 .06 2.48 .06 2.48 .06 2.48 .06 2.48 .06 2.48 .06 2.48 .06 2.48"/>
<path class="m243" d="M440.73 362l-.12 3-.12 3-.12 3-.12 3-.12 3-.12 3-.12 3-.12 3"/>
<path class="m244" d="M441.96 293l0 .01"/>
<path class="m245" d="M442.06 295.45l0 .01"/>
<path class="m246" d="M442.16 297.91l.1 2.45 .1 2.45 .1 2.45 .1 2.45 .1 2.45 .1 2.45 .1 2.45 .1 2.45 .1 2.45"/>
<path class="m97" d="M441.7 320l.1 2.5 .1 2.5 .1 2.5 .1 2.5 .1 2.5 .1 2.5 .1 2.5 .1 2.5 .1 2.5 .1 2.5 .1 2.5"/>
<path class="m247" d="M443.7 348l-.05 2.48-.05 2.48-.05 2.48-.05 2.48-.05 2.48-.05 2.48-.05 2.48-.05 2.48-.05 2.48-.05 2.48-.05 2.48-.05 2.48-.05 2.48-.05 2.48-.05 2.48-.05 2.48-.05 2.48-.05 2.48-.05 2.48-.05 2.48-.05 2.48-.05 2.48-.05 2.48-.05 2.48-.05 2.48-.05 2.48-.05 2.48-.05 2.48-.05 2.48-.05 2.48-.05 2.48"/>
<path class="m248" d="M448.05 367.5l-.1 2.5-.1 2.5-.1 2.5-.1 2.5-.1 2.5-.1 2.5-.1 2.5-.1 2.5-.1 2.5-.1 2.5-.1 2.5"/>
<path class="m248" d="M448.07 397.5l-.23 5.7-.23 5.7-.23 5.7-.23 5.7-.23 5.7"/>
<path class="m249" d="M452.37 321.5l0 .01"/>
<path class="m250" d="M452.26 324.14l0 .01"/>
<path class="m251" d="M452.16 326.79l-.11 2.64-.11 2.64-.11 2.64-.11 2.64-.11 2.64"/>
<path class="m252" d="M455.09 329.5l0 .01"/>
<path class="m253" d="M455.19 332.05l0 .01"/>
<path class="m254" d="M455.29 334.6l.1 2.55 .1 2.55 .1 2.55 .1 2.55 .1 2.55 .1 2.55 .1 2.55 .1 2.55"/>
<path class="m130" d="M458.91 337l-.16 4-.16 4"/>
<path class="m18" d="M456.7 355l-.09 2.5-.09 2.5-.09 2.5-.09 2.5-.09 2.5-.09 2.5-.09 2.5-.09 2.5-.09 2.5-.09 2.5-.09 2.5-.09 2.5-.09 2.5-.09 2.5-.09 2.5-.09 2.5"/>
<path class="m255" d="M453.72 384l.09 2.33 .09 2.33 .09 2.33 .09 2.33 .09 2.33 .09 2.33"/>
<path class="m256" d="M464.63 314.5l0 .01"/>
<path class="m257" d="M464.54 316.8l0 .01"/>
<path class="m258" d="M464.45 319.1l-.09 2.3-.09 2.3-.09 2.3"/>
<path class="m259" d="M464.2 327l.1 2.5 .1 2.5 .1 2.5 .1 2.5"/>
<path class="m260" d="M464.75 337.5l-.1 2.5-.1 2.5-.1 2.5-.1 2.5-.1 2.5-.1 2.5-.1 2.5"/>
<path class="m261" d="M464 360l.1 2.5 .1 2.5 .1 2.5 .1 2.5 .1 2.5 .1 2.5 .1 2.5 .1 2.5"/>
<path class="m262" d="M464.04 362l.12 3 .12 3 .12 3 .12 3 .12 3 .12 3"/>
<path class="m14" d="M462.96 378l-.1 2.56-.1 2.56-.1 2.56-.1 2.56-.1 2.56-.1 2.56-.1 2.56-.1 2.56-.1 2.56"/>
<path class="m260" d="M461.37 401l-.12 3-.12 3"/>
<path class="m263" d="M467.35 402.5l-.1 2.5-.1 2.5-.1 2.5-.1 2.5-.1 2.5-.1 2.5-.1 2.5"/>
<path class="m264" d="M466.92 421l.08 2 .08 2"/>
<path class="m265" d="M471.83 310l0 .01"/>
<path class="m266" d="M471.94 312.62l0 .01"/>
<path class="m267" d="M472.04 315.25l.11 2.62 .11 2.62 .11 2.62 .11 2.62 .11 2.62 .11 2.62"/>
<path class="m268" d="M471.87 312l.13 3.17 .13 3.17 .13 3.17 .13 3.17 .13 3.17 .13 3.17"/>
<path class="m269" d="M472.7 332l-.07 2.55-.07 2.55-.07 2.55-.07 2.55-.07 2.55-.07 2.55-.07 2.55-.07 2.55-.07 2.55-.07 2.55-.07 2.55-.07 2.55-.07 2.55-.07 2.55-.07 2.55-.07 2.55-.07 2.55-.07 2.55-.07 2.55-.07 2.55"/>
<path class="m270" d="M471.52 384l.1 2.4 .1 2.4 .1 2.4 .1 2.4 .1 2.4 .1 2.4 .1 2.4 .1 2.4 .1 2.4 .1 2.4"/>
<path class="m271" d="M472 411l0 .01"/>
<path class="m272" d="M473.84 377.5l-.09 2.25-.09 2.25"/>
<path class="m273" d="M474.75 374.4l0 .01"/>
<path class="m51" d="M478.25 309.75l-.1 2.45-.1 2.45-.1 2.45-.1 2.45-.1 2.45"/>
<path class="m274" d="M478.66 322l-.11 2.67-.11 2.67-.11 2.67"/>
<path class="m51" d="M478.64 331l-.09 2.33-.09 2.33-.09 2.33"/>
<path class="m274" d="M478.78 339l-.09 2.33-.09 2.33-.09 2.33-.09 2.33-.09 2.33-.09 2.33"/>
<path class="m51" d="M478.92 354l-.11 2.62-.11 2.62-.11 2.62-.11 2.62-.11 2.62-.11 2.62-.11 2.62-.11 2.62"/>
<path class="m275" d="M480.04 376l-.1 2.46-.1 2.46-.1 2.46-.1 2.46-.1 2.46-.1 2.46-.1 2.46-.1 2.46-.1 2.46-.1 2.46-.1 2.46-.1 2.46-.1 2.46"/>
<path class="m276" d="M482.84 360.5l0 .01"/>
<path class="m277" d="M482.74 362.93l0 .01"/>
<path class="m278" d="M482.65 365.36l-.1 2.43-.1 2.43-.1 2.43-.1 2.43-.1 2.43"/>
<path class="m231" d="M484.6 380l.1 2.5 .1 2.5 .1 2.5 .1 2.5 .1 2.5 .1 2.5 .1 2.5 .1 2.5"/>
<path class="m279" d="M485.38 401l-.1 2.38-.1 2.38-.1 2.38-.1 2.38-.1 2.38-.1 2.38-.1 2.38-.1 2.38"/>
<path class="m280" d="M485.23 379.5l0 .01"/>
<path class="m183" d="M485.34 382.14l0 .01"/>
<path class="m148" d="M485.44 384.79l.11 2.64 .11 2.64 .11 2.64 .11 2.64 .11 2.64"/>
<path class="m281" d="M485.6 400.6l0 .01"/>
<path class="m8" d="M543.1 417.82l-.11 2.64-.11 2.64-.11 2.64-.11 2.64-.11 2.64-.11 2.64-.11 2.64-.11 2.64"/>
<path class="m17" d="M545.45 416.25l-.1 2.39-.1 2.39-.1 2.39-.1 2.39-.1 2.39-.1 2.39-.1 2.39-.1 2.39-.1 2.39"/>
<path class="m12" d="M546.87 409.1l.1 2.52 .1 2.52 .1 2.52 .1 2.52 .1 2.52 .1 2.52 .1 2.52 .1 2.52 .1 2.52 .1 2.52"/>
<path class="m17" d="M549.02 391.34l.08 2.53 .08 2.53 .08 2.53 .08 2.53 .08 2.53 .08 2.53 .08 2.53 .08 2.53 .08 2.53 .08 2.53 .08 2.53 .08 2.53 .08 2.53 .08 2.53 .08 2.53 .08 2.53 .08 2.53"/>
<path class="m2" d="M552.77 387.8l-.07 2.46-.07 2.46-.07 2.46-.07 2.46-.07 2.46-.07 2.46-.07 2.46-.07 2.46-.07 2.46-.07 2.46-.07 2.46-.07 2.46-.07 2.46-.07 2.46-.07 2.46-.07 2.46-.07 2.46-.07 2.46-.07 2.46"/>
<path class="m4" d="M555.12 392.1l-.06 2.49-.06 2.49-.06 2.49-.06 2.49-.06 2.49-.06 2.49-.06 2.49-.06 2.49-.06 2.49-.06 2.49-.06 2.49-.06 2.49-.06 2.49-.06 2.49-.06 2.49-.06 2.49-.06 2.49-.06 2.49-.06 2.49-.06 2.49-.06 2.49-.06 2.49"/>
<path class="m12" d="M556.06 407.7l.06 2.48 .06 2.48 .06 2.48 .06 2.48 .06 2.48 .06 2.48 .06 2.48 .06 2.48 .06 2.48 .06 2.48 .06 2.48 .06 2.48 .06 2.48 .06 2.48 .06 2.48 .06 2.48 .06 2.48 .06 2.48 .06 2.48 .06 2.48 .06 2.48 .06 2.48"/>
<path class="m2" d="M558.41 423.03l.09 2.57 .09 2.57 .09 2.57 .09 2.57 .09 2.57 .09 2.57 .09 2.57 .09 2.57 .09 2.57 .09 2.57 .09 2.57 .09 2.57 .09 2.57 .09 2.57 .09 2.57 .09 2.57"/>
<path class="m7" d="M561.89 428.29l-.1 2.4-.1 2.4-.1 2.4-.1 2.4-.1 2.4-.1 2.4-.1 2.4-.1 2.4-.1 2.4"/>
<path class="m7" d="M563.45 428.18l.1 2.55 .1 2.55 .1 2.55 .1 2.55 .1 2.55 .1 2.55 .1 2.55"/>
<path class="m12" d="M565.82 428.06l.1 2.39 .1 2.39 .1 2.39 .1 2.39 .1 2.39 .1 2.39 .1 2.39"/>
<path class="m2" d="M568.13 423.92l.09 2.36 .09 2.36 .09 2.36 .09 2.36 .09 2.36 .09 2.36 .09 2.36 .09 2.36"/>
<path class="m9" d="M571.35 414.73l-.1 2.49-.1 2.49-.1 2.49-.1 2.49-.1 2.49-.1 2.49-.1 2.49-.1 2.49-.1 2.49-.1 2.49"/>
<path class="m16" d="M573.69 415.39l-.1 2.43-.1 2.43-.1 2.43-.1 2.43-.1 2.43-.1 2.43-.1 2.43-.1 2.43-.1 2.43-.1 2.43"/>
<path class="m10" d="M575.07 415.47l.1 2.43 .1 2.43 .1 2.43 .1 2.43 .1 2.43 .1 2.43 .1 2.43 .1 2.43 .1 2.43 .1 2.43"/>
<path class="m15" d="M577.33 422.6l.1 2.57 .1 2.57 .1 2.57 .1 2.57 .1 2.57 .1 2.57 .1 2.57 .1 2.57 .1 2.57 .1 2.57 .1 2.57"/>
<path class="m10" d="M580.77 425.24l-.1 2.61-.1 2.61-.1 2.61-.1 2.61-.1 2.61-.1 2.61-.1 2.61-.1 2.61-.1 2.61-.1 2.61"/>
<path class="m12" d="M583.07 425.3l-.11 2.63-.11 2.63-.11 2.63-.11 2.63-.11 2.63-.11 2.63-.11 2.63-.11 2.63-.11 2.63"/>
<path class="m12" d="M584.47 425.36l.11 2.63 .11 2.63 .11 2.63 .11 2.63 .11 2.63 .11 2.63 .11 2.63 .11 2.63 .11 2.63"/>
<path class="m11" d="M587.73 425.18l-.1 2.41-.1 2.41-.1 2.41-.1 2.41-.1 2.41-.1 2.41-.1 2.41-.1 2.41-.1 2.41"/>
<path class="m12" d="M589.26 425.12l.1 2.4 .1 2.4 .1 2.4 .1 2.4 .1 2.4 .1 2.4 .1 2.4 .1 2.4"/>
<path class="m4" d="M591.81 435.35l.09 2.28 .09 2.28 .09 2.28 .09 2.28"/>
<path class="m13" d="M594.16 435.43l.09 2.3 .09 2.3 .09 2.3 .09 2.3"/>
<path class="m13" d="M596.91 435.52l-.11 2.76-.11 2.76-.11 2.76-.11 2.76"/>
<path class="m8" d="M599.32 431.61l-.1 2.4-.1 2.4-.1 2.4-.1 2.4-.1 2.4-.1 2.4"/>
<path class="m9" d="M601.8 425.04l-.1 2.62-.1 2.62-.1 2.62-.1 2.62-.1 2.62-.1 2.62-.1 2.62-.1 2.62"/>
<path class="m12" d="M604.27 419.2l-.1 2.44-.1 2.44-.1 2.44-.1 2.44-.1 2.44-.1 2.44-.1 2.44-.1 2.44-.1 2.44-.1 2.44-.1 2.44"/>
<path class="m9" d="M605.61 422.64l.1 2.6 .1 2.6 .1 2.6 .1 2.6 .1 2.6 .1 2.6 .1 2.6 .1 2.6 .1 2.6"/>
<path class="m2" d="M607.95 426.58l.1 2.42 .1 2.42 .1 2.42 .1 2.42 .1 2.42 .1 2.42 .1 2.42 .1 2.42 .1 2.42 .1 2.42"/>
<path class="m15" d="M610.31 435.04l.1 2.59 .1 2.59 .1 2.59 .1 2.59 .1 2.59 .1 2.59 .1 2.59 .1 2.59 .1 2.59"/>
<path class="m16" d="M613.59 437.47l-.1 2.56-.1 2.56-.1 2.56-.1 2.56-.1 2.56-.1 2.56-.1 2.56-.1 2.56-.1 2.56"/>
<path class="m2" d="M615.98 437.56l-.1 2.54-.1 2.54-.1 2.54-.1 2.54-.1 2.54-.1 2.54-.1 2.54-.1 2.54-.1 2.54-.1 2.54"/>
<path class="m10" d="M617.37 435.71l.1 2.51 .1 2.51 .1 2.51 .1 2.51 .1 2.51 .1 2.51 .1 2.51 .1 2.51 .1 2.51"/>
<path class="m3" d="M620.41 438.6l-.09 2.36-.09 2.36-.09 2.36-.09 2.36-.09 2.36"/>
<path class="m4" d="M622.29 438.63l.09 2.34 .09 2.34 .09 2.34 .09 2.34 .09 2.34"/>
<path class="m11" d="M624.65 438.67l.11 2.77 .11 2.77 .11 2.77 .11 2.77"/>
<path class="m7" d="M627.09 442.98l.12 3.11 .12 3.11"/>
<path class="m12" d="M634.17 450.63l.09 2.32 .09 2.32"/>
<path class="m17" d="M636.81 450.72l-.1 2.44-.1 2.44-.1 2.44-.1 2.44"/>
<path class="m17" d="M638.75 446.74l.11 2.64 .11 2.64 .11 2.64 .11 2.64"/>
<path class="m13" d="M640.95 436.46l.1 2.56 .1 2.56 .1 2.56 .1 2.56 .1 2.56 .1 2.56 .1 2.56"/>
<path class="m9" d="M644.19 427.89l-.1 2.41-.1 2.41-.1 2.41-.1 2.41-.1 2.41-.1 2.41-.1 2.41-.1 2.41-.1 2.41-.1 2.41-.1 2.41"/>
<path class="m6" d="M645.47 427.85l.1 2.42 .1 2.42 .1 2.42 .1 2.42 .1 2.42 .1 2.42 .1 2.42 .1 2.42 .1 2.42 .1 2.42 .1 2.42"/>
<path class="m1" d="M647.73 426.66l.1 2.58 .1 2.58 .1 2.58 .1 2.58 .1 2.58 .1 2.58 .1 2.58 .1 2.58 .1 2.58 .1 2.58 .1 2.58 .1 2.58"/>
<path class="m11" d="M650 425.87l.1 2.56 .1 2.56 .1 2.56 .1 2.56 .1 2.56 .1 2.56 .1 2.56 .1 2.56 .1 2.56 .1 2.56 .1 2.56 .1 2.56 .1 2.56 .1 2.56"/>
<path class="m17" d="M652.35 425.85l.09 2.52 .09 2.52 .09 2.52 .09 2.52 .09 2.52 .09 2.52 .09 2.52 .09 2.52 .09 2.52 .09 2.52 .09 2.52 .09 2.52 .09 2.52 .09 2.52 .09 2.52"/>
<path class="m0" d="M654.83 431.25l.1 2.6 .1 2.6 .1 2.6 .1 2.6 .1 2.6 .1 2.6 .1 2.6 .1 2.6 .1 2.6 .1 2.6 .1 2.6"/>
<path class="m11" d="M658.17 438.43l-.09 2.37-.09 2.37-.09 2.37-.09 2.37-.09 2.37-.09 2.37-.09 2.37-.09 2.37-.09 2.37"/>
<path class="m17" d="M659.69 439.44l.1 2.53 .1 2.53 .1 2.53 .1 2.53 .1 2.53 .1 2.53 .1 2.53 .1 2.53"/>
<path class="m15" d="M662.05 442.22l.1 2.48 .1 2.48 .1 2.48 .1 2.48 .1 2.48 .1 2.48 .1 2.48 .1 2.48"/>
<path class="m2" d="M664.6 453.62l.1 2.41 .1 2.41 .1 2.41 .1 2.41"/>
<path class="m1" d="M669.6 460.92l-.11 2.74-.11 2.74"/>
<path class="m3" d="M671.6 460.96l.1 2.43 .1 2.43 .1 2.43 .1 2.43 .1 2.43"/>
<path class="m15" d="M674.48 461l-.1 2.47-.1 2.47-.1 2.47-.1 2.47-.1 2.47-.1 2.47"/>
<path class="m15" d="M676.73 459.68l-.1 2.38-.1 2.38-.1 2.38-.1 2.38"/>
<path class="m5" d="M678.71 457.24l.09 2.21 .09 2.21 .09 2.21 .09 2.21"/>
<path class="m10" d="M681.44 455.75l-.1 2.57-.1 2.57-.1 2.57-.1 2.57"/>
<path class="m15" d="M683.21 448.52l.11 2.67 .11 2.67 .11 2.67 .11 2.67 .11 2.67 .11 2.67 .11 2.67"/>
<path class="m4" d="M685.81 463.66l.12 2.95 .12 2.95"/>
<path class="m129" d="M539.52 416l-.1 2.6-.1 2.6-.1 2.6-.1 2.6-.1 2.6-.1 2.6-.1 2.6-.1 2.6-.1 2.6-.1 2.6"/>
<path class="m282" d="M541.3 410l.09 2.43 .09 2.43 .09 2.43 .09 2.43 .09 2.43 .09 2.43 .09 2.43 .09 2.43 .09 2.43 .09 2.43 .09 2.43 .09 2.43 .09 2.43 .09 2.43 .09 2.43"/>
<path class="m283" d="M545 403l0 2.56 0 2.56 0 2.56 0 2.56 0 2.56 0 2.56 0 2.56 0 2.56 0 2.56 0 2.56 0 2.56 0 2.56 0 2.56 0 2.56 0 2.56 0 2.56 0 2.56"/>
<path class="m260" d="M541.44 444l.12 3"/>
<path class="m18" d="M543.5 436l0 1.9 0 1.9"/>
<path class="m188" d="M543.5 441l0 3"/>
<path class="m18" d="M543.5 445.8l0 .01"/>
<path class="m264" d="M547 440.6l0 .01"/>
<path class="m284" d="M547.5 444.4l0 .01"/>
<path class="m285" d="M549.43 369.5l-.05 1.3"/>
<path class="m271" d="M549.96 372l-.1 2.55-.1 2.55-.1 2.55-.1 2.55-.1 2.55-.1 2.55-.1 2.55-.1 2.55-.1 2.55-.1 2.55-.1 2.55"/>
<path class="m285" d="M549.94 401.8l-.1 2.45-.1 2.45-.1 2.45-.1 2.45-.1 2.45-.1 2.45-.1 2.45-.1 2.45-.1 2.45-.1 2.45-.1 2.45"/>
<path class="m271" d="M549.32 430l.08 2 .08 2"/>
<path class="m285" d="M549.32 435.8l.08 2.1 .08 2.1"/>
<path class="m286" d="M553.5 380.75l0 2.05"/>
<path class="m287" d="M553.5 384l0 2"/>
<path class="m286" d="M553.5 387.8l0 2.47 0 2.47 0 2.47 0 2.47 0 2.47 0 2.47 0 2.47 0 2.47 0 2.47"/>
<path class="m288" d="M552.5 407.5l0 2.3"/>
<path class="m289" d="M552.5 411l0 2"/>
<path class="m288" d="M552.5 414.8l0 2 0 2"/>
<path class="m289" d="M552.5 420l0 3"/>
<path class="m288" d="M552.5 424.8l0 2 0 2"/>
<path class="m271" d="M552.5 430l0 2 0 2"/>
<path class="m183" d="M556.5 384l0 1.3"/>
<path class="m290" d="M556.5 386.5l0 2.5"/>
<path class="m183" d="M556.5 390.8l0 2.33 0 2.33 0 2.33"/>
<path class="m290" d="M556.5 399l0 2"/>
<path class="m183" d="M556.5 402.8l0 2.3 0 2.3 0 2.3 0 2.3"/>
<path class="m291" d="M554.29 437l-.1 2.45-.1 2.45-.1 2.45-.1 2.45-.1 2.45-.1 2.45-.1 2.45-.1 2.45-.1 2.45-.1 2.45-.1 2.45"/>
<path class="m292" d="M556.35 440l.1 2.52 .1 2.52 .1 2.52 .1 2.52 .1 2.52 .1 2.52 .1 2.52 .1 2.52 .1 2.52 .1 2.52 .1 2.52 .1 2.52 .1 2.52"/>
<path class="m293" d="M555 451l0 2.42 0 2.42 0 2.42 0 2.42 0 2.42 0 2.42 0 2.42 0 2.42 0 2.42"/>
<path class="m122" d="M556.6 451l0 2.42 0 2.42 0 2.42 0 2.42 0 2.42 0 2.42 0 2.42 0 2.42 0 2.42"/>
<path class="m294" d="M560 407.25l0 2.05"/>
<path class="m295" d="M560 410.5l0 2.5"/>
<path class="m294" d="M560 414.8l0 2.52 0 2.52 0 2.52 0 2.52 0 2.52 0 2.52 0 2.52 0 2.52 0 2.52 0 2.52"/>
<path class="m294" d="M561.5 417l0 .8"/>
<path class="m296" d="M561.5 419l0 2.5"/>
<path class="m294" d="M561.5 423.3l0 2.39 0 2.39 0 2.39 0 2.39 0 2.39 0 2.39 0 2.39"/>
<path class="m294" d="M561.5 450l0 2.44 0 2.44 0 2.44 0 2.44 0 2.44 0 2.44 0 2.44 0 2.44 0 2.44"/>
<path class="m297" d="M562.25 462.25l0 .01"/>
<path class="m298" d="M565.03 423.5l-.1 2.42-.1 2.42-.1 2.42-.1 2.42-.1 2.42-.1 2.42-.1 2.42-.1 2.42-.1 2.42-.1 2.42-.1 2.42-.1 2.42-.1 2.42"/>
<path class="m14" d="M566.55 437l-.1 2.5-.1 2.5-.1 2.5-.1 2.5-.1 2.5-.1 2.5"/>
<path class="m299" d="M570.6 399.5l0 2.3"/>
<path class="m161" d="M570.6 403l0 2"/>
<path class="m299" d="M570.6 406.8l0 2.54 0 2.54 0 2.54 0 2.54 0 2.54 0 2.54 0 2.54 0 2.54 0 2.54 0 2.54 0 2.54 0 2.54 0 2.54 0 2.54 0 2.54 0 2.54 0 2.54"/>
<path class="m159" d="M568.75 406l0 .8"/>
<path class="m161" d="M568.75 408l0 2"/>
<path class="m159" d="M568.75 411.8l0 1"/>
<path class="m161" d="M568.75 414l0 2"/>
<path class="m159" d="M568.75 417.8l0 2.4 0 2.4 0 2.4 0 2.4 0 2.4"/>
<path class="m300" d="M568.75 431l0 2"/>
<path class="m159" d="M568.75 434.8l0 2"/>
<path class="m300" d="M568.75 438l0 2"/>
<path class="m159" d="M568.75 441.8l0 3.2"/>
<path class="m301" d="M573.75 410l0 2.7 0 2.7 0 2.7 0 2.7"/>
<path class="m302" d="M573.75 422l0 2"/>
<path class="m301" d="M573.75 425.8l0 2.4 0 2.4 0 2.4 0 2.4 0 2.4 0 2.4 0 2.4 0 2.4"/>
<path class="m303" d="M577.5 404.75l0 1.05"/>
<path class="m304" d="M577.5 407l0 2"/>
<path class="m303" d="M577.5 410.8l0 2.4 0 2.4 0 2.4 0 2.4 0 2.4 0 2.4 0 2.4 0 2.4"/>
<path class="m303" d="M578.75 413.3l0 .01"/>
<path class="m305" d="M578.75 414.5l0 2"/>
<path class="m303" d="M578.75 418.3l0 2.41 0 2.41 0 2.41 0 2.41 0 2.41 0 2.41 0 2.41 0 2.41 0 2.41"/>
<path class="m306" d="M579 416.8l0 .01"/>
<path class="m168" d="M579 418l0 2"/>
<path class="m306" d="M579 421.8l0 1"/>
<path class="m168" d="M579 424l0 3"/>
<path class="m306" d="M579 428.8l0 2.7 0 2.7 0 2.7 0 2.7 0 2.7 0 2.7"/>
<path class="m307" d="M576.59 445l-.1 2.43-.1 2.43-.1 2.43-.1 2.43-.1 2.43-.1 2.43-.1 2.43"/>
<path class="m307" d="M579.2 452l0 2.57 0 2.57 0 2.57 0 2.57 0 2.57 0 2.57 0 2.57"/>
<path class="m170" d="M579.4 465.6l0 .01"/>
<path class="m308" d="M585 416.5l0 1.3"/>
<path class="m165" d="M585 419l0 2"/>
<path class="m308" d="M585 422.8l0 2.48 0 2.48 0 2.48 0 2.48 0 2.48 0 2.48 0 2.48 0 2.48 0 2.48 0 2.48 0 2.48 0 2.48 0 2.48"/>
<path class="m309" d="M587.5 435l0 2.6 0 2.6 0 2.6"/>
<path class="m310" d="M587.5 444l0 2"/>
<path class="m309" d="M587.5 447.8l0 2 0 2"/>
<path class="m311" d="M587.5 453l0 3"/>
<path class="m309" d="M587.5 457.8l0 1.7"/>
<path class="m312" d="M591.25 413l0 2.8"/>
<path class="m313" d="M591.25 417l0 2"/>
<path class="m312" d="M591.25 420.8l0 2.43 0 2.43 0 2.43 0 2.43 0 2.43 0 2.43 0 2.43 0 2.43 0 2.43 0 2.43 0 2.43 0 2.43"/>
<path class="m314" d="M594.2 427.8l0 .01"/>
<path class="m315" d="M594.2 429l0 2 0 2"/>
<path class="m314" d="M594.2 434.8l0 2.46 0 2.46 0 2.46 0 2.46 0 2.46 0 2.46 0 2.46"/>
<path class="m314" d="M598 440l0 2.63 0 2.63 0 2.63 0 2.63 0 2.63 0 2.63"/>
<path class="m316" d="M598 457l0 3.5"/>
<path class="m317" d="M600.3 413l.09 2.44 .09 2.44 .09 2.44 .09 2.44 .09 2.44 .09 2.44 .09 2.44 .09 2.44 .09 2.44 .09 2.44 .09 2.44 .09 2.44 .09 2.44 .09 2.44 .09 2.44 .09 2.44"/>
<path class="m318" d="M605.3 413l.09 2.44 .09 2.44 .09 2.44 .09 2.44 .09 2.44 .09 2.44 .09 2.44 .09 2.44 .09 2.44 .09 2.44 .09 2.44 .09 2.44 .09 2.44 .09 2.44 .09 2.44 .09 2.44"/>
<path class="m317" d="M602.3 411.5l.09 2.57 .09 2.57 .09 2.57 .09 2.57 .09 2.57 .09 2.57 .09 2.57 .09 2.57 .09 2.57 .09 2.57 .09 2.57 .09 2.57 .09 2.57 .09 2.57 .09 2.57"/>
<path class="m319" d="M606 417l0 2.6 0 2.6 0 2.6 0 2.6 0 2.6"/>
<path class="m317" d="M606.4 416l0 2.5 0 2.5 0 2.5 0 2.5 0 2.5 0 2.5"/>
<path class="m320" d="M607.05 441l.1 2.5 .1 2.5 .1 2.5 .1 2.5 .1 2.5 .1 2.5 .1 2.5 .1 2.5 .1 2.5"/>
<path class="m291" d="M610.6 419.75l0 .55"/>
<path class="m321" d="M610.6 421.5l0 1.5"/>
<path class="m291" d="M610.6 424.3l0 .5"/>
<path class="m321" d="M610.6 425.5l0 1.5"/>
<path class="m291" d="M610.6 428.8l0 2.65 0 2.65 0 2.65 0 2.65 0 2.65 0 2.65 0 2.65 0 2.65"/>
<path class="m285" d="M611.25 456l0 2.8"/>
<path class="m322" d="M611.25 460l0 2"/>
<path class="m285" d="M611.25 462.8l0 1"/>
<path class="m322" d="M611.25 464l0 1.5"/>
<path class="m323" d="M613.25 435l.1 2.5 .1 2.5 .1 2.5 .1 2.5 .1 2.5 .1 2.5 .1 2.5 .1 2.5 .1 2.5 .1 2.5"/>
<path class="m66" d="M618.5 424.75l0 .75"/>
<path class="m324" d="M618.5 427l0 1"/>
<path class="m291" d="M618.5 429.8l0 2.55 0 2.55 0 2.55 0 2.55"/>
<path class="m325" d="M617 454l0 2.8"/>
<path class="m326" d="M617 458l0 2"/>
<path class="m325" d="M617 461.8l0 2.6 0 2.6 0 2.6 0 2.6 0 2.6"/>
<path class="m327" d="M617 476l0 2.5 0 2.5"/>
<path class="m328" d="M617.4 439l0 2.5 0 2.5"/>
<path class="m211" d="M617.25 446.25l0 .01"/>
<path class="m329" d="M621.54 433l.1 2.56 .1 2.56 .1 2.56 .1 2.56 .1 2.56 .1 2.56 .1 2.56 .1 2.56 .1 2.56"/>
<path class="m330" d="M626.6 429.75l0 1.55"/>
<path class="m331" d="M626.6 432.5l0 1.5"/>
<path class="m330" d="M626.6 435.8l0 2.4 0 2.4 0 2.4 0 2.4 0 2.4 0 2.4 0 2.4 0 2.4"/>
<path class="m330" d="M630.36 437.9l-.1 2.59-.1 2.59-.1 2.59-.1 2.59-.1 2.59-.1 2.59-.1 2.59"/>
<path class="m332" d="M624.94 456l.12 3"/>
<path class="m333" d="M630.6 441l0 .01"/>
<path class="m334" d="M630.6 442.9l0 2.62 0 2.62 0 2.62 0 2.62 0 2.62"/>
<path class="m335" d="M633.5 445.5l0 .8"/>
<path class="m336" d="M633.5 447.5l0 1.5"/>
<path class="m335" d="M633.5 450.8l0 2.74 0 2.74 0 2.74 0 2.74 0 2.74"/>
<path class="m335" d="M634.84 462l.11 2.67 .11 2.67 .11 2.67"/>
<path class="m337" d="M637.44 440l.1 2.55 .1 2.55 .1 2.55 .1 2.55 .1 2.55 .1 2.55 .1 2.55 .1 2.55 .1 2.55 .1 2.55 .1 2.55"/>
<path class="m338" d="M642.12 419.75l-.12 3.12-.12 3.12"/>
<path class="m339" d="M643.06 427l-.1 2.55-.1 2.55-.1 2.55-.1 2.55-.1 2.55-.1 2.55-.1 2.55-.1 2.55-.1 2.55-.1 2.55-.1 2.55"/>
<path class="m340" d="M642 430l0 2.5 0 2.5 0 2.5 0 2.5 0 2.5 0 2.5 0 2.5 0 2.5"/>
<path class="m339" d="M642.5 429l0 2.44 0 2.44 0 2.44 0 2.44 0 2.44 0 2.44 0 2.44 0 2.44 0 2.44"/>
<path class="m341" d="M640 453.75l0 .01"/>
<path class="m342" d="M638.7 456l0 2.4 0 2.4 0 2.4 0 2.4 0 2.4"/>
<path class="m177" d="M640 458.5l0 .01"/>
<path class="m343" d="M635.5 470l0 .01"/>
<path class="m344" d="M650.3 422l.07 2.53 .07 2.53 .07 2.53 .07 2.53 .07 2.53 .07 2.53 .07 2.53 .07 2.53 .07 2.53 .07 2.53 .07 2.53 .07 2.53 .07 2.53 .07 2.53 .07 2.53 .07 2.53 .07 2.53 .07 2.53 .07 2.53"/>
<path class="m345" d="M647.5 417.8l0 .7"/>
<path class="m225" d="M647.5 419l0 2"/>
<path class="m345" d="M647.5 422.8l0 .01"/>
<path class="m225" d="M647.5 424l0 2"/>
<path class="m345" d="M647.5 427.8l0 .01"/>
<path class="m225" d="M647.5 429l0 2"/>
<path class="m346" d="M648.12 434l-.12 3-.12 3"/>
<path class="m347" d="M647.47 441l.1 2.41 .1 2.41 .1 2.41 .1 2.41 .1 2.41 .1 2.41 .1 2.41 .1 2.41 .1 2.41 .1 2.41 .1 2.41"/>
<path class="m348" d="M655.25 408.5l0 .01"/>
<path class="m349" d="M655.25 410l0 2"/>
<path class="m348" d="M655.25 413.8l0 1.5"/>
<path class="m349" d="M655.25 416.5l0 2"/>
<path class="m348" d="M655.25 420.3l0 .7"/>
<path class="m350" d="M656.5 420.8l0 .01"/>
<path class="m231" d="M656.5 422l0 2"/>
<path class="m350" d="M656.5 425.8l0 2.2"/>
<path class="m351" d="M652.76 440l.1 2.4 .1 2.4 .1 2.4 .1 2.4 .1 2.4"/>
<path class="m352" d="M654 451l0 .8"/>
<path class="m353" d="M654 453l0 3"/>
<path class="m352" d="M654 457.8l0 2.9"/>
<path class="m354" d="M654 461.9l0 .01"/>
<path class="m352" d="M654 463.8l0 3 0 3"/>
<path class="m355" d="M654 471l0 2.5 0 2.5"/>
<path class="m352" d="M654 477.8l0 1.95 0 1.95"/>
<path class="m356" d="M654 482.9l0 .01"/>
<path class="m357" d="M658.08 431.5l.1 2.58 .1 2.58 .1 2.58 .1 2.58 .1 2.58 .1 2.58 .1 2.58 .1 2.58 .1 2.58 .1 2.58 .1 2.58 .1 2.58 .1 2.58"/>
<path class="m358" d="M660.3 433l.1 2.5 .1 2.5 .1 2.5 .1 2.5 .1 2.5 .1 2.5 .1 2.5 .1 2.5 .1 2.5 .1 2.5 .1 2.5 .1 2.5 .1 2.5 .1 2.5"/>
<path class="m235" d="M664.4 434l0 2.3"/>
<path class="m304" d="M664.4 437.5l0 1.5"/>
<path class="m235" d="M664.4 440.8l0 2.5 0 2.5 0 2.5 0 2.5 0 2.5 0 2.5 0 2.5 0 2.5 0 2.5 0 2.5"/>
<path class="m359" d="M664.4 467l0 1"/>
<path class="m235" d="M664.4 469.8l0 .01"/>
<path class="m237" d="M666.25 446.8l0 .01"/>
<path class="m360" d="M666.25 448l0 2.5"/>
<path class="m237" d="M666.25 452.3l0 2.53 0 2.53 0 2.53 0 2.53 0 2.53 0 2.53 0 2.53"/>
<path class="m361" d="M669.5 454.3l0 .01"/>
<path class="m362" d="M669.5 455.5l0 3"/>
<path class="m361" d="M669.5 460.3l0 2.58 0 2.58 0 2.58 0 2.58 0 2.58 0 2.58"/>
<path class="m363" d="M669.5 477l0 .01"/>
<path class="m361" d="M669.5 478.9l0 1.1"/>
<path class="m364" d="M673.54 455l-.1 2.45-.1 2.45-.1 2.45-.1 2.45-.1 2.45-.1 2.45-.1 2.45-.1 2.45-.1 2.45-.1 2.45-.1 2.45"/>
<path class="m323" d="M675.8 450.8l0 .7"/>
<path class="m365" d="M675.8 452l0 1.5"/>
<path class="m323" d="M675.8 455.3l0 2.42 0 2.42 0 2.42 0 2.42 0 2.42 0 2.42"/>
<path class="m365" d="M675.8 471l0 1"/>
<path class="m323" d="M675.8 473.8l0 2"/>
<path class="m316" d="M675.8 477l0 .01"/>
<path class="m323" d="M675.8 478.9l0 1.95 0 1.95"/>
<path class="m365" d="M675.8 484l0 .01"/>
<path class="m323" d="M675.8 485.9l0 2.6"/>
<path class="m312" d="M680 450l0 2.54 0 2.54 0 2.54 0 2.54 0 2.54 0 2.54 0 2.54"/>
<path class="m366" d="M680 469l0 .01"/>
<path class="m312" d="M680 470.9l0 1.1"/>
<path class="m334" d="M685.5 431.5l0 2.43 0 2.43 0 2.43"/>
<path class="m333" d="M685.5 440l0 2"/>
<path class="m334" d="M685.5 443.8l0 .01"/>
<path class="m333" d="M685.5 445l0 2"/>
<path class="m334" d="M685.5 448.8l0 .01"/>
<path class="m333" d="M685.5 450l0 2 0 2"/>
<path class="m334" d="M685.5 455.8l0 2.42 0 2.42 0 2.42 0 2.42 0 2.42 0 2.42 0 2.42 0 2.42 0 2.42 0 2.42"/>
<path class="m335" d="M688.75 459l0 2.4 0 2.4"/>
<path class="m367" d="M688.75 465l0 3 0 3"/>
<path class="m335" d="M688.75 472.8l0 2.2"/>
<path class="m368" d="M692 478.3l0 .01"/>
<path class="m369" d="M692 479.5l0 1.5"/>
<path class="m368" d="M692 482.8l0 3 0 3"/>
<path class="m370" d="M692 490l0 2"/>
<path class="m371" d="M692 487.5l0 .01"/>
<path class="m370" d="M692 491.5l0 .5"/>
</g>
<rect x="100.5" y="60.5" width="620" height="480" fill="none" stroke="#000" stroke-width="1"/>
<path d="M166.5 540.5v-6.2M166.5 60.5v6.2M260.5 540.5v-6.2M260.5 60.5v6.2M354.5 540.5v-6.2M354.5 60.5v6.2M448.5 540.5v-6.2M448.5 60.5v6.2M542.5 540.5v-6.2M542.5 60.5v6.2M635.5 540.5v-6.2M635.5 60.5v6.2M100.5 518.5h6.2M720.5 518.5h-6.2M100.5 378.5h6.2M720.5 378.5h-6.2M100.5 237.5h6.2M720.5 237.5h-6.2M100.5 97.5h6.2M720.5 97.5h-6.2" stroke="#000" stroke-width="0.6" fill="none"/>
<text class="t" x="165.7" y="554.6" text-anchor="middle">20000</text>
<text class="t" x="259.7" y="554.6" text-anchor="middle">25000</text>
<text class="t" x="353.7" y="554.6" text-anchor="middle">30000</text>
<text class="t" x="447.7" y="554.6" text-anchor="middle">35000</text>
<text class="t" x="541.7" y="554.6" text-anchor="middle">40000</text>
<text class="t" x="634.7" y="554.6" text-anchor="middle">45000</text>
<text class="t" x="93.2" y="522.1" text-anchor="end">0</text>
<text class="t" x="93.2" y="382.1" text-anchor="end">5</text>
<text class="t" x="93.2" y="241.1" text-anchor="end">10</text>
<text class="t" x="93.2" y="101.1" text-anchor="end">15</text>
<text class="l" x="409.5" y="573.5" text-anchor="middle">Frequency (MHz)</text>
<text class="l" x="0" y="0" text-anchor="middle" transform="translate(67,301) rotate(-90)">Gain Amplitude</text>
<text class="h" x="410.5" y="53" text-anchor="middle" xml:space="preserve" style="white-space:pre">B table: 15A-372.sb30143638.eb30514549.57111.49675229167.ms.finalBPcal.b      Antenna='ea20'</text>
</svg>
</body></html>
